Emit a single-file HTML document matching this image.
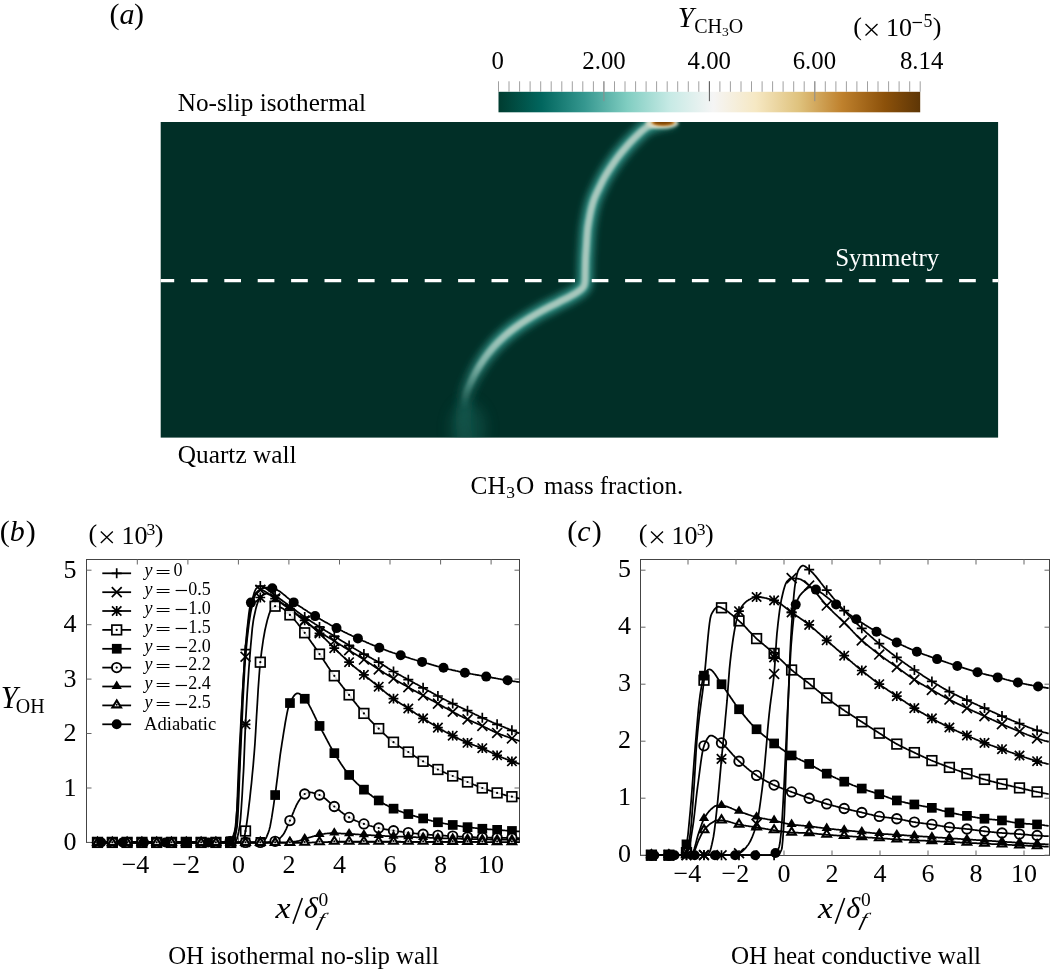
<!DOCTYPE html>
<html><head><meta charset="utf-8"><title>figure</title>
<style>
html,body{margin:0;padding:0;background:#fff}
svg{display:block;will-change:transform}
text{font-family:"Liberation Serif",serif;fill:#000}
.it{font-style:italic}
.t25{font-size:24.8px}
.tk{font-size:26px}
.lg{font-size:18px}
.ch .ln{fill:none;stroke:#000;stroke-width:1.75;stroke-linejoin:round}
.mk *{fill:none;stroke:#000}
.mk{stroke-width:1.7}
.mk .f{fill:#000;stroke:none}
.mk .d{fill:#000;stroke:none}
.mk .w{fill:#fff;fill-opacity:0.85}
.lgm .w{fill-opacity:1}
.ax rect{fill:none;stroke:#444;stroke-width:1}
.ax path{fill:none;stroke:#666;stroke-width:1}
</style></head><body>
<svg width="1050" height="970" viewBox="0 0 1050 970">
<defs>
<linearGradient id="cb" x1="0" x2="1.0175" y1="0" y2="0">
<stop offset="0" stop-color="#003c30"/><stop offset="0.1" stop-color="#01665e"/><stop offset="0.2" stop-color="#35978f"/><stop offset="0.3" stop-color="#80cdc1"/><stop offset="0.4" stop-color="#c7eae5"/><stop offset="0.5" stop-color="#f5f5f5"/><stop offset="0.6" stop-color="#f6e8c3"/><stop offset="0.7" stop-color="#dfc27d"/><stop offset="0.8" stop-color="#bf812d"/><stop offset="0.9" stop-color="#8c510a"/><stop offset="1" stop-color="#543005"/>
</linearGradient>
<linearGradient id="fadeG" gradientUnits="userSpaceOnUse" x1="0" y1="122" x2="0" y2="438">
<stop offset="0" stop-color="#2f8f84" stop-opacity="1"/><stop offset="0.68" stop-color="#2f8f84" stop-opacity="1"/><stop offset="0.78" stop-color="#2a8378" stop-opacity="0.75"/><stop offset="0.88" stop-color="#1f6f64" stop-opacity="0.4"/><stop offset="1" stop-color="#1a655a" stop-opacity="0.22"/>
</linearGradient>
<linearGradient id="fadeC" gradientUnits="userSpaceOnUse" x1="0" y1="122" x2="0" y2="438">
<stop offset="0" stop-color="#a9c9be" stop-opacity="1"/><stop offset="0.66" stop-color="#a6c7bc" stop-opacity="1"/><stop offset="0.77" stop-color="#a5cbc0" stop-opacity="0.7"/><stop offset="0.85" stop-color="#84bdb0" stop-opacity="0.3"/><stop offset="0.91" stop-color="#6ab0a4" stop-opacity="0"/><stop offset="1" stop-color="#6ab0a4" stop-opacity="0"/>
</linearGradient>
<filter id="b1" x="-20%" y="-20%" width="140%" height="140%"><feGaussianBlur stdDeviation="1.7"/></filter>
<filter id="b05" x="-20%" y="-50%" width="140%" height="200%"><feGaussianBlur stdDeviation="0.9"/></filter>
<filter id="b3" x="-20%" y="-20%" width="140%" height="140%"><feGaussianBlur stdDeviation="3.6"/></filter>
<filter id="b8" x="-50%" y="-50%" width="200%" height="200%"><feGaussianBlur stdDeviation="7"/></filter>
<clipPath id="hm"><rect x="160.7" y="122" width="837.4" height="315.6"/></clipPath>
</defs>
<rect x="0" y="0" width="1050" height="970" fill="#fff"/>

<rect x="160.7" y="122" width="837.4" height="315.6" fill="#012f27"/>
<g clip-path="url(#hm)">
<ellipse cx="468" cy="428" rx="18" ry="26" fill="#1a6a5f" opacity="0.42" filter="url(#b8)"/>
<path d="M674 119C672 119.5 665.4 121.1 662 122C658.6 122.9 656.2 123.4 653.5 124.3C650.8 125.2 648.5 125.9 646 127.6C643.5 129.3 640.8 131.9 638.3 134.3C635.8 136.7 633.2 139.2 630.7 141.9C628.2 144.6 625.5 147.7 623.1 150.5C620.7 153.3 618.6 156 616.4 159C614.2 162 611.9 165.4 609.8 168.6C607.7 171.8 605.8 174.9 604 178.1C602.2 181.3 600.9 184.3 599.3 187.6C597.7 190.9 595.9 194.5 594.5 198.1C593.1 201.7 592.1 205.3 591.2 209C590.3 212.7 589.6 216.5 589 220C588.4 223.5 587.9 225.9 587.5 230C587.1 234.1 586.8 239.5 586.5 244.3C586.2 249.1 585.8 253.8 585.6 258.6C585.4 263.4 585.3 269.2 585.2 272.9C585.1 276.5 585.2 278.3 585 280.5C584.8 282.7 584.8 284.4 583.8 286.2C582.8 287.9 581.4 289.2 579 291C576.6 292.8 572.9 294.8 569.5 296.7C566.1 298.6 562.9 300.1 558.5 302.4C554.1 304.7 547.8 307.6 542.9 310.3C538 313 533.7 315.5 529.1 318.3C524.5 321.1 519.6 324.3 515.4 327.4C511.2 330.4 507.6 333.4 504 336.6C500.4 339.9 496.9 343.3 493.7 346.9C490.5 350.5 487.5 354.3 484.6 358.3C481.8 362.3 478.9 366.9 476.6 370.9C474.3 374.9 472.6 378.5 470.9 382.3C469.2 386.1 467.4 389.6 466.3 393.7C465.2 397.8 464.7 402 464.2 406.7C463.7 411.4 463.4 416.4 463.5 422C463.6 427.6 464.8 437 465 440" fill="none" stroke="url(#fadeG)" stroke-width="15" stroke-linejoin="round" filter="url(#b3)"/>
<path d="M674 119C672 119.5 665.4 121.1 662 122C658.6 122.9 656.2 123.4 653.5 124.3C650.8 125.2 648.5 125.9 646 127.6C643.5 129.3 640.8 131.9 638.3 134.3C635.8 136.7 633.2 139.2 630.7 141.9C628.2 144.6 625.5 147.7 623.1 150.5C620.7 153.3 618.6 156 616.4 159C614.2 162 611.9 165.4 609.8 168.6C607.7 171.8 605.8 174.9 604 178.1C602.2 181.3 600.9 184.3 599.3 187.6C597.7 190.9 595.9 194.5 594.5 198.1C593.1 201.7 592.1 205.3 591.2 209C590.3 212.7 589.6 216.5 589 220C588.4 223.5 587.9 225.9 587.5 230C587.1 234.1 586.8 239.5 586.5 244.3C586.2 249.1 585.8 253.8 585.6 258.6C585.4 263.4 585.3 269.2 585.2 272.9C585.1 276.5 585.2 278.3 585 280.5C584.8 282.7 584.8 284.4 583.8 286.2C582.8 287.9 581.4 289.2 579 291C576.6 292.8 572.9 294.8 569.5 296.7C566.1 298.6 562.9 300.1 558.5 302.4C554.1 304.7 547.8 307.6 542.9 310.3C538 313 533.7 315.5 529.1 318.3C524.5 321.1 519.6 324.3 515.4 327.4C511.2 330.4 507.6 333.4 504 336.6C500.4 339.9 496.9 343.3 493.7 346.9C490.5 350.5 487.5 354.3 484.6 358.3C481.8 362.3 478.9 366.9 476.6 370.9C474.3 374.9 472.6 378.5 470.9 382.3C469.2 386.1 467.4 389.6 466.3 393.7C465.2 397.8 464.7 402 464.2 406.7C463.7 411.4 463.4 416.4 463.5 422C463.6 427.6 464.8 437 465 440" fill="none" stroke="url(#fadeC)" stroke-width="7" stroke-linejoin="round" filter="url(#b1)"/>
<ellipse cx="662" cy="123.2" rx="16.5" ry="5.6" fill="#e4dfc8" opacity="0.85" filter="url(#b1)"/>
<ellipse cx="663.1" cy="122.3" rx="12" ry="3.7" fill="#c98a36" filter="url(#b05)"/>
<ellipse cx="663.1" cy="122.3" rx="9.6" ry="2.5" fill="#7d4206" filter="url(#b05)"/>
<path d="M157.5 280.6H998" stroke="#fff" stroke-width="3.3" stroke-dasharray="16.7 16.7" fill="none"/>
</g>
<text font-size="25" x="835.2" y="266.2" style="fill:#fff">Symmetry</text>
<text font-size="25.2" x="177.8" y="111">No-slip isothermal</text>
<text font-size="25.3" x="177.8" y="462.8">Quartz wall</text>
<text font-size="25.3" x="470.6" y="494.3">CH<tspan font-size="17.5" dy="3.2" dx="0.6">3</tspan><tspan dy="-3.2" dx="0.8">O</tspan></text>
<text class="t25" x="544" y="494.3">mass fraction.</text>
<text class="it" font-size="30" x="109.4" y="24"><tspan style="font-style:normal">(</tspan>a<tspan style="font-style:normal" dx="-0.5">)</tspan></text>
<rect x="498.5" y="91.8" width="421.7" height="20.5" fill="url(#cb)"/>
<path d="M498.5 81.3V91.8M509 81.3V91.8M519.6 81.3V91.8M530.1 81.3V91.8M540.7 81.3V91.8M551.2 81.3V91.8M561.8 81.3V91.8M572.3 81.3V91.8M582.8 81.3V91.8M593.4 81.3V91.8M603.9 81.3V91.8M614.5 81.3V91.8M625 81.3V91.8M635.6 81.3V91.8M646.1 81.3V91.8M656.6 81.3V91.8M667.2 81.3V91.8M677.7 81.3V91.8M688.3 81.3V91.8M698.8 81.3V91.8M709.4 81.3V91.8M719.9 81.3V91.8M730.4 81.3V91.8M741 81.3V91.8M751.5 81.3V91.8M762.1 81.3V91.8M772.6 81.3V91.8M783.1 81.3V91.8M793.7 81.3V91.8M804.2 81.3V91.8M814.8 81.3V91.8M825.3 81.3V91.8M835.9 81.3V91.8M846.4 81.3V91.8M856.9 81.3V91.8M867.5 81.3V91.8M878 81.3V91.8M888.6 81.3V91.8M899.1 81.3V91.8M909.7 81.3V91.8M920.2 81.3V91.8" stroke="#a0a0a0" stroke-width="1" fill="none"/>
<path d="M603.9 81.3V101.2" stroke="#8c8c8c" stroke-width="1" fill="none"/>
<path d="M709.4 81.3V101.2" stroke="#5a5a5a" stroke-width="1" fill="none"/>
<path d="M814.8 81.3V101.2" stroke="#8c8c8c" stroke-width="1" fill="none"/>
<text class="t25" x="497.8" y="68.6" text-anchor="middle">0</text>
<text class="t25" x="604" y="68.6" text-anchor="middle">2.00</text>
<text class="t25" x="709.3" y="68.6" text-anchor="middle">4.00</text>
<text class="t25" x="814.4" y="68.6" text-anchor="middle">6.00</text>
<text class="t25" x="921.6" y="68.6" text-anchor="middle">8.14</text>
<text class="it" font-size="29" x="677.8" y="27.4">Y</text>
<text font-size="20" x="694.2" y="33">CH<tspan font-size="13.5" dy="2.5">3</tspan><tspan dy="-2.5">O</tspan></text>
<text class="tk" x="853.3" y="34.8">(</text>
<path d="M865.5 24l12 11.4M865.5 35.4l12 -11.4" stroke="#000" stroke-width="1.35" fill="none"/>
<text class="tk" x="886.1" y="36">10</text>
<path d="M912.5 22.5h9.5" stroke="#000" stroke-width="1.2" fill="none"/>
<text font-size="17.8" x="923.6" y="27">5</text>
<text class="tk" x="932.7" y="34.8">)</text>
<g class="ax">
<rect x="86.5" y="559.5" width="433" height="283"/>
<path d="M137.3 842.5v-5M137.3 559.5v5M187.9 842.5v-5M187.9 559.5v5M238.4 842.5v-5M238.4 559.5v5M288.9 842.5v-5M288.9 559.5v5M339.5 842.5v-5M339.5 559.5v5M390 842.5v-5M390 559.5v5M440.6 842.5v-5M440.6 559.5v5M491.1 842.5v-5M491.1 559.5v5M86.5 842.4h5M519.5 842.4h-5M86.5 788h5M519.5 788h-5M86.5 733.5h5M519.5 733.5h-5M86.5 679.1h5M519.5 679.1h-5M86.5 624.7h5M519.5 624.7h-5M86.5 570.2h5M519.5 570.2h-5"/>
</g>
<g class="ch">
<path class="ln" d="M97.5 842.4 98.3 842.4 99.2 842.4 100 842.4 100.9 842.4 101.7 842.4 102.6 842.4 103.4 842.4 104.3 842.4 105.1 842.4 106 842.4 106.8 842.4 107.6 842.4 108.5 842.4 109.3 842.4 110.2 842.4 111 842.4 111.9 842.4 112.7 842.4 113.6 842.4 114.4 842.4 115.3 842.4 116.1 842.4 117 842.4 117.8 842.4 118.6 842.4 119.5 842.4 120.3 842.4 121.2 842.4 122 842.4 122.9 842.4 123.7 842.4 124.6 842.4 125.4 842.4 126.3 842.4 127.1 842.4 128 842.4 128.8 842.4 129.6 842.4 130.5 842.4 131.3 842.4 132.2 842.4 133 842.4 133.9 842.4 134.7 842.4 135.6 842.4 136.4 842.4 137.3 842.4 138.1 842.4 138.9 842.4 139.8 842.4 140.6 842.4 141.5 842.4 142.3 842.4 143.2 842.4 144 842.4 144.9 842.4 145.7 842.4 146.6 842.4 147.4 842.4 148.3 842.4 149.1 842.4 149.9 842.4 150.8 842.4 151.6 842.4 152.5 842.4 153.3 842.4 154.2 842.4 155 842.4 155.9 842.4 156.7 842.4 157.6 842.4 158.4 842.4 159.3 842.4 160.1 842.4 160.9 842.4 161.8 842.4 162.6 842.4 163.5 842.4 164.3 842.4 165.2 842.4 166 842.4 166.9 842.4 167.7 842.4 168.6 842.4 169.4 842.4 170.3 842.4 171.1 842.4 171.9 842.4 172.8 842.4 173.6 842.4 174.5 842.4 175.3 842.4 176.2 842.4 177 842.4 177.9 842.4 178.7 842.4 179.6 842.4 180.4 842.4 181.2 842.4 182.1 842.4 182.9 842.4 183.8 842.4 184.6 842.4 185.5 842.4 186.3 842.4 187.2 842.4 188 842.4 188.9 842.4 189.7 842.4 190.6 842.4 191.4 842.4 192.2 842.4 193.1 842.4 193.9 842.4 194.8 842.4 195.6 842.4 196.5 842.4 197.3 842.4 198.2 842.4 199 842.4 199.9 842.4 200.7 842.4 201.6 842.4 202.4 842.4 203.2 842.4 204.1 842.4 204.9 842.4 205.8 842.4 206.6 842.4 207.5 842.4 208.3 842.4 209.2 842.4 210 842.4 210.9 842.4 211.7 842.4 212.6 842.4 213.4 842.4 214.2 842.4 215.1 842.4 215.9 842.4 216.8 842.4 217.6 842.4 218.5 842.4 219.3 842.4 220.2 842.4 221 842.4 221.9 842.4 222.7 842.4 223.6 842.4 224.4 842.4 225.2 842.4 225.8 842.4 226.1 842.4 226.9 842.3 227.8 842.2 228.6 842.1 229.5 841.8 230.3 841.6 231.2 841.2 232 840.8 232.1 840.8 232.9 839.8 233.7 837.4 234.5 833.8 235.4 829.1 235.9 826.1 236.2 822.4 237.1 806.4 237.9 784.8 238.8 763.3 239.2 755.3 239.6 746.4 240.5 730.2 241.3 714.2 242.2 698.8 243 684.3 243.9 671 244.7 659.2 245.5 649.7 245.5 649.2 246.4 640.5 247.2 632.4 248.1 625 248.9 618.4 249.8 612.6 250.6 607.7 251 605.6 251.5 603.6 252.3 599.9 253.2 596.4 254 593.4 254.9 591 255.7 589.3 256.1 588.8 256.5 588.3 257.4 587.5 258.2 586.8 259.1 586.3 259.9 586.1 260.3 586 260.8 586.1 261.6 586.2 262.5 586.5 263.3 586.9 264.2 587.3 265 587.9 265.9 588.4 266.7 589 267.5 589.6 268.4 590.2 268.7 590.4 269.2 590.7 270.1 591.3 270.9 592 271.8 592.6 272.6 593.3 273.5 594 274.3 594.7 275.1 595.3 275.2 595.3 276 596 276.8 596.6 277.7 597.2 278.5 597.9 279.4 598.5 280.2 599.1 281.1 599.7 281.9 600.3 282.8 601 283.6 601.6 284.5 602.2 285.3 602.8 286.2 603.4 287 604 287.8 604.7 288.7 605.3 289.5 605.9 289.9 606.2 290.4 606.5 291.2 607.2 292.1 607.8 292.9 608.4 293.8 609 294.6 609.7 295.5 610.3 296.3 610.9 297.2 611.6 298 612.2 298.8 612.8 299.7 613.5 300.5 614.1 301.4 614.7 302.2 615.3 303.1 615.9 303.9 616.5 304.7 617.1 304.8 617.1 305.6 617.7 306.5 618.3 307.3 618.9 308.2 619.4 309 620 309.8 620.6 310.7 621.1 311.5 621.7 312.4 622.2 313.2 622.8 314.1 623.3 314.9 623.9 315.8 624.4 316.6 625 317.5 625.5 318.3 626.1 319.1 626.6 319.5 626.9 320 627.2 320.8 627.7 321.7 628.3 322.5 628.8 323.4 629.3 324.2 629.8 325.1 630.4 325.9 630.9 326.8 631.4 327.6 632 328.5 632.5 329.3 633 330.1 633.5 331 634.1 331.8 634.6 332.7 635.1 333.5 635.6 334.3 636.1 334.4 636.2 335.2 636.7 336.1 637.2 336.9 637.8 337.8 638.3 338.6 638.8 339.5 639.4 340.3 639.9 341.1 640.4 342 641 342.8 641.5 343.7 642 344.5 642.5 345.4 643.1 346.2 643.6 347.1 644.1 347.9 644.6 348.8 645.2 349.1 645.4 349.6 645.7 350.5 646.2 351.3 646.7 352.1 647.2 353 647.7 353.8 648.2 354.7 648.7 355.5 649.2 356.4 649.7 357.2 650.2 358.1 650.7 358.9 651.2 359.8 651.7 360.6 652.2 361.5 652.7 362.3 653.2 363.1 653.6 363.9 654.1 364 654.1 364.8 654.6 365.7 655.1 366.5 655.5 367.4 656 368.2 656.5 369.1 656.9 369.9 657.4 370.8 657.8 371.6 658.3 372.4 658.7 373.3 659.2 374.1 659.7 375 660.1 375.8 660.6 376.7 661.1 377.5 661.6 378.4 662 378.7 662.2 379.2 662.5 380.1 663 380.9 663.6 381.8 664.1 382.6 664.6 383.4 665.2 384.3 665.7 385.1 666.2 386 666.8 386.8 667.3 387.7 667.9 388.5 668.4 389.4 669 390.2 669.5 391.1 670 391.9 670.5 392.8 671 393.5 671.5 393.6 671.5 394.4 672 395.3 672.5 396.1 673 397 673.5 397.8 673.9 398.7 674.4 399.5 674.9 400.4 675.3 401.2 675.8 402.1 676.3 402.9 676.7 403.8 677.2 404.6 677.6 405.4 678.1 406.3 678.5 407.1 679 408 679.5 408.3 679.7 408.8 679.9 409.7 680.4 410.5 680.9 411.4 681.3 412.2 681.8 413.1 682.3 413.9 682.7 414.7 683.2 415.6 683.7 416.4 684.1 417.3 684.6 418.1 685.1 419 685.5 419.8 686 420.7 686.5 421.5 686.9 422.4 687.4 423.1 687.8 423.2 687.9 424.1 688.3 424.9 688.8 425.7 689.3 426.6 689.8 427.4 690.2 428.3 690.7 429.1 691.2 430 691.6 430.8 692.1 431.7 692.6 432.5 693 433.4 693.5 434.2 694 435.1 694.4 435.9 694.9 436.7 695.4 437.6 695.8 437.9 696 438.4 696.3 439.3 696.7 440.1 697.2 441 697.6 441.8 698 442.7 698.5 443.5 698.9 444.4 699.4 445.2 699.8 446.1 700.2 446.9 700.7 447.7 701.1 448.6 701.5 449.4 702 450.3 702.4 451.1 702.8 452 703.2 452.7 703.6 452.8 703.7 453.7 704.1 454.5 704.5 455.4 704.9 456.2 705.3 457.1 705.7 457.9 706.1 458.7 706.5 459.6 706.9 460.4 707.3 461.3 707.7 462.1 708.1 463 708.5 463.8 708.9 464.7 709.3 465.5 709.7 466.4 710.1 467.2 710.5 467.5 710.7 468 710.9 468.9 711.3 469.7 711.8 470.6 712.2 471.4 712.6 472.3 713 473.1 713.4 474 713.8 474.8 714.2 475.7 714.6 476.5 715 477.4 715.4 478.2 715.8 479 716.2 479.9 716.6 480.7 717 481.6 717.4 482.3 717.8 482.4 717.8 483.3 718.2 484.1 718.6 485 719 485.8 719.3 486.7 719.7 487.5 720.1 488.4 720.5 489.2 720.9 490 721.2 490.9 721.6 491.7 722 492.6 722.3 493.4 722.7 494.3 723.1 495.1 723.4 496 723.8 496.8 724.2 497.1 724.3 497.7 724.5 498.5 724.9 499.4 725.2 500.2 725.6 501 725.9 501.9 726.3 502.7 726.6 503.6 726.9 504.4 727.3 505.3 727.6 506.1 728 507 728.3 507.8 728.6 508.7 729 509.5 729.3 510.3 729.6 511.2 730 511.9 730.3 512 730.3 512.9 730.7 513.7 731 514.6 731.3 515.4 731.7 516.3 732 517.1 732.4 518 732.7 518.8 733 519.7 733.4"/>
<path class="ln" d="M97.5 842.4 98.3 842.4 99.2 842.4 100 842.4 100.9 842.4 101.7 842.4 102.6 842.4 103.4 842.4 104.3 842.4 105.1 842.4 106 842.4 106.8 842.4 107.6 842.4 108.5 842.4 109.3 842.4 110.2 842.4 111 842.4 111.9 842.4 112.7 842.4 113.6 842.4 114.4 842.4 115.3 842.4 116.1 842.4 117 842.4 117.8 842.4 118.6 842.4 119.5 842.4 120.3 842.4 121.2 842.4 122 842.4 122.9 842.4 123.7 842.4 124.6 842.4 125.4 842.4 126.3 842.4 127.1 842.4 128 842.4 128.8 842.4 129.6 842.4 130.5 842.4 131.3 842.4 132.2 842.4 133 842.4 133.9 842.4 134.7 842.4 135.6 842.4 136.4 842.4 137.3 842.4 138.1 842.4 138.9 842.4 139.8 842.4 140.6 842.4 141.5 842.4 142.3 842.4 143.2 842.4 144 842.4 144.9 842.4 145.7 842.4 146.6 842.4 147.4 842.4 148.3 842.4 149.1 842.4 149.9 842.4 150.8 842.4 151.6 842.4 152.5 842.4 153.3 842.4 154.2 842.4 155 842.4 155.9 842.4 156.7 842.4 157.6 842.4 158.4 842.4 159.3 842.4 160.1 842.4 160.9 842.4 161.8 842.4 162.6 842.4 163.5 842.4 164.3 842.4 165.2 842.4 166 842.4 166.9 842.4 167.7 842.4 168.6 842.4 169.4 842.4 170.3 842.4 171.1 842.4 171.9 842.4 172.8 842.4 173.6 842.4 174.5 842.4 175.3 842.4 176.2 842.4 177 842.4 177.9 842.4 178.7 842.4 179.6 842.4 180.4 842.4 181.2 842.4 182.1 842.4 182.9 842.4 183.8 842.4 184.6 842.4 185.5 842.4 186.3 842.4 187.2 842.4 188 842.4 188.9 842.4 189.7 842.4 190.6 842.4 191.4 842.4 192.2 842.4 193.1 842.4 193.9 842.4 194.8 842.4 195.6 842.4 196.5 842.4 197.3 842.4 198.2 842.4 199 842.4 199.9 842.4 200.7 842.4 201.6 842.4 202.4 842.4 203.2 842.4 204.1 842.4 204.9 842.4 205.8 842.4 206.6 842.4 207.5 842.4 208.3 842.4 209.2 842.4 210 842.4 210.9 842.4 211.7 842.4 212.6 842.4 213.4 842.4 214.2 842.4 215.1 842.4 215.9 842.4 216.8 842.4 217.6 842.4 218.5 842.4 219.3 842.4 220.2 842.4 221 842.4 221.9 842.4 222.7 842.4 223.6 842.4 224.4 842.4 225.2 842.4 226.1 842.4 226.9 842.4 227 842.4 227.8 842.4 228.6 842.3 229.5 842.2 230.3 842 231.2 841.7 232 841.4 232.9 841 233.3 840.8 233.7 840.5 234.5 838.7 235.4 835.7 236.2 831.6 237.1 826.4 237.1 826.1 237.9 815.6 238.8 796.4 239.6 774.2 240.4 755.3 240.5 754.3 241.3 736.3 242.2 717.7 243 699.4 243.9 682.5 244.7 667.8 245.5 656.8 245.5 656.3 246.4 646.9 247.2 638.4 248.1 630.8 248.9 624.1 249.8 618.2 250.6 613.2 251 611.1 251.5 608.9 252.3 605 253.2 601.3 254 598.2 254.9 595.6 255.7 593.7 256.1 593.1 256.5 592.6 257.4 591.6 258.2 590.8 259.1 590.2 259.9 589.9 260.3 589.8 260.8 589.9 261.6 590 262.5 590.2 263.3 590.6 264.2 591 265 591.4 265.9 591.9 266.7 592.4 267.5 592.9 268.4 593.5 268.7 593.7 269.2 594 270.1 594.5 270.9 595.2 271.8 595.8 272.6 596.5 273.5 597.2 274.3 597.9 275.1 598.6 275.2 598.6 276 599.2 276.8 599.9 277.7 600.5 278.5 601.1 279.4 601.7 280.2 602.3 281.1 603 281.9 603.6 282.8 604.2 283.6 604.8 284.5 605.4 285.3 606 286.2 606.7 287 607.3 287.8 607.9 288.7 608.5 289.5 609.2 289.9 609.4 290.4 609.8 291.2 610.4 292.1 611.1 292.9 611.7 293.8 612.4 294.6 613.1 295.5 613.7 296.3 614.4 297.2 615 298 615.7 298.8 616.4 299.7 617 300.5 617.7 301.4 618.3 302.2 619 303.1 619.6 303.9 620.3 304.7 620.9 304.8 620.9 305.6 621.6 306.5 622.2 307.3 622.8 308.2 623.5 309 624.1 309.8 624.8 310.7 625.4 311.5 626 312.4 626.7 313.2 627.3 314.1 627.9 314.9 628.5 315.8 629.1 316.6 629.7 317.5 630.3 318.3 630.9 319.1 631.5 319.5 631.8 320 632.1 320.8 632.6 321.7 633.2 322.5 633.7 323.4 634.3 324.2 634.8 325.1 635.3 325.9 635.9 326.8 636.4 327.6 636.9 328.5 637.4 329.3 637.9 330.1 638.5 331 639 331.8 639.5 332.7 640 333.5 640.5 334.3 641 334.4 641.1 335.2 641.6 336.1 642.1 336.9 642.6 337.8 643.2 338.6 643.7 339.5 644.2 340.3 644.8 341.1 645.3 342 645.8 342.8 646.3 343.7 646.9 344.5 647.4 345.4 647.9 346.2 648.5 347.1 649 347.9 649.5 348.8 650 349.1 650.3 349.6 650.6 350.5 651.1 351.3 651.6 352.1 652.2 353 652.7 353.8 653.2 354.7 653.7 355.5 654.2 356.4 654.8 357.2 655.3 358.1 655.8 358.9 656.4 359.8 656.9 360.6 657.4 361.5 657.9 362.3 658.5 363.1 659 363.9 659.5 364 659.6 364.8 660.1 365.7 660.7 366.5 661.2 367.4 661.8 368.2 662.3 369.1 662.9 369.9 663.5 370.8 664 371.6 664.6 372.4 665.2 373.3 665.7 374.1 666.3 375 666.9 375.8 667.4 376.7 668 377.5 668.5 378.4 669.1 378.7 669.3 379.2 669.6 380.1 670.2 380.9 670.7 381.8 671.3 382.6 671.8 383.4 672.3 384.3 672.9 385.1 673.4 386 673.9 386.8 674.5 387.7 675 388.5 675.5 389.4 676 390.2 676.6 391.1 677.1 391.9 677.6 392.8 678.1 393.5 678.6 393.6 678.6 394.4 679.1 395.3 679.6 396.1 680.2 397 680.7 397.8 681.2 398.7 681.7 399.5 682.2 400.4 682.7 401.2 683.2 402.1 683.7 402.9 684.2 403.8 684.7 404.6 685.1 405.4 685.6 406.3 686.1 407.1 686.6 408 687.1 408.3 687.3 408.8 687.6 409.7 688 410.5 688.5 411.4 689 412.2 689.5 413.1 689.9 413.9 690.4 414.7 690.9 415.6 691.3 416.4 691.8 417.3 692.3 418.1 692.7 419 693.2 419.8 693.6 420.7 694.1 421.5 694.6 422.4 695 423.1 695.4 423.2 695.5 424.1 696 424.9 696.4 425.7 696.9 426.6 697.4 427.4 697.8 428.3 698.3 429.1 698.8 430 699.2 430.8 699.7 431.7 700.2 432.5 700.6 433.4 701.1 434.2 701.6 435.1 702 435.9 702.5 436.7 703 437.6 703.4 437.9 703.6 438.4 703.9 439.3 704.4 440.1 704.8 441 705.3 441.8 705.8 442.7 706.2 443.5 706.7 444.4 707.2 445.2 707.7 446.1 708.1 446.9 708.6 447.7 709.1 448.6 709.5 449.4 710 450.3 710.5 451.1 710.9 452 711.4 452.7 711.8 452.8 711.8 453.7 712.3 454.5 712.7 455.4 713.2 456.2 713.6 457.1 714.1 457.9 714.5 458.7 715 459.6 715.4 460.4 715.9 461.3 716.3 462.1 716.7 463 717.2 463.8 717.6 464.7 718 465.5 718.4 466.4 718.8 467.2 719.2 467.5 719.4 468 719.6 468.9 720 469.7 720.4 470.6 720.8 471.4 721.2 472.3 721.5 473.1 721.9 474 722.3 474.8 722.6 475.7 723 476.5 723.4 477.4 723.7 478.2 724.1 479 724.5 479.9 724.8 480.7 725.2 481.6 725.6 482.3 725.9 482.4 726 483.3 726.4 484.1 726.8 485 727.2 485.8 727.6 486.7 728 487.5 728.4 488.4 728.9 489.2 729.3 490 729.7 490.9 730.1 491.7 730.5 492.6 730.9 493.4 731.4 494.3 731.7 495.1 732.1 496 732.5 496.8 732.9 497.1 733 497.7 733.2 498.5 733.6 499.4 733.9 500.2 734.2 501 734.6 501.9 734.9 502.7 735.2 503.6 735.5 504.4 735.8 505.3 736.1 506.1 736.4 507 736.7 507.8 737 508.7 737.3 509.5 737.6 510.3 737.9 511.2 738.2 511.9 738.4 512 738.5 512.9 738.8 513.7 739.1 514.6 739.4 515.4 739.7 516.3 740 517.1 740.2 518 740.5 518.8 740.8 519.7 741.1"/>
<path class="ln" d="M97.5 842.4 98.3 842.4 99.2 842.4 100 842.4 100.9 842.4 101.7 842.4 102.6 842.4 103.4 842.4 104.3 842.4 105.1 842.4 106 842.4 106.8 842.4 107.6 842.4 108.5 842.4 109.3 842.4 110.2 842.4 111 842.4 111.9 842.4 112.7 842.4 113.6 842.4 114.4 842.4 115.3 842.4 116.1 842.4 117 842.4 117.8 842.4 118.6 842.4 119.5 842.4 120.3 842.4 121.2 842.4 122 842.4 122.9 842.4 123.7 842.4 124.6 842.4 125.4 842.4 126.3 842.4 127.1 842.4 128 842.4 128.8 842.4 129.6 842.4 130.5 842.4 131.3 842.4 132.2 842.4 133 842.4 133.9 842.4 134.7 842.4 135.6 842.4 136.4 842.4 137.3 842.4 138.1 842.4 138.9 842.4 139.8 842.4 140.6 842.4 141.5 842.4 142.3 842.4 143.2 842.4 144 842.4 144.9 842.4 145.7 842.4 146.6 842.4 147.4 842.4 148.3 842.4 149.1 842.4 149.9 842.4 150.8 842.4 151.6 842.4 152.5 842.4 153.3 842.4 154.2 842.4 155 842.4 155.9 842.4 156.7 842.4 157.6 842.4 158.4 842.4 159.3 842.4 160.1 842.4 160.9 842.4 161.8 842.4 162.6 842.4 163.5 842.4 164.3 842.4 165.2 842.4 166 842.4 166.9 842.4 167.7 842.4 168.6 842.4 169.4 842.4 170.3 842.4 171.1 842.4 171.9 842.4 172.8 842.4 173.6 842.4 174.5 842.4 175.3 842.4 176.2 842.4 177 842.4 177.9 842.4 178.7 842.4 179.6 842.4 180.4 842.4 181.2 842.4 182.1 842.4 182.9 842.4 183.8 842.4 184.6 842.4 185.5 842.4 186.3 842.4 187.2 842.4 188 842.4 188.9 842.4 189.7 842.4 190.6 842.4 191.4 842.4 192.2 842.4 193.1 842.4 193.9 842.4 194.8 842.4 195.6 842.4 196.5 842.4 197.3 842.4 198.2 842.4 199 842.4 199.9 842.4 200.7 842.4 201.6 842.4 202.4 842.4 203.2 842.4 204.1 842.4 204.9 842.4 205.8 842.4 206.6 842.4 207.5 842.4 208.3 842.4 209.2 842.4 210 842.4 210.9 842.4 211.7 842.4 212.6 842.4 213.4 842.4 214.2 842.4 215.1 842.4 215.9 842.4 216.8 842.4 217.6 842.4 218.5 842.4 219.3 842.4 220.2 842.4 221 842.4 221.9 842.4 222.7 842.4 223.6 842.4 224.4 842.4 225.2 842.4 226.1 842.4 226.9 842.4 227.8 842.4 228.6 842.4 229.5 842.4 230.3 842.4 230.8 842.4 231.2 842.4 232 842.3 232.9 842.1 233.7 841.9 234.5 841.5 235.4 841.1 235.9 840.8 236.2 840.4 237.1 838.5 237.9 835.3 238.8 831.2 239.6 826.3 239.7 826.1 240.5 819.1 241.3 808.2 242.2 794.7 243 779.7 243.5 771.6 243.9 763.4 244.7 742.6 245.5 724.3 245.5 723.4 246.4 707.9 247.2 693.5 248.1 680.2 248.9 668.2 249.8 657.3 249.8 657.3 250.6 647 251.5 637.1 252.3 628.4 253.2 621.6 253.6 619.2 254 617 254.9 613 255.7 609.4 256.5 606.2 257.4 603.5 258.2 601.1 259.1 599.3 259.9 597.9 260.3 597.5 260.8 597 261.6 596.1 262.5 595.4 263.3 594.7 264.2 594.2 265 593.9 265.9 593.7 266.2 593.7 266.7 593.7 267.5 593.9 268.4 594.2 269.2 594.6 270.1 595.1 270.9 595.6 271.8 596.2 272.6 596.8 273.5 597.5 274.3 598 275.1 598.6 275.2 598.6 276 599.1 276.8 599.6 277.7 600.2 278.5 600.8 279.4 601.3 280.2 601.9 281.1 602.5 281.9 603.1 282.8 603.7 283.6 604.3 284.5 604.9 285.3 605.5 286.2 606.1 287 606.8 287.8 607.4 288.7 608 289.5 608.6 289.9 608.9 290.4 609.2 291.2 609.9 292.1 610.5 292.9 611.1 293.8 611.8 294.6 612.4 295.5 613 296.3 613.7 297.2 614.3 298 615 298.8 615.6 299.7 616.3 300.5 617 301.4 617.6 302.2 618.3 303.1 619 303.9 619.7 304.7 620.3 304.8 620.4 305.6 621.1 306.5 621.8 307.3 622.5 308.2 623.2 309 623.9 309.8 624.7 310.7 625.4 311.5 626.2 312.4 626.9 313.2 627.7 314.1 628.4 314.9 629.2 315.8 629.9 316.6 630.7 317.5 631.5 318.3 632.3 319.1 633.1 319.5 633.4 320 633.9 320.8 634.7 321.7 635.5 322.5 636.3 323.4 637.1 324.2 638 325.1 638.8 325.9 639.7 326.8 640.5 327.6 641.4 328.5 642.2 329.3 643.1 330.1 643.9 331 644.8 331.8 645.6 332.7 646.5 333.5 647.3 334.3 648.1 334.4 648.2 335.2 649 336.1 649.8 336.9 650.6 337.8 651.5 338.6 652.3 339.5 653.1 340.3 653.9 341.1 654.8 342 655.6 342.8 656.4 343.7 657.2 344.5 658 345.4 658.8 346.2 659.6 347.1 660.4 347.9 661.2 348.8 661.9 349.1 662.2 349.6 662.7 350.5 663.4 351.3 664.2 352.1 664.9 353 665.6 353.8 666.4 354.7 667.1 355.5 667.8 356.4 668.5 357.2 669.2 358.1 669.9 358.9 670.6 359.8 671.3 360.6 672 361.5 672.7 362.3 673.4 363.1 674.1 363.9 674.8 364 674.8 364.8 675.5 365.7 676.2 366.5 676.9 367.4 677.6 368.2 678.3 369.1 679 369.9 679.7 370.8 680.3 371.6 681 372.4 681.7 373.3 682.4 374.1 683.1 375 683.7 375.8 684.4 376.7 685.1 377.5 685.8 378.4 686.5 378.7 686.7 379.2 687.1 380.1 687.8 380.9 688.5 381.8 689.2 382.6 689.9 383.4 690.6 384.3 691.4 385.1 692.1 386 692.8 386.8 693.5 387.7 694.2 388.5 694.8 389.4 695.5 390.2 696.2 391.1 696.9 391.9 697.5 392.8 698.1 393.5 698.7 393.6 698.8 394.4 699.4 395.3 700 396.1 700.6 397 701.1 397.8 701.7 398.7 702.3 399.5 702.8 400.4 703.4 401.2 703.9 402.1 704.5 402.9 705 403.8 705.6 404.6 706.1 405.4 706.6 406.3 707.2 407.1 707.7 408 708.3 408.3 708.5 408.8 708.8 409.7 709.4 410.5 710 411.4 710.5 412.2 711.1 413.1 711.7 413.9 712.2 414.7 712.8 415.6 713.4 416.4 713.9 417.3 714.5 418.1 715 419 715.6 419.8 716.2 420.7 716.7 421.5 717.3 422.4 717.8 423.1 718.3 423.2 718.4 424.1 718.9 424.9 719.5 425.7 720 426.6 720.5 427.4 721.1 428.3 721.6 429.1 722.2 430 722.7 430.8 723.2 431.7 723.8 432.5 724.3 433.4 724.8 434.2 725.3 435.1 725.8 435.9 726.4 436.7 726.9 437.6 727.4 437.9 727.6 438.4 727.9 439.3 728.4 440.1 728.8 441 729.3 441.8 729.8 442.7 730.3 443.5 730.8 444.4 731.2 445.2 731.7 446.1 732.2 446.9 732.6 447.7 733.1 448.6 733.6 449.4 734 450.3 734.5 451.1 734.9 452 735.3 452.7 735.7 452.8 735.8 453.7 736.2 454.5 736.6 455.4 737.1 456.2 737.5 457.1 737.9 457.9 738.3 458.7 738.8 459.6 739.2 460.4 739.6 461.3 740 462.1 740.4 463 740.8 463.8 741.2 464.7 741.6 465.5 741.9 466.4 742.3 467.2 742.7 467.5 742.8 468 743 468.9 743.4 469.7 743.7 470.6 744 471.4 744.3 472.3 744.6 473.1 744.9 474 745.2 474.8 745.5 475.7 745.8 476.5 746.1 477.4 746.4 478.2 746.7 479 747 479.9 747.3 480.7 747.6 481.6 747.9 482.3 748.2 482.4 748.3 483.3 748.6 484.1 749 485 749.4 485.8 749.8 486.7 750.2 487.5 750.6 488.4 751.1 489.2 751.5 490 751.9 490.9 752.3 491.7 752.8 492.6 753.2 493.4 753.6 494.3 754 495.1 754.4 496 754.8 496.8 755.2 497.1 755.3 497.7 755.6 498.5 755.9 499.4 756.3 500.2 756.6 501 757 501.9 757.4 502.7 757.7 503.6 758.1 504.4 758.4 505.3 758.7 506.1 759.1 507 759.4 507.8 759.7 508.7 760.1 509.5 760.4 510.3 760.7 511.2 761 511.9 761.3 512 761.3 512.9 761.7 513.7 762 514.6 762.3 515.4 762.6 516.3 762.9 517.1 763.1 518 763.4 518.8 763.7 519.7 764"/>
<path class="ln" d="M97.5 842.4 98.3 842.4 99.2 842.4 100 842.4 100.9 842.4 101.7 842.4 102.6 842.4 103.4 842.4 104.3 842.4 105.1 842.4 106 842.4 106.8 842.4 107.6 842.4 108.5 842.4 109.3 842.4 110.2 842.4 111 842.4 111.9 842.4 112.7 842.4 113.6 842.4 114.4 842.4 115.3 842.4 116.1 842.4 117 842.4 117.8 842.4 118.6 842.4 119.5 842.4 120.3 842.4 121.2 842.4 122 842.4 122.9 842.4 123.7 842.4 124.6 842.4 125.4 842.4 126.3 842.4 127.1 842.4 128 842.4 128.8 842.4 129.6 842.4 130.5 842.4 131.3 842.4 132.2 842.4 133 842.4 133.9 842.4 134.7 842.4 135.6 842.4 136.4 842.4 137.3 842.4 138.1 842.4 138.9 842.4 139.8 842.4 140.6 842.4 141.5 842.4 142.3 842.4 143.2 842.4 144 842.4 144.9 842.4 145.7 842.4 146.6 842.4 147.4 842.4 148.3 842.4 149.1 842.4 149.9 842.4 150.8 842.4 151.6 842.4 152.5 842.4 153.3 842.4 154.2 842.4 155 842.4 155.9 842.4 156.7 842.4 157.6 842.4 158.4 842.4 159.3 842.4 160.1 842.4 160.9 842.4 161.8 842.4 162.6 842.4 163.5 842.4 164.3 842.4 165.2 842.4 166 842.4 166.9 842.4 167.7 842.4 168.6 842.4 169.4 842.4 170.3 842.4 171.1 842.4 171.9 842.4 172.8 842.4 173.6 842.4 174.5 842.4 175.3 842.4 176.2 842.4 177 842.4 177.9 842.4 178.7 842.4 179.6 842.4 180.4 842.4 181.2 842.4 182.1 842.4 182.9 842.4 183.8 842.4 184.6 842.4 185.5 842.4 186.3 842.4 187.2 842.4 188 842.4 188.9 842.4 189.7 842.4 190.6 842.4 191.4 842.4 192.2 842.4 193.1 842.4 193.9 842.4 194.8 842.4 195.6 842.4 196.5 842.4 197.3 842.4 198.2 842.4 199 842.4 199.9 842.4 200.7 842.4 201.6 842.4 202.4 842.4 203.2 842.4 204.1 842.4 204.9 842.4 205.8 842.4 206.6 842.4 207.5 842.4 208.3 842.4 209.2 842.4 210 842.4 210.9 842.4 211.7 842.4 212.6 842.4 213.4 842.4 214.2 842.4 215.1 842.4 215.9 842.4 216.8 842.4 217.6 842.4 218.5 842.4 219.3 842.4 220.2 842.4 221 842.4 221.9 842.4 222.7 842.4 223.6 842.4 224.4 842.4 225.2 842.4 226.1 842.4 226.9 842.4 227.8 842.4 228.6 842.4 229.5 842.4 230.3 842.4 231.2 842.4 232 842.4 232.9 842.4 233.7 842.4 234.5 842.4 235.4 842.4 236.2 842.4 237.1 842.4 237.9 842.4 238.4 842.4 238.8 842.4 239.6 842.2 240.5 841.9 241.3 841.5 242.2 840.9 243 840.1 243.5 839.7 243.9 838.9 244.7 835.3 245.5 831 245.5 830.7 246.4 825.7 247.2 819.8 248.1 813.2 248.9 806.1 249.8 798.9 249.8 798.8 250.6 791.2 251.5 783.1 252.3 774.5 253.2 765.3 254 755.5 254.1 754.8 254.9 744.3 255.7 731.2 256.5 717 257.4 702.6 258.2 688.7 259.1 676.2 259.9 665.9 260.3 662.2 260.8 658.1 261.6 651.3 262.5 645.1 263.3 639.5 264.2 634.5 265 630 265.9 626.1 266.2 624.7 266.7 622.7 267.5 619.4 268.4 616.4 269.2 613.8 270.1 611.6 270.9 609.9 271.3 609.4 271.8 608.8 272.6 607.8 273.5 606.9 274.3 606.4 275.1 606.2 275.2 606.2 276 606.2 276.8 606.3 277.7 606.5 278.5 606.8 279.4 607.1 280.2 607.4 281.1 607.7 281.4 607.8 281.9 608.1 282.8 608.5 283.6 609.1 284.5 609.7 285.3 610.4 286.2 611.2 287 612 287.8 612.8 288.7 613.7 289.5 614.5 289.9 614.9 290.4 615.4 291.2 616.2 292.1 617.1 292.9 618 293.8 619 294.6 620 295.5 621 296.3 622 297.2 623 298 624.1 298.8 625.2 299.7 626.3 300.5 627.4 301.4 628.5 302.2 629.6 303.1 630.7 303.9 631.8 304.7 632.8 304.8 632.9 305.6 634.1 306.5 635.2 307.3 636.4 308.2 637.5 309 638.7 309.8 639.9 310.7 641.2 311.5 642.4 312.4 643.6 313.2 644.8 314.1 646.1 314.9 647.3 315.8 648.6 316.6 649.8 317.5 651.1 318.3 652.3 319.1 653.6 319.5 654.1 320 654.8 320.8 656 321.7 657.3 322.5 658.5 323.4 659.8 324.2 661.1 325.1 662.4 325.9 663.6 326.8 664.9 327.6 666.2 328.5 667.4 329.3 668.7 330.1 669.9 331 671.2 331.8 672.4 332.7 673.6 333.5 674.8 334.3 675.8 334.4 675.9 335.2 677.1 336.1 678.2 336.9 679.4 337.8 680.5 338.6 681.6 339.5 682.7 340.3 683.8 341.1 684.9 342 685.9 342.8 687 343.7 688.1 344.5 689.1 345.4 690.2 346.2 691.3 347.1 692.3 347.9 693.4 348.8 694.5 349.1 694.9 349.6 695.5 350.5 696.6 351.3 697.7 352.1 698.8 353 699.9 353.8 701 354.7 702.1 355.5 703.2 356.4 704.2 357.2 705.3 358.1 706.4 358.9 707.4 359.8 708.5 360.6 709.5 361.5 710.5 362.3 711.5 363.1 712.5 363.9 713.4 364 713.5 364.8 714.4 365.7 715.4 366.5 716.3 367.4 717.2 368.2 718.1 369.1 719 369.9 719.9 370.8 720.8 371.6 721.6 372.4 722.5 373.3 723.3 374.1 724.2 375 725 375.8 725.8 376.7 726.7 377.5 727.5 378.4 728.3 378.7 728.6 379.2 729.1 380.1 730 380.9 730.8 381.8 731.6 382.6 732.4 383.4 733.3 384.3 734.1 385.1 734.9 386 735.7 386.8 736.5 387.7 737.3 388.5 738.1 389.4 738.8 390.2 739.5 391.1 740.3 391.9 741 392.8 741.7 393.5 742.2 393.6 742.3 394.4 743 395.3 743.6 396.1 744.2 397 744.8 397.8 745.4 398.7 745.9 399.5 746.5 400.4 747 401.2 747.6 402.1 748.1 402.9 748.6 403.8 749.2 404.6 749.7 405.4 750.2 406.3 750.8 407.1 751.3 408 751.8 408.3 752 408.8 752.4 409.7 752.9 410.5 753.5 411.4 754 412.2 754.6 413.1 755.1 413.9 755.6 414.7 756.2 415.6 756.7 416.4 757.2 417.3 757.8 418.1 758.3 419 758.8 419.8 759.3 420.7 759.8 421.5 760.4 422.4 760.9 423.1 761.3 423.2 761.4 424.1 761.9 424.9 762.3 425.7 762.8 426.6 763.3 427.4 763.8 428.3 764.3 429.1 764.8 430 765.3 430.8 765.7 431.7 766.2 432.5 766.7 433.4 767.1 434.2 767.6 435.1 768 435.9 768.5 436.7 768.9 437.6 769.3 437.9 769.5 438.4 769.7 439.3 770.1 440.1 770.5 441 770.9 441.8 771.3 442.7 771.7 443.5 772.1 444.4 772.4 445.2 772.8 446.1 773.2 446.9 773.5 447.7 773.9 448.6 774.3 449.4 774.6 450.3 775 451.1 775.3 452 775.7 452.7 776 452.8 776 453.7 776.4 454.5 776.7 455.4 777.1 456.2 777.4 457.1 777.8 457.9 778.1 458.7 778.5 459.6 778.8 460.4 779.2 461.3 779.5 462.1 779.8 463 780.2 463.8 780.5 464.7 780.8 465.5 781.2 466.4 781.5 467.2 781.9 467.5 782 468 782.2 468.9 782.5 469.7 782.9 470.6 783.2 471.4 783.6 472.3 784 473.1 784.3 474 784.7 474.8 785 475.7 785.4 476.5 785.7 477.4 786.1 478.2 786.4 479 786.7 479.9 787.1 480.7 787.4 481.6 787.7 482.3 788 482.4 788 483.3 788.3 484.1 788.6 485 788.9 485.8 789.2 486.7 789.5 487.5 789.8 488.4 790.1 489.2 790.4 490 790.7 490.9 790.9 491.7 791.2 492.6 791.5 493.4 791.8 494.3 792 495.1 792.3 496 792.5 496.8 792.8 497.1 792.9 497.7 793 498.5 793.3 499.4 793.5 500.2 793.7 501 794 501.9 794.2 502.7 794.4 503.6 794.6 504.4 794.8 505.3 795.1 506.1 795.3 507 795.5 507.8 795.7 508.7 795.9 509.5 796.1 510.3 796.3 511.2 796.5 511.9 796.7 512 796.7 512.9 796.9 513.7 797.1 514.6 797.3 515.4 797.5 516.3 797.7 517.1 797.9 518 798.1 518.8 798.3 519.7 798.5"/>
<path class="ln" d="M97.5 842.4 98.3 842.4 99.2 842.4 100 842.4 100.9 842.4 101.7 842.4 102.6 842.4 103.4 842.4 104.3 842.4 105.1 842.4 106 842.4 106.8 842.4 107.6 842.4 108.5 842.4 109.3 842.4 110.2 842.4 111 842.4 111.9 842.4 112.7 842.4 113.6 842.4 114.4 842.4 115.3 842.4 116.1 842.4 117 842.4 117.8 842.4 118.6 842.4 119.5 842.4 120.3 842.4 121.2 842.4 122 842.4 122.9 842.4 123.7 842.4 124.6 842.4 125.4 842.4 126.3 842.4 127.1 842.4 128 842.4 128.8 842.4 129.6 842.4 130.5 842.4 131.3 842.4 132.2 842.4 133 842.4 133.9 842.4 134.7 842.4 135.6 842.4 136.4 842.4 137.3 842.4 138.1 842.4 138.9 842.4 139.8 842.4 140.6 842.4 141.5 842.4 142.3 842.4 143.2 842.4 144 842.4 144.9 842.4 145.7 842.4 146.6 842.4 147.4 842.4 148.3 842.4 149.1 842.4 149.9 842.4 150.8 842.4 151.6 842.4 152.5 842.4 153.3 842.4 154.2 842.4 155 842.4 155.9 842.4 156.7 842.4 157.6 842.4 158.4 842.4 159.3 842.4 160.1 842.4 160.9 842.4 161.8 842.4 162.6 842.4 163.5 842.4 164.3 842.4 165.2 842.4 166 842.4 166.9 842.4 167.7 842.4 168.6 842.4 169.4 842.4 170.3 842.4 171.1 842.4 171.9 842.4 172.8 842.4 173.6 842.4 174.5 842.4 175.3 842.4 176.2 842.4 177 842.4 177.9 842.4 178.7 842.4 179.6 842.4 180.4 842.4 181.2 842.4 182.1 842.4 182.9 842.4 183.8 842.4 184.6 842.4 185.5 842.4 186.3 842.4 187.2 842.4 188 842.4 188.9 842.4 189.7 842.4 190.6 842.4 191.4 842.4 192.2 842.4 193.1 842.4 193.9 842.4 194.8 842.4 195.6 842.4 196.5 842.4 197.3 842.4 198.2 842.4 199 842.4 199.9 842.4 200.7 842.4 201.6 842.4 202.4 842.4 203.2 842.4 204.1 842.4 204.9 842.4 205.8 842.4 206.6 842.4 207.5 842.4 208.3 842.4 209.2 842.4 210 842.4 210.9 842.4 211.7 842.4 212.6 842.4 213.4 842.4 214.2 842.4 215.1 842.4 215.9 842.4 216.8 842.4 217.6 842.4 218.5 842.4 219.3 842.4 220.2 842.4 221 842.4 221.9 842.4 222.7 842.4 223.6 842.4 224.4 842.4 225.2 842.4 226.1 842.4 226.9 842.4 227.8 842.4 228.6 842.4 229.5 842.4 230.3 842.4 231.2 842.4 232 842.4 232.9 842.4 233.7 842.4 234.5 842.4 235.4 842.4 236.2 842.4 237.1 842.4 237.9 842.4 238.8 842.4 239.6 842.4 240.5 842.4 241.3 842.4 242.2 842.4 243 842.4 243.9 842.4 244.7 842.4 245.5 842.4 246.4 842.4 247.2 842.4 248.1 842.4 248.9 842.4 249.8 842.4 250.6 842.4 251.5 842.4 252.3 842.4 253.2 842.4 254 842.4 254.9 842.4 255.7 842.4 256.1 842.4 256.5 842.4 257.4 842.3 258.2 842.3 259.1 842.1 259.9 842 260.8 841.7 261.6 841.5 262.5 841.2 263.3 840.9 263.7 840.8 264.2 840.5 265 839.6 265.9 838.3 266.7 836.6 267.5 834.6 268.4 832.4 268.7 831.5 269.2 829.9 270.1 826.5 270.9 822.2 271.8 817.2 272.6 811.8 273.5 806.1 274.3 800.3 275.1 795 275.2 794.7 276 788.7 276.8 782.2 277.7 775.3 278.5 768.3 279.4 761.4 280.2 754.9 281.1 748.9 281.4 747.1 281.9 743.6 282.8 738.2 283.6 732.8 284.5 727.5 285.3 722.5 286.2 717.7 287 713.4 287.8 709.6 288.7 706.4 289.5 703.9 289.9 703.1 290.4 702.1 291.2 700.4 292.1 698.9 292.9 697.4 293.8 696.1 294.6 695.1 295.5 694.2 296.3 693.6 297.2 693.3 297.5 693.3 298 693.3 298.8 693.5 299.7 694 300.5 694.6 301.4 695.3 302.2 696.1 303.1 697 303.9 697.9 304.7 698.7 304.8 698.8 305.6 699.7 306.5 700.8 307.3 702.1 308.2 703.4 309 704.8 309.8 706.4 310.7 708 311.5 709.7 312.4 711.4 313.2 713.1 314.1 714.9 314.9 716.7 315.8 718.5 316.6 720.2 317.5 722 318.3 723.6 319.1 725.3 319.5 725.9 320 726.8 320.8 728.4 321.7 730 322.5 731.6 323.4 733.2 324.2 734.8 325.1 736.4 325.9 738 326.8 739.6 327.6 741.2 328.5 742.8 329.3 744.4 330.1 745.9 331 747.5 331.8 749 332.7 750.4 333.5 751.9 334.3 753.1 334.4 753.3 335.2 754.6 336.1 756 336.9 757.4 337.8 758.7 338.6 760.1 339.5 761.4 340.3 762.7 341.1 764 342 765.3 342.8 766.5 343.7 767.8 344.5 769 345.4 770.1 346.2 771.3 347.1 772.4 347.9 773.5 348.8 774.5 349.1 774.9 349.6 775.5 350.5 776.5 351.3 777.4 352.1 778.4 353 779.3 353.8 780.2 354.7 781.1 355.5 781.9 356.4 782.8 357.2 783.6 358.1 784.4 358.9 785.2 359.8 786 360.6 786.7 361.5 787.5 362.3 788.2 363.1 789 363.9 789.6 364 789.7 364.8 790.4 365.7 791.1 366.5 791.8 367.4 792.4 368.2 793.1 369.1 793.8 369.9 794.4 370.8 795 371.6 795.7 372.4 796.3 373.3 796.9 374.1 797.5 375 798 375.8 798.6 376.7 799.2 377.5 799.7 378.4 800.3 378.7 800.5 379.2 800.8 380.1 801.3 380.9 801.9 381.8 802.4 382.6 802.9 383.4 803.4 384.3 803.9 385.1 804.4 386 804.9 386.8 805.3 387.7 805.8 388.5 806.2 389.4 806.7 390.2 807.1 391.1 807.5 391.9 807.9 392.8 808.3 393.5 808.7 393.6 808.7 394.4 809.1 395.3 809.4 396.1 809.8 397 810.1 397.8 810.4 398.7 810.8 399.5 811.1 400.4 811.4 401.2 811.7 402.1 812 402.9 812.3 403.8 812.6 404.6 812.9 405.4 813.2 406.3 813.4 407.1 813.7 408 814 408.3 814.1 408.8 814.3 409.7 814.5 410.5 814.8 411.4 815.1 412.2 815.3 413.1 815.6 413.9 815.8 414.7 816.1 415.6 816.3 416.4 816.6 417.3 816.8 418.1 817.1 419 817.3 419.8 817.5 420.7 817.8 421.5 818 422.4 818.2 423.1 818.5 423.2 818.5 424.1 818.7 424.9 818.9 425.7 819.2 426.6 819.4 427.4 819.6 428.3 819.9 429.1 820.1 430 820.3 430.8 820.5 431.7 820.8 432.5 821 433.4 821.2 434.2 821.4 435.1 821.6 435.9 821.8 436.7 822 437.6 822.2 437.9 822.3 438.4 822.4 439.3 822.6 440.1 822.7 441 822.9 441.8 823.1 442.7 823.2 443.5 823.4 444.4 823.5 445.2 823.7 446.1 823.8 446.9 824 447.7 824.1 448.6 824.3 449.4 824.4 450.3 824.6 451.1 824.7 452 824.9 452.7 825 452.8 825 453.7 825.1 454.5 825.3 455.4 825.4 456.2 825.5 457.1 825.7 457.9 825.8 458.7 825.9 459.6 826.1 460.4 826.2 461.3 826.3 462.1 826.4 463 826.6 463.8 826.7 464.7 826.8 465.5 826.9 466.4 827 467.2 827.1 467.5 827.2 468 827.2 468.9 827.3 469.7 827.4 470.6 827.5 471.4 827.6 472.3 827.7 473.1 827.8 474 827.9 474.8 828 475.7 828.1 476.5 828.2 477.4 828.3 478.2 828.4 479 828.5 479.9 828.6 480.7 828.6 481.6 828.7 482.3 828.8 482.4 828.8 483.3 828.9 484.1 828.9 485 829 485.8 829.1 486.7 829.1 487.5 829.2 488.4 829.3 489.2 829.3 490 829.4 490.9 829.4 491.7 829.5 492.6 829.6 493.4 829.6 494.3 829.7 495.1 829.7 496 829.8 496.8 829.9 497.1 829.9 497.7 829.9 498.5 830 499.4 830 500.2 830.1 501 830.2 501.9 830.2 502.7 830.3 503.6 830.4 504.4 830.4 505.3 830.5 506.1 830.6 507 830.6 507.8 830.7 508.7 830.7 509.5 830.8 510.3 830.9 511.2 830.9 511.9 831 512 831 512.9 831 513.7 831.1 514.6 831.1 515.4 831.2 516.3 831.2 517.1 831.3 518 831.3 518.8 831.4 519.7 831.4"/>
<path class="ln" d="M97.5 842.4 98.3 842.4 99.2 842.4 100 842.4 100.9 842.4 101.7 842.4 102.6 842.4 103.4 842.4 104.3 842.4 105.1 842.4 106 842.4 106.8 842.4 107.6 842.4 108.5 842.4 109.3 842.4 110.2 842.4 111 842.4 111.9 842.4 112.7 842.4 113.6 842.4 114.4 842.4 115.3 842.4 116.1 842.4 117 842.4 117.8 842.4 118.6 842.4 119.5 842.4 120.3 842.4 121.2 842.4 122 842.4 122.9 842.4 123.7 842.4 124.6 842.4 125.4 842.4 126.3 842.4 127.1 842.4 128 842.4 128.8 842.4 129.6 842.4 130.5 842.4 131.3 842.4 132.2 842.4 133 842.4 133.9 842.4 134.7 842.4 135.6 842.4 136.4 842.4 137.3 842.4 138.1 842.4 138.9 842.4 139.8 842.4 140.6 842.4 141.5 842.4 142.3 842.4 143.2 842.4 144 842.4 144.9 842.4 145.7 842.4 146.6 842.4 147.4 842.4 148.3 842.4 149.1 842.4 149.9 842.4 150.8 842.4 151.6 842.4 152.5 842.4 153.3 842.4 154.2 842.4 155 842.4 155.9 842.4 156.7 842.4 157.6 842.4 158.4 842.4 159.3 842.4 160.1 842.4 160.9 842.4 161.8 842.4 162.6 842.4 163.5 842.4 164.3 842.4 165.2 842.4 166 842.4 166.9 842.4 167.7 842.4 168.6 842.4 169.4 842.4 170.3 842.4 171.1 842.4 171.9 842.4 172.8 842.4 173.6 842.4 174.5 842.4 175.3 842.4 176.2 842.4 177 842.4 177.9 842.4 178.7 842.4 179.6 842.4 180.4 842.4 181.2 842.4 182.1 842.4 182.9 842.4 183.8 842.4 184.6 842.4 185.5 842.4 186.3 842.4 187.2 842.4 188 842.4 188.9 842.4 189.7 842.4 190.6 842.4 191.4 842.4 192.2 842.4 193.1 842.4 193.9 842.4 194.8 842.4 195.6 842.4 196.5 842.4 197.3 842.4 198.2 842.4 199 842.4 199.9 842.4 200.7 842.4 201.6 842.4 202.4 842.4 203.2 842.4 204.1 842.4 204.9 842.4 205.8 842.4 206.6 842.4 207.5 842.4 208.3 842.4 209.2 842.4 210 842.4 210.9 842.4 211.7 842.4 212.6 842.4 213.4 842.4 214.2 842.4 215.1 842.4 215.9 842.4 216.8 842.4 217.6 842.4 218.5 842.4 219.3 842.4 220.2 842.4 221 842.4 221.9 842.4 222.7 842.4 223.6 842.4 224.4 842.4 225.2 842.4 226.1 842.4 226.9 842.4 227.8 842.4 228.6 842.4 229.5 842.4 230.3 842.4 231.2 842.4 232 842.4 232.9 842.4 233.7 842.4 234.5 842.4 235.4 842.4 236.2 842.4 237.1 842.4 237.9 842.4 238.8 842.4 239.6 842.4 240.5 842.4 241.3 842.4 242.2 842.4 243 842.4 243.9 842.4 244.7 842.4 245.5 842.4 246.4 842.4 247.2 842.4 248.1 842.4 248.9 842.4 249.8 842.4 250.6 842.4 251.5 842.4 252.3 842.4 253.2 842.4 254 842.4 254.9 842.4 255.7 842.4 256.5 842.4 257.4 842.4 258.2 842.4 259.1 842.4 259.9 842.4 260.8 842.4 261.6 842.4 262.5 842.4 263.3 842.4 263.7 842.4 264.2 842.4 265 842.4 265.9 842.4 266.7 842.3 267.5 842.3 268.4 842.2 269.2 842.1 270.1 842 270.9 841.9 271.8 841.8 272.6 841.7 273.5 841.6 274.3 841.4 275.1 841.3 275.2 841.3 276 841.1 276.8 840.7 277.7 840.1 278.5 839.5 279.4 838.8 280.2 837.9 281.1 837 281.9 836.1 282.6 835.3 282.8 835.1 283.6 834 284.5 832.5 285.3 830.9 286.2 829.1 287 827.2 287.8 825.3 288.7 823.3 289.5 821.4 289.9 820.6 290.4 819.6 291.2 817.6 292.1 815.5 292.9 813.4 293.8 811.3 294.6 809.2 295.5 807.3 296.3 805.4 297.2 803.8 297.8 802.7 298 802.3 298.8 801 299.7 799.6 300.5 798.4 301.4 797.2 302.2 796.1 303.1 795.2 303.9 794.5 304.7 794 304.8 793.9 305.6 793.5 306.5 793 307.3 792.7 308.2 792.4 309 792.3 309.2 792.3 309.8 792.3 310.7 792.4 311.5 792.5 312.4 792.7 313.2 792.9 314.1 793.1 314.9 793.4 315.8 793.7 316.6 794 317.5 794.3 318.3 794.6 319.1 794.9 319.5 795 320 795.2 320.8 795.6 321.7 796.1 322.5 796.6 323.4 797.2 324.2 797.9 325.1 798.5 325.9 799.2 326.8 800 327.6 800.7 328.5 801.5 329.3 802.2 330.1 803 331 803.7 331.8 804.5 332.7 805.2 333.5 805.9 334.3 806.5 334.4 806.5 335.2 807.2 336.1 807.8 336.9 808.5 337.8 809.2 338.6 809.8 339.5 810.5 340.3 811.2 341.1 811.9 342 812.5 342.8 813.2 343.7 813.8 344.5 814.4 345.4 815 346.2 815.6 347.1 816.1 347.9 816.7 348.8 817.2 349.1 817.4 349.6 817.6 350.5 818.1 351.3 818.5 352.1 819 353 819.4 353.8 819.8 354.7 820.2 355.5 820.6 356.4 821 357.2 821.3 358.1 821.7 358.9 822 359.8 822.4 360.6 822.7 361.5 823 362.3 823.3 363.1 823.6 363.9 823.9 364 823.9 364.8 824.2 365.7 824.5 366.5 824.8 367.4 825 368.2 825.3 369.1 825.5 369.9 825.8 370.8 826 371.6 826.2 372.4 826.5 373.3 826.7 374.1 826.9 375 827.1 375.8 827.3 376.7 827.5 377.5 827.7 378.4 827.9 378.7 828 379.2 828.1 380.1 828.3 380.9 828.4 381.8 828.6 382.6 828.8 383.4 829 384.3 829.1 385.1 829.3 386 829.4 386.8 829.6 387.7 829.7 388.5 829.9 389.4 830 390.2 830.2 391.1 830.3 391.9 830.5 392.8 830.6 393.5 830.7 393.6 830.7 394.4 830.8 395.3 831 396.1 831.1 397 831.2 397.8 831.3 398.7 831.4 399.5 831.5 400.4 831.6 401.2 831.7 402.1 831.9 402.9 832 403.8 832.1 404.6 832.2 405.4 832.3 406.3 832.4 407.1 832.5 408 832.6 408.3 832.6 408.8 832.7 409.7 832.8 410.5 832.9 411.4 833 412.2 833.1 413.1 833.2 413.9 833.3 414.7 833.4 415.6 833.5 416.4 833.6 417.3 833.7 418.1 833.7 419 833.8 419.8 833.9 420.7 834 421.5 834.1 422.4 834.2 423.1 834.2 423.2 834.2 424.1 834.3 424.9 834.4 425.7 834.5 426.6 834.5 427.4 834.6 428.3 834.7 429.1 834.7 430 834.8 430.8 834.8 431.7 834.9 432.5 835 433.4 835 434.2 835.1 435.1 835.1 435.9 835.2 436.7 835.3 437.6 835.3 437.9 835.3 438.4 835.4 439.3 835.4 440.1 835.5 441 835.5 441.8 835.6 442.7 835.6 443.5 835.7 444.4 835.7 445.2 835.7 446.1 835.8 446.9 835.8 447.7 835.9 448.6 835.9 449.4 836 450.3 836 451.1 836.1 452 836.1 452.7 836.1 452.8 836.1 453.7 836.2 454.5 836.2 455.4 836.3 456.2 836.3 457.1 836.4 457.9 836.4 458.7 836.5 459.6 836.5 460.4 836.6 461.3 836.6 462.1 836.7 463 836.7 463.8 836.8 464.7 836.8 465.5 836.9 466.4 836.9 467.2 836.9 467.5 837 468 837 468.9 837 469.7 837.1 470.6 837.1 471.4 837.1 472.3 837.2 473.1 837.2 474 837.2 474.8 837.3 475.7 837.3 476.5 837.3 477.4 837.4 478.2 837.4 479 837.4 479.9 837.4 480.7 837.5 481.6 837.5 482.3 837.5 482.4 837.5 483.3 837.5 484.1 837.5 485 837.6 485.8 837.6 486.7 837.6 487.5 837.6 488.4 837.6 489.2 837.6 490 837.7 490.9 837.7 491.7 837.7 492.6 837.7 493.4 837.7 494.3 837.7 495.1 837.7 496 837.8 496.8 837.8 497.1 837.8 497.7 837.8 498.5 837.8 499.4 837.8 500.2 837.8 501 837.8 501.9 837.9 502.7 837.9 503.6 837.9 504.4 837.9 505.3 837.9 506.1 837.9 507 837.9 507.8 838 508.7 838 509.5 838 510.3 838 511.2 838 511.9 838 512 838 512.9 838.1 513.7 838.1 514.6 838.1 515.4 838.1 516.3 838.2 517.1 838.2 518 838.2 518.8 838.2 519.7 838.3"/>
<path class="ln" d="M97.5 842.4 98.3 842.4 99.2 842.4 100 842.4 100.9 842.4 101.7 842.4 102.6 842.4 103.4 842.4 104.3 842.4 105.1 842.4 106 842.4 106.8 842.4 107.6 842.4 108.5 842.4 109.3 842.4 110.2 842.4 111 842.4 111.9 842.4 112.7 842.4 113.6 842.4 114.4 842.4 115.3 842.4 116.1 842.4 117 842.4 117.8 842.4 118.6 842.4 119.5 842.4 120.3 842.4 121.2 842.4 122 842.4 122.9 842.4 123.7 842.4 124.6 842.4 125.4 842.4 126.3 842.4 127.1 842.4 128 842.4 128.8 842.4 129.6 842.4 130.5 842.4 131.3 842.4 132.2 842.4 133 842.4 133.9 842.4 134.7 842.4 135.6 842.4 136.4 842.4 137.3 842.4 138.1 842.4 138.9 842.4 139.8 842.4 140.6 842.4 141.5 842.4 142.3 842.4 143.2 842.4 144 842.4 144.9 842.4 145.7 842.4 146.6 842.4 147.4 842.4 148.3 842.4 149.1 842.4 149.9 842.4 150.8 842.4 151.6 842.4 152.5 842.4 153.3 842.4 154.2 842.4 155 842.4 155.9 842.4 156.7 842.4 157.6 842.4 158.4 842.4 159.3 842.4 160.1 842.4 160.9 842.4 161.8 842.4 162.6 842.4 163.5 842.4 164.3 842.4 165.2 842.4 166 842.4 166.9 842.4 167.7 842.4 168.6 842.4 169.4 842.4 170.3 842.4 171.1 842.4 171.9 842.4 172.8 842.4 173.6 842.4 174.5 842.4 175.3 842.4 176.2 842.4 177 842.4 177.9 842.4 178.7 842.4 179.6 842.4 180.4 842.4 181.2 842.4 182.1 842.4 182.9 842.4 183.8 842.4 184.6 842.4 185.5 842.4 186.3 842.4 187.2 842.4 188 842.4 188.9 842.4 189.7 842.4 190.6 842.4 191.4 842.4 192.2 842.4 193.1 842.4 193.9 842.4 194.8 842.4 195.6 842.4 196.5 842.4 197.3 842.4 198.2 842.4 199 842.4 199.9 842.4 200.7 842.4 201.6 842.4 202.4 842.4 203.2 842.4 204.1 842.4 204.9 842.4 205.8 842.4 206.6 842.4 207.5 842.4 208.3 842.4 209.2 842.4 210 842.4 210.9 842.4 211.7 842.4 212.6 842.4 213.4 842.4 214.2 842.4 215.1 842.4 215.9 842.4 216.8 842.4 217.6 842.4 218.5 842.4 219.3 842.4 220.2 842.4 221 842.4 221.9 842.4 222.7 842.4 223.6 842.4 224.4 842.4 225.2 842.4 226.1 842.4 226.9 842.4 227.8 842.4 228.6 842.4 229.5 842.4 230.3 842.4 231.2 842.4 232 842.4 232.9 842.4 233.7 842.4 234.5 842.4 235.4 842.4 236.2 842.4 237.1 842.4 237.9 842.4 238.8 842.4 239.6 842.4 240.5 842.4 241.3 842.4 242.2 842.4 243 842.4 243.9 842.4 244.7 842.4 245.5 842.4 246.4 842.4 247.2 842.4 248.1 842.4 248.9 842.4 249.8 842.4 250.6 842.4 251.5 842.4 252.3 842.4 253.2 842.4 254 842.4 254.9 842.4 255.7 842.4 256.5 842.4 257.4 842.4 258.2 842.4 259.1 842.4 259.9 842.4 260.8 842.4 261.6 842.4 262.5 842.4 263.3 842.4 264.2 842.4 265 842.4 265.9 842.4 266.7 842.4 267.5 842.4 268.4 842.4 269.2 842.4 270.1 842.4 270.9 842.4 271.8 842.4 272.6 842.4 273.5 842.4 274.3 842.4 275.2 842.4 276 842.4 276.8 842.4 277.7 842.4 278.5 842.4 279.4 842.4 280.2 842.4 281.1 842.4 281.9 842.4 282.8 842.4 283.6 842.4 283.9 842.4 284.5 842.4 285.3 842.4 286.2 842.4 287 842.3 287.8 842.3 288.7 842.2 289.5 842.1 290.4 842 291.2 842 292.1 841.9 292.9 841.8 293.8 841.7 294.6 841.6 295.5 841.5 296.3 841.3 296.5 841.3 297.2 841.2 298 841.1 298.8 840.9 299.7 840.6 300.5 840.4 301.4 840.1 302.2 839.8 303.1 839.6 303.9 839.3 304.8 838.9 305.6 838.6 306.5 838.4 307.3 838.1 308.2 837.8 309 837.5 309.2 837.5 309.8 837.3 310.7 837.1 311.5 836.8 312.4 836.6 313.2 836.3 314.1 836.1 314.9 835.8 315.8 835.6 316.6 835.4 317.5 835.1 318.3 834.9 319.1 834.7 320 834.6 320.8 834.4 321.7 834.3 321.8 834.2 322.5 834.1 323.4 834 324.2 833.9 325.1 833.7 325.9 833.6 326.8 833.5 327.6 833.4 328.5 833.3 329.3 833.3 330.1 833.2 331 833.2 331.8 833.1 331.9 833.1 332.7 833.1 333.5 833.2 334.4 833.2 335.2 833.2 336.1 833.2 336.9 833.3 337.8 833.3 338.6 833.3 339.5 833.4 340.3 833.4 341.1 833.5 342 833.5 342.8 833.6 343.7 833.6 344.5 833.7 345.4 833.7 346.2 833.8 347.1 833.8 347.9 833.9 348.8 833.9 349.6 834 349.6 834 350.5 834 351.3 834.1 352.1 834.1 353 834.1 353.8 834.2 354.7 834.2 355.5 834.3 356.4 834.3 357.2 834.4 358.1 834.4 358.9 834.5 359.8 834.6 360.6 834.6 361.5 834.7 362.3 834.7 363.1 834.8 364 834.8 364.8 834.9 365.7 834.9 366.5 835 367.4 835 368.2 835.1 369.1 835.1 369.9 835.2 370.8 835.2 371.6 835.3 372.4 835.3 373.3 835.4 374.1 835.4 375 835.5 375.8 835.5 376.7 835.6 377.4 835.6 377.5 835.6 378.4 835.6 379.2 835.7 380.1 835.7 380.9 835.8 381.8 835.8 382.6 835.9 383.4 835.9 384.3 835.9 385.1 836 386 836 386.8 836.1 387.7 836.1 388.5 836.1 389.4 836.2 390.2 836.2 391.1 836.2 391.9 836.3 392.8 836.3 393.6 836.4 394.4 836.4 395.3 836.4 396.1 836.5 397 836.5 397.8 836.5 398.7 836.6 399.5 836.6 400.4 836.6 401.2 836.7 402.1 836.7 402.9 836.7 403.8 836.8 404.6 836.8 405.4 836.9 406.3 836.9 407.1 836.9 408 837 408.8 837 409.7 837 410.5 837 411.4 837.1 412.2 837.1 413.1 837.1 413.9 837.2 414.7 837.2 415.3 837.2 415.6 837.2 416.4 837.3 417.3 837.3 418.1 837.3 419 837.4 419.8 837.4 420.7 837.4 421.5 837.5 422.4 837.5 423.2 837.5 424.1 837.6 424.9 837.6 425.7 837.6 426.6 837.7 427.4 837.7 428.3 837.7 429.1 837.7 430 837.8 430.8 837.8 431.7 837.8 432.5 837.9 433.4 837.9 434.2 837.9 435.1 838 435.9 838 436.7 838 437.6 838 438.4 838.1 439.3 838.1 440.1 838.1 441 838.2 441.8 838.2 442.7 838.2 443.5 838.3 444.4 838.3 445.2 838.3 446.1 838.3 446.9 838.4 447.7 838.4 448.6 838.4 449.4 838.4 450.3 838.5 451.1 838.5 452 838.5 452.8 838.5 453.7 838.6 454.5 838.6 455.4 838.6 456.2 838.6 457.1 838.7 457.9 838.7 458.7 838.7 459.6 838.7 460.4 838.7 461.3 838.8 462.1 838.8 463 838.8 463.8 838.8 464.7 838.8 465.5 838.9 465.8 838.9 466.4 838.9 467.2 838.9 468 838.9 468.9 838.9 469.7 838.9 470.6 839 471.4 839 472.3 839 473.1 839 474 839 474.8 839 475.7 839.1 476.5 839.1 477.4 839.1 478.2 839.1 479 839.1 479.9 839.1 480.7 839.2 481.6 839.2 482.4 839.2 483.3 839.2 484.1 839.2 485 839.2 485.8 839.2 486.7 839.3 487.5 839.3 488.4 839.3 489.2 839.3 490 839.3 490.9 839.3 491.7 839.3 492.6 839.4 493.4 839.4 494.3 839.4 495.1 839.4 496 839.4 496.8 839.4 497.7 839.4 498.5 839.4 499.4 839.5 500.2 839.5 501 839.5 501.9 839.5 502.7 839.5 503.6 839.5 504.4 839.5 505.3 839.5 506.1 839.5 507 839.6 507.8 839.6 508.7 839.6 509.5 839.6 510.3 839.6 511.2 839.6 512 839.6 512.9 839.6 513.7 839.6 514.6 839.6 515.4 839.6 516.3 839.6 517.1 839.7 518 839.7 518.8 839.7 519.7 839.7"/>
<path class="ln" d="M97.5 842.9 98.3 842.9 99.2 842.9 100 842.9 100.9 842.9 101.7 842.9 102.6 842.9 103.4 842.9 104.3 842.9 105.1 842.9 106 842.9 106.8 842.9 107.6 842.9 108.5 842.9 109.3 842.9 110.2 842.9 111 842.9 111.9 842.9 112.7 842.9 113.6 842.9 114.4 842.9 115.3 842.9 116.1 842.9 117 842.9 117.8 842.9 118.6 842.9 119.5 842.9 120.3 842.9 121.2 842.9 122 842.9 122.9 842.9 123.7 842.9 124.6 842.9 125.4 842.9 126.3 842.9 127.1 842.9 128 842.9 128.8 842.9 129.6 842.9 130.5 842.9 131.3 842.9 132.2 842.9 133 842.9 133.9 842.9 134.7 842.9 135.6 842.9 136.4 842.9 137.3 842.9 138.1 842.9 138.9 842.9 139.8 842.9 140.6 842.9 141.5 842.9 142.3 842.9 143.2 842.9 144 842.9 144.9 842.9 145.7 842.9 146.6 842.9 147.4 842.9 148.3 842.9 149.1 842.9 149.9 842.9 150.8 842.9 151.6 842.9 152.5 842.9 153.3 842.9 154.2 842.9 155 842.9 155.9 842.9 156.7 842.9 157.6 842.9 158.4 842.9 159.3 842.9 160.1 842.9 160.9 842.9 161.8 842.9 162.6 842.9 163.5 842.9 164.3 842.9 165.2 842.9 166 842.9 166.9 842.9 167.7 842.9 168.6 842.9 169.4 842.9 170.3 842.9 171.1 842.9 171.9 842.9 172.8 842.9 173.6 842.9 174.5 842.9 175.3 842.9 176.2 842.9 177 842.9 177.9 842.9 178.7 842.9 179.6 842.9 180.4 842.9 181.2 842.9 182.1 842.9 182.9 842.9 183.8 842.9 184.6 842.9 185.5 842.9 186.3 842.9 187.2 842.9 188 842.9 188.9 842.9 189.7 842.9 190.6 842.9 191.4 842.9 192.2 842.9 193.1 842.9 193.9 842.9 194.8 842.9 195.6 842.9 196.5 842.9 197.3 842.9 198.2 842.9 199 842.9 199.9 842.9 200.7 842.9 201.6 842.9 202.4 842.9 203.2 842.9 204.1 842.9 204.9 842.9 205.8 842.9 206.6 842.9 207.5 842.9 208.3 842.9 209.2 842.9 210 842.9 210.9 842.9 211.7 842.9 212.6 842.9 213.4 842.9 214.2 842.9 215.1 842.9 215.9 842.9 216.8 842.9 217.6 842.9 218.5 842.9 219.3 842.9 220.2 842.9 221 842.9 221.9 842.9 222.7 842.9 223.6 842.9 224.4 842.9 225.2 842.9 226.1 842.9 226.9 842.9 227.8 842.9 228.6 842.9 229.5 842.9 230.3 842.9 231.2 842.9 232 842.9 232.9 842.9 233.7 842.9 234.5 842.9 235.4 842.9 236.2 842.9 237.1 842.9 237.9 842.9 238.8 842.9 239.6 842.9 240.5 842.9 241.3 842.9 242.2 842.9 243 842.9 243.9 842.9 244.7 842.9 245.5 842.9 246.4 842.9 247.2 842.9 248.1 842.9 248.9 842.9 249.8 842.9 250.6 842.9 251.5 842.9 252.3 842.9 253.2 842.9 254 842.9 254.9 842.9 255.7 842.9 256.5 842.9 257.4 842.9 258.2 842.9 259.1 842.9 259.9 842.9 260.8 842.9 261.6 842.9 262.5 842.9 263.3 842.9 264.2 842.9 265 842.9 265.9 842.9 266.7 842.9 267.5 842.9 268.4 842.9 269.2 842.9 270.1 842.9 270.9 842.9 271.8 842.9 272.6 842.9 273.5 842.9 274.3 842.9 275.2 842.9 276 842.9 276.8 842.9 277.7 842.9 278.5 842.9 279.4 842.9 280.2 842.9 281.1 842.9 281.9 842.9 282.8 842.9 283.6 842.9 284.5 842.9 285.3 842.9 286.2 842.9 287 842.9 287.8 842.9 288.7 842.9 288.9 842.9 289.5 842.9 290.4 842.9 291.2 842.9 292.1 842.9 292.9 842.9 293.8 842.9 294.6 842.9 295.5 842.9 296.3 842.9 297.2 842.9 298 842.8 298.8 842.8 299.7 842.8 300.5 842.8 301.4 842.8 302.2 842.7 303.1 842.7 303.9 842.7 304.8 842.7 305.6 842.6 306.5 842.6 307.3 842.6 308.2 842.6 309 842.5 309.8 842.5 310.7 842.5 311.5 842.5 312.4 842.4 313.2 842.4 314.1 842.4 314.2 842.4 314.9 842.4 315.8 842.4 316.6 842.3 317.5 842.3 318.3 842.3 319.1 842.3 320 842.2 320.8 842.2 321.7 842.2 322.5 842.1 323.4 842.1 324.2 842.1 325.1 842.1 325.9 842 326.8 842 327.6 842 328.5 841.9 329.3 841.9 330.1 841.9 331 841.9 331.8 841.9 332.7 841.8 333.5 841.8 334.4 841.8 335.2 841.8 336.1 841.8 336.9 841.8 337.8 841.8 338.6 841.7 339.5 841.7 339.5 841.7 340.3 841.7 341.1 841.7 342 841.7 342.8 841.7 343.7 841.7 344.5 841.7 345.4 841.7 346.2 841.7 347.1 841.7 347.9 841.7 348.8 841.7 349.6 841.7 350.5 841.7 351.3 841.7 352.1 841.7 353 841.7 353.8 841.7 354.7 841.7 355.5 841.7 356.4 841.7 357.2 841.7 358.1 841.7 358.9 841.7 359.8 841.7 360.6 841.7 361.5 841.7 362.3 841.7 363.1 841.7 364 841.7 364.8 841.7 365.7 841.7 366.5 841.7 367.4 841.7 368.2 841.7 369.1 841.7 369.9 841.7 370.8 841.7 371.6 841.7 372.4 841.7 373.3 841.7 374.1 841.7 375 841.7 375.8 841.7 376.7 841.7 377.5 841.7 378.4 841.7 379.2 841.7 380.1 841.7 380.9 841.7 381.8 841.7 382.6 841.7 383.4 841.7 384.3 841.7 385.1 841.7 386 841.7 386.8 841.7 387.7 841.7 388.5 841.7 389.4 841.7 390 841.7 390.2 841.7 391.1 841.7 391.9 841.7 392.8 841.7 393.6 841.7 394.4 841.7 395.3 841.7 396.1 841.7 397 841.7 397.8 841.7 398.7 841.7 399.5 841.7 400.4 841.7 401.2 841.8 402.1 841.8 402.9 841.8 403.8 841.8 404.6 841.8 405.4 841.8 406.3 841.8 407.1 841.8 408 841.8 408.8 841.8 409.7 841.8 410.5 841.8 411.4 841.8 412.2 841.8 413.1 841.8 413.9 841.8 414.7 841.8 415.6 841.8 416.4 841.8 417.3 841.8 418.1 841.8 419 841.8 419.8 841.8 420.7 841.8 421.5 841.8 422.4 841.8 423.2 841.8 424.1 841.8 424.9 841.8 425.7 841.8 426.6 841.8 427.4 841.8 428.3 841.8 429.1 841.8 430 841.8 430.8 841.8 431.7 841.8 432.5 841.8 433.4 841.8 434.2 841.8 435.1 841.8 435.9 841.8 436.7 841.8 437.6 841.8 438.4 841.8 439.3 841.8 440.1 841.8 441 841.8 441.8 841.8 442.7 841.8 443.5 841.8 444.4 841.8 445.2 841.8 446.1 841.8 446.9 841.8 447.7 841.8 448.6 841.8 449.4 841.8 450.3 841.8 451.1 841.8 452 841.8 452.8 841.8 453.7 841.8 454.5 841.9 455.4 841.9 456.2 841.9 457.1 841.9 457.9 841.9 458.7 841.9 459.6 841.9 460.4 841.9 461.3 841.9 462.1 841.9 463 841.9 463.8 841.9 464.7 841.9 465.5 841.9 466.4 841.9 467.2 841.9 468 841.9 468.9 841.9 469.7 841.9 470.6 841.9 471.4 841.9 472.3 841.9 473.1 841.9 474 841.9 474.8 841.9 475.7 841.9 476.5 841.9 477.4 841.9 478.2 841.9 479 841.9 479.9 841.9 480.7 841.9 481.6 841.9 482.4 842 483.3 842 484.1 842 485 842 485.8 842 486.7 842 487.5 842 488.4 842 489.2 842 490 842 490.9 842 491.7 842 492.6 842 493.4 842 494.3 842 495.1 842 496 842 496.8 842 497.7 842 498.5 842 499.4 842 500.2 842 501 842 501.9 842 502.7 842 503.6 842 504.4 842 505.3 842 506.1 842.1 507 842.1 507.8 842.1 508.7 842.1 509.5 842.1 510.3 842.1 511.2 842.1 512 842.1 512.9 842.1 513.7 842.1 514.6 842.1 515.4 842.1 516.3 842.1 517.1 842.1 518 842.1 518.8 842.1 519.7 842.1"/>
<path class="ln" d="M101.2 842.4 102 842.4 102.9 842.4 103.7 842.4 104.6 842.4 105.4 842.4 106.2 842.4 107.1 842.4 107.9 842.4 108.8 842.4 109.6 842.4 110.4 842.4 111.3 842.4 112.1 842.4 112.9 842.4 113.8 842.4 114.6 842.4 115.5 842.4 116.3 842.4 117.1 842.4 118 842.4 118.8 842.4 119.7 842.4 120.5 842.4 121.3 842.4 122.2 842.4 123 842.4 123.9 842.4 124.7 842.4 125.5 842.4 126.4 842.4 127.2 842.4 128 842.4 128.9 842.4 129.7 842.4 130.6 842.4 131.4 842.4 132.2 842.4 133.1 842.4 133.9 842.4 134.8 842.4 135.6 842.4 136.4 842.4 137.3 842.4 138.1 842.4 138.9 842.4 139.8 842.4 140.6 842.4 141.5 842.4 142.3 842.4 143.1 842.4 144 842.4 144.8 842.4 145.7 842.4 146.5 842.4 147.3 842.4 148.2 842.4 149 842.4 149.8 842.4 150.7 842.4 151.5 842.4 152.4 842.4 153.2 842.4 154 842.4 154.9 842.4 155.7 842.4 156.6 842.4 157.4 842.4 158.2 842.4 159.1 842.4 159.9 842.4 160.7 842.4 161.6 842.4 162.4 842.4 163.3 842.4 164.1 842.4 164.9 842.4 165.8 842.4 166.6 842.4 167.5 842.4 168.3 842.4 169.1 842.4 170 842.4 170.8 842.4 171.6 842.4 172.5 842.4 173.3 842.4 174.2 842.4 175 842.4 175.8 842.4 176.7 842.4 177.5 842.4 178.4 842.4 179.2 842.4 180 842.4 180.9 842.4 181.7 842.4 182.6 842.4 183.4 842.4 184.2 842.4 185.1 842.4 185.9 842.4 186.7 842.4 187.6 842.4 188.4 842.4 189.3 842.4 190.1 842.4 190.9 842.4 191.8 842.4 192.6 842.4 193.5 842.4 194.3 842.4 195.1 842.4 196 842.4 196.8 842.4 197.6 842.4 198.5 842.4 199.3 842.4 200.2 842.4 201 842.4 201.8 842.4 202.7 842.4 203.5 842.4 204.4 842.4 205.2 842.4 206 842.4 206.9 842.4 207.7 842.4 208.5 842.4 209.4 842.4 210.2 842.4 211.1 842.4 211.9 842.4 212.7 842.4 213.6 842.4 214.4 842.4 215.3 842.4 216.1 842.4 216.9 842.4 217.8 842.4 218.6 842.4 219.4 842.4 220.3 842.4 221.1 842.4 222 842.4 222.8 842.4 223.2 842.4 223.6 842.4 224.5 842.3 225.3 842.2 226.2 842.1 227 841.8 227.8 841.6 228.7 841.3 229.5 840.9 229.8 840.8 230.3 840.4 231.2 839.6 232 838.2 232.9 836.5 233.7 834.3 234.5 831.7 234.6 831.5 235.4 827.1 236.2 818.8 237.1 808 237.9 795.7 238.4 788 238.7 782.3 239.6 764.2 240.4 743 241.3 721.6 242.1 702.8 242.2 700.9 242.9 687.2 243.8 672.4 244.6 658.9 245.4 647.2 246 641 246.3 637.9 247.1 629.4 248 621.5 248.8 614.4 249.6 608.6 250.5 604.3 251 602.4 251.3 601.6 252.2 599.6 253 597.9 253.8 596.3 254.7 595 255.5 593.9 256.3 592.9 257.2 592.1 258 591.4 258.6 590.9 258.9 590.8 259.7 590.2 260.5 589.7 261.4 589.2 262.2 588.8 263.1 588.4 263.9 588.1 264.7 587.8 265.6 587.7 266.2 587.7 266.4 587.7 267.2 587.7 268.1 587.7 268.9 587.8 269.8 587.9 270.6 588 271.4 588.1 272.3 588.2 272.3 588.2 273.1 588.3 274 588.6 274.8 588.8 275.6 589.2 276.5 589.6 277.3 590 278.1 590.5 279 591 279.8 591.5 280.7 592.1 281.5 592.8 282.3 593.4 283.2 594.1 284 594.8 284.9 595.4 285.7 596.1 286.5 596.9 287.4 597.6 288.2 598.3 289 598.9 289.9 599.6 290.7 600.3 291.6 600.9 292.4 601.5 293.2 602.1 293.6 602.4 294.1 602.7 294.9 603.2 295.8 603.7 296.6 604.3 297.4 604.8 298.3 605.4 299.1 605.9 300 606.5 300.8 607 301.6 607.6 302.5 608.1 303.3 608.7 304.1 609.2 305 609.7 305.8 610.3 306.7 610.8 307.5 611.4 308.3 611.9 309.2 612.4 310 612.9 310.9 613.5 311.7 614 312.5 614.5 313.4 615 314.2 615.5 315 616 315 616 315.9 616.5 316.7 617 317.6 617.5 318.4 618 319.2 618.5 320.1 619 320.9 619.5 321.8 620 322.6 620.5 323.4 620.9 324.3 621.4 325.1 621.9 325.9 622.4 326.8 622.8 327.6 623.3 328.5 623.8 329.3 624.2 330.1 624.7 331 625.2 331.8 625.6 332.7 626.1 333.5 626.5 334.3 627 335.2 627.4 336 627.8 336.2 627.9 336.8 628.3 337.7 628.7 338.5 629.1 339.4 629.6 340.2 630 341 630.4 341.9 630.8 342.7 631.3 343.6 631.7 344.4 632.1 345.2 632.5 346.1 632.9 346.9 633.3 347.7 633.7 348.6 634.1 349.4 634.5 350.3 634.9 351.1 635.3 351.9 635.7 352.8 636.1 353.6 636.5 354.5 636.9 355.3 637.3 356.1 637.6 357 638 357.5 638.3 357.8 638.4 358.6 638.8 359.5 639.2 360.3 639.6 361.2 639.9 362 640.3 362.8 640.7 363.7 641.1 364.5 641.4 365.4 641.8 366.2 642.2 367 642.6 367.9 642.9 368.7 643.3 369.6 643.7 370.4 644 371.2 644.4 372.1 644.7 372.9 645.1 373.7 645.4 374.6 645.8 375.4 646.1 376.3 646.5 377.1 646.8 377.9 647.2 378.8 647.5 378.9 647.5 379.6 647.8 380.5 648.1 381.3 648.5 382.1 648.8 383 649.1 383.8 649.4 384.6 649.7 385.5 650 386.3 650.4 387.2 650.7 388 651 388.8 651.3 389.7 651.6 390.5 651.9 391.4 652.2 392.2 652.5 393 652.8 393.9 653 394.7 653.3 395.5 653.6 396.4 653.9 397.2 654.2 398.1 654.5 398.9 654.8 399.7 655 400.1 655.2 400.6 655.3 401.4 655.6 402.3 655.9 403.1 656.1 403.9 656.4 404.8 656.7 405.6 656.9 406.4 657.2 407.3 657.5 408.1 657.7 409 658 409.8 658.2 410.6 658.5 411.5 658.8 412.3 659 413.2 659.3 414 659.5 414.8 659.8 415.7 660 416.5 660.3 417.3 660.5 418.2 660.8 419 661 419.9 661.3 420.7 661.5 421.4 661.7 421.5 661.7 422.4 662 423.2 662.2 424.1 662.5 424.9 662.7 425.7 663 426.6 663.2 427.4 663.5 428.3 663.7 429.1 663.9 429.9 664.2 430.8 664.4 431.6 664.7 432.4 664.9 433.3 665.1 434.1 665.4 435 665.6 435.8 665.8 436.6 666.1 437.5 666.3 438.3 666.5 439.2 666.7 440 666.9 440.8 667.2 441.7 667.4 442.5 667.6 442.8 667.7 443.3 667.8 444.2 668 445 668.2 445.9 668.4 446.7 668.6 447.5 668.9 448.4 669.1 449.2 669.3 450.1 669.5 450.9 669.7 451.7 669.9 452.6 670.1 453.4 670.3 454.2 670.4 455.1 670.6 455.9 670.8 456.8 671 457.6 671.2 458.4 671.4 459.3 671.6 460.1 671.8 461 671.9 461.8 672.1 462.6 672.3 463.5 672.5 464.1 672.6 464.3 672.6 465.1 672.8 466 673 466.8 673.1 467.7 673.3 468.5 673.4 469.3 673.6 470.2 673.7 471 673.9 471.9 674 472.7 674.2 473.5 674.3 474.4 674.5 475.2 674.6 476 674.8 476.9 674.9 477.7 675.1 478.6 675.2 479.4 675.4 480.2 675.5 481.1 675.7 481.9 675.8 482.8 675.9 483.6 676.1 484.4 676.2 485.3 676.4 485.3 676.4 486.1 676.5 487 676.7 487.8 676.8 488.6 677 489.5 677.1 490.3 677.3 491.1 677.4 492 677.6 492.8 677.8 493.7 677.9 494.5 678.1 495.3 678.2 496.2 678.4 497 678.5 497.9 678.7 498.7 678.8 499.5 679 500.4 679.1 501.2 679.3 502 679.4 502.9 679.6 503.7 679.7 504.6 679.8 505.4 680 506.2 680.1 506.8 680.2 507.1 680.2 507.9 680.4 508.8 680.5 509.6 680.6 510.4 680.8 511.3 680.9 512.1 681 512.9 681.2 513.8 681.3 514.6 681.4 515.5 681.5 516.3 681.7 517.1 681.8 518 681.9 518.8 682 519.7 682.1"/>
<g class="mk"><path d="M92.5 842.4h10M97.5 837.4v10"/><path d="M107.3 842.4h10M112.3 837.4v10"/><path d="M122.1 842.4h10M127.1 837.4v10"/><path d="M136.9 842.4h10M141.9 837.4v10"/><path d="M151.7 842.4h10M156.7 837.4v10"/><path d="M166.5 842.4h10M171.5 837.4v10"/><path d="M181.3 842.4h10M186.3 837.4v10"/><path d="M196.1 842.4h10M201.1 837.4v10"/><path d="M210.9 842.4h10M215.9 837.4v10"/><path d="M225.7 841.4h10M230.7 836.4v10"/><path d="M240.5 649.7h10M245.5 644.7v10"/><path d="M255.3 586h10M260.3 581v10"/><path d="M270.1 595.3h10M275.1 590.3v10"/><path d="M284.9 606.2h10M289.9 601.2v10"/><path d="M299.7 617.1h10M304.7 612.1v10"/><path d="M314.5 626.9h10M319.5 621.9v10"/><path d="M329.3 636.1h10M334.3 631.1v10"/><path d="M344.1 645.4h10M349.1 640.4v10"/><path d="M358.9 654.1h10M363.9 649.1v10"/><path d="M373.7 662.2h10M378.7 657.2v10"/><path d="M388.5 671.5h10M393.5 666.5v10"/><path d="M403.3 679.7h10M408.3 674.7v10"/><path d="M418.1 687.8h10M423.1 682.8v10"/><path d="M432.9 696h10M437.9 691v10"/><path d="M447.7 703.6h10M452.7 698.6v10"/><path d="M462.5 710.7h10M467.5 705.7v10"/><path d="M477.3 717.8h10M482.3 712.8v10"/><path d="M492.1 724.3h10M497.1 719.3v10"/><path d="M506.9 730.3h10M511.9 725.3v10"/></g>
<g class="mk"><path d="M92.5 837.4l9.9 9.9M92.5 847.4l9.9 -9.9"/><path d="M107.3 837.4l9.9 9.9M107.3 847.4l9.9 -9.9"/><path d="M122.1 837.4l9.9 9.9M122.1 847.4l9.9 -9.9"/><path d="M136.9 837.4l9.9 9.9M136.9 847.4l9.9 -9.9"/><path d="M151.7 837.4l9.9 9.9M151.7 847.4l9.9 -9.9"/><path d="M166.5 837.4l9.9 9.9M166.5 847.4l9.9 -9.9"/><path d="M181.3 837.4l9.9 9.9M181.3 847.4l9.9 -9.9"/><path d="M196.1 837.4l9.9 9.9M196.1 847.4l9.9 -9.9"/><path d="M210.9 837.4l9.9 9.9M210.9 847.4l9.9 -9.9"/><path d="M225.8 836.9l9.9 9.9M225.8 846.8l9.9 -9.9"/><path d="M240.6 651.8l9.9 9.9M240.6 661.7l9.9 -9.9"/><path d="M255.4 584.9l9.9 9.9M255.4 594.8l9.9 -9.9"/><path d="M270.2 593.6l9.9 9.9M270.2 603.5l9.9 -9.9"/><path d="M285 604.5l9.9 9.9M285 614.4l9.9 -9.9"/><path d="M299.8 615.9l9.9 9.9M299.8 625.8l9.9 -9.9"/><path d="M314.6 626.8l9.9 9.9M314.6 636.7l9.9 -9.9"/><path d="M329.4 636.1l9.9 9.9M329.4 646l9.9 -9.9"/><path d="M344.2 645.3l9.9 9.9M344.2 655.2l9.9 -9.9"/><path d="M359 654.6l9.9 9.9M359 664.5l9.9 -9.9"/><path d="M373.8 664.4l9.9 9.9M373.8 674.3l9.9 -9.9"/><path d="M388.6 673.6l9.9 9.9M388.6 683.5l9.9 -9.9"/><path d="M403.4 682.3l9.9 9.9M403.4 692.2l9.9 -9.9"/><path d="M418.2 690.5l9.9 9.9M418.2 700.4l9.9 -9.9"/><path d="M433 698.7l9.9 9.9M433 708.6l9.9 -9.9"/><path d="M447.8 706.8l9.9 9.9M447.8 716.7l9.9 -9.9"/><path d="M462.6 714.4l9.9 9.9M462.6 724.3l9.9 -9.9"/><path d="M477.4 721l9.9 9.9M477.4 730.9l9.9 -9.9"/><path d="M492.2 728l9.9 9.9M492.2 737.9l9.9 -9.9"/><path d="M507 733.5l9.9 9.9M507 743.4l9.9 -9.9"/></g>
<g class="mk"><path d="M92.6 842.4h9.8M97.5 837.5v9.8M92.8 837.7l9.4 9.4M92.8 847.1l9.4 -9.4"/><path d="M107.4 842.4h9.8M112.3 837.5v9.8M107.6 837.7l9.4 9.4M107.6 847.1l9.4 -9.4"/><path d="M122.2 842.4h9.8M127.1 837.5v9.8M122.4 837.7l9.4 9.4M122.4 847.1l9.4 -9.4"/><path d="M137 842.4h9.8M141.9 837.5v9.8M137.2 837.7l9.4 9.4M137.2 847.1l9.4 -9.4"/><path d="M151.8 842.4h9.8M156.7 837.5v9.8M152 837.7l9.4 9.4M152 847.1l9.4 -9.4"/><path d="M166.6 842.4h9.8M171.5 837.5v9.8M166.8 837.7l9.4 9.4M166.8 847.1l9.4 -9.4"/><path d="M181.4 842.4h9.8M186.3 837.5v9.8M181.6 837.7l9.4 9.4M181.6 847.1l9.4 -9.4"/><path d="M196.2 842.4h9.8M201.1 837.5v9.8M196.4 837.7l9.4 9.4M196.4 847.1l9.4 -9.4"/><path d="M211 842.4h9.8M215.9 837.5v9.8M211.2 837.7l9.4 9.4M211.2 847.1l9.4 -9.4"/><path d="M225.8 842.4h9.8M230.7 837.5v9.8M226 837.7l9.4 9.4M226 847.1l9.4 -9.4"/><path d="M240.6 724.3h9.8M245.5 719.4v9.8M240.8 719.6l9.4 9.4M240.8 729l9.4 -9.4"/><path d="M255.4 597.5h9.8M260.3 592.6v9.8M255.6 592.8l9.4 9.4M255.6 602.2l9.4 -9.4"/><path d="M270.2 598.6h9.8M275.1 593.7v9.8M270.4 593.9l9.4 9.4M270.4 603.3l9.4 -9.4"/><path d="M285 608.9h9.8M289.9 604v9.8M285.2 604.2l9.4 9.4M285.2 613.6l9.4 -9.4"/><path d="M299.8 620.3h9.8M304.7 615.4v9.8M300 615.6l9.4 9.4M300 625l9.4 -9.4"/><path d="M314.6 633.4h9.8M319.5 628.5v9.8M314.8 628.7l9.4 9.4M314.8 638.1l9.4 -9.4"/><path d="M329.4 648.1h9.8M334.3 643.2v9.8M329.6 643.4l9.4 9.4M329.6 652.8l9.4 -9.4"/><path d="M344.2 662.2h9.8M349.1 657.3v9.8M344.4 657.5l9.4 9.4M344.4 666.9l9.4 -9.4"/><path d="M359 674.8h9.8M363.9 669.9v9.8M359.2 670.1l9.4 9.4M359.2 679.5l9.4 -9.4"/><path d="M373.8 686.7h9.8M378.7 681.8v9.8M374 682l9.4 9.4M374 691.4l9.4 -9.4"/><path d="M388.6 698.7h9.8M393.5 693.8v9.8M388.8 694l9.4 9.4M388.8 703.4l9.4 -9.4"/><path d="M403.4 708.5h9.8M408.3 703.6v9.8M403.6 703.8l9.4 9.4M403.6 713.2l9.4 -9.4"/><path d="M418.2 718.3h9.8M423.1 713.4v9.8M418.4 713.6l9.4 9.4M418.4 723l9.4 -9.4"/><path d="M433 727.6h9.8M437.9 722.7v9.8M433.2 722.9l9.4 9.4M433.2 732.3l9.4 -9.4"/><path d="M447.8 735.7h9.8M452.7 730.8v9.8M448 731l9.4 9.4M448 740.4l9.4 -9.4"/><path d="M462.6 742.8h9.8M467.5 737.9v9.8M462.8 738.1l9.4 9.4M462.8 747.5l9.4 -9.4"/><path d="M477.4 748.2h9.8M482.3 743.3v9.8M477.6 743.5l9.4 9.4M477.6 752.9l9.4 -9.4"/><path d="M492.2 755.3h9.8M497.1 750.4v9.8M492.4 750.6l9.4 9.4M492.4 760l9.4 -9.4"/><path d="M507 761.3h9.8M511.9 756.4v9.8M507.2 756.6l9.4 9.4M507.2 766l9.4 -9.4"/></g>
<g class="mk"><rect x="92.7" y="837.6" width="9.6" height="9.6"/><circle class="d" cx="97.5" cy="842.4" r="1.1"/><rect x="107.5" y="837.6" width="9.6" height="9.6"/><circle class="d" cx="112.3" cy="842.4" r="1.1"/><rect x="122.3" y="837.6" width="9.6" height="9.6"/><circle class="d" cx="127.1" cy="842.4" r="1.1"/><rect x="137.1" y="837.6" width="9.6" height="9.6"/><circle class="d" cx="141.9" cy="842.4" r="1.1"/><rect x="151.9" y="837.6" width="9.6" height="9.6"/><circle class="d" cx="156.7" cy="842.4" r="1.1"/><rect x="166.7" y="837.6" width="9.6" height="9.6"/><circle class="d" cx="171.5" cy="842.4" r="1.1"/><rect x="181.5" y="837.6" width="9.6" height="9.6"/><circle class="d" cx="186.3" cy="842.4" r="1.1"/><rect x="196.3" y="837.6" width="9.6" height="9.6"/><circle class="d" cx="201.1" cy="842.4" r="1.1"/><rect x="211.1" y="837.6" width="9.6" height="9.6"/><circle class="d" cx="215.9" cy="842.4" r="1.1"/><rect x="225.9" y="837.6" width="9.6" height="9.6"/><circle class="d" cx="230.7" cy="842.4" r="1.1"/><rect x="240.7" y="826.2" width="9.6" height="9.6"/><circle class="d" cx="245.5" cy="831" r="1.1"/><rect class="w" x="255.5" y="657.4" width="9.6" height="9.6"/><circle class="d" cx="260.3" cy="662.2" r="1.1"/><rect class="w" x="270.3" y="601.4" width="9.6" height="9.6"/><circle class="d" cx="275.1" cy="606.2" r="1.1"/><rect class="w" x="285.1" y="610.1" width="9.6" height="9.6"/><circle class="d" cx="289.9" cy="614.9" r="1.1"/><rect class="w" x="299.9" y="628" width="9.6" height="9.6"/><circle class="d" cx="304.7" cy="632.8" r="1.1"/><rect class="w" x="314.7" y="649.3" width="9.6" height="9.6"/><circle class="d" cx="319.5" cy="654.1" r="1.1"/><rect class="w" x="329.5" y="671" width="9.6" height="9.6"/><circle class="d" cx="334.3" cy="675.8" r="1.1"/><rect class="w" x="344.3" y="690.1" width="9.6" height="9.6"/><circle class="d" cx="349.1" cy="694.9" r="1.1"/><rect class="w" x="359.1" y="708.6" width="9.6" height="9.6"/><circle class="d" cx="363.9" cy="713.4" r="1.1"/><rect class="w" x="373.9" y="723.8" width="9.6" height="9.6"/><circle class="d" cx="378.7" cy="728.6" r="1.1"/><rect class="w" x="388.7" y="737.4" width="9.6" height="9.6"/><circle class="d" cx="393.5" cy="742.2" r="1.1"/><rect class="w" x="403.5" y="747.2" width="9.6" height="9.6"/><circle class="d" cx="408.3" cy="752" r="1.1"/><rect class="w" x="418.3" y="756.5" width="9.6" height="9.6"/><circle class="d" cx="423.1" cy="761.3" r="1.1"/><rect class="w" x="433.1" y="764.7" width="9.6" height="9.6"/><circle class="d" cx="437.9" cy="769.5" r="1.1"/><rect class="w" x="447.9" y="771.2" width="9.6" height="9.6"/><circle class="d" cx="452.7" cy="776" r="1.1"/><rect class="w" x="462.7" y="777.2" width="9.6" height="9.6"/><circle class="d" cx="467.5" cy="782" r="1.1"/><rect class="w" x="477.5" y="783.2" width="9.6" height="9.6"/><circle class="d" cx="482.3" cy="788" r="1.1"/><rect class="w" x="492.3" y="788.1" width="9.6" height="9.6"/><circle class="d" cx="497.1" cy="792.9" r="1.1"/><rect class="w" x="507.1" y="791.9" width="9.6" height="9.6"/><circle class="d" cx="511.9" cy="796.7" r="1.1"/></g>
<g class="mk"><rect class="f" x="92.6" y="837.5" width="9.7" height="9.7"/><rect class="f" x="107.4" y="837.5" width="9.7" height="9.7"/><rect class="f" x="122.2" y="837.5" width="9.7" height="9.7"/><rect class="f" x="137" y="837.5" width="9.7" height="9.7"/><rect class="f" x="151.8" y="837.5" width="9.7" height="9.7"/><rect class="f" x="166.6" y="837.5" width="9.7" height="9.7"/><rect class="f" x="181.4" y="837.5" width="9.7" height="9.7"/><rect class="f" x="196.2" y="837.5" width="9.7" height="9.7"/><rect class="f" x="211" y="837.5" width="9.7" height="9.7"/><rect class="f" x="225.9" y="837.5" width="9.7" height="9.7"/><rect class="f" x="240.7" y="837.5" width="9.7" height="9.7"/><rect class="f" x="255.5" y="837" width="9.7" height="9.7"/><rect class="f" x="270.3" y="790.2" width="9.7" height="9.7"/><rect class="f" x="285.1" y="698.2" width="9.7" height="9.7"/><rect class="f" x="299.9" y="693.9" width="9.7" height="9.7"/><rect class="f" x="314.7" y="721.1" width="9.7" height="9.7"/><rect class="f" x="329.5" y="748.3" width="9.7" height="9.7"/><rect class="f" x="344.3" y="770.1" width="9.7" height="9.7"/><rect class="f" x="359.1" y="784.8" width="9.7" height="9.7"/><rect class="f" x="373.9" y="795.6" width="9.7" height="9.7"/><rect class="f" x="388.7" y="803.8" width="9.7" height="9.7"/><rect class="f" x="403.5" y="809.2" width="9.7" height="9.7"/><rect class="f" x="418.3" y="813.6" width="9.7" height="9.7"/><rect class="f" x="433.1" y="817.4" width="9.7" height="9.7"/><rect class="f" x="447.9" y="820.1" width="9.7" height="9.7"/><rect class="f" x="462.7" y="822.3" width="9.7" height="9.7"/><rect class="f" x="477.5" y="823.9" width="9.7" height="9.7"/><rect class="f" x="492.3" y="825" width="9.7" height="9.7"/><rect class="f" x="507.1" y="826.1" width="9.7" height="9.7"/></g>
<g class="mk"><circle class="w" stroke-width="1.85" cx="97.5" cy="842.4" r="4.75"/><circle class="d" cx="97.5" cy="842.4" r="1.1"/><circle class="w" stroke-width="1.85" cx="112.3" cy="842.4" r="4.75"/><circle class="d" cx="112.3" cy="842.4" r="1.1"/><circle class="w" stroke-width="1.85" cx="127.1" cy="842.4" r="4.75"/><circle class="d" cx="127.1" cy="842.4" r="1.1"/><circle class="w" stroke-width="1.85" cx="141.9" cy="842.4" r="4.75"/><circle class="d" cx="141.9" cy="842.4" r="1.1"/><circle class="w" stroke-width="1.85" cx="156.7" cy="842.4" r="4.75"/><circle class="d" cx="156.7" cy="842.4" r="1.1"/><circle class="w" stroke-width="1.85" cx="171.5" cy="842.4" r="4.75"/><circle class="d" cx="171.5" cy="842.4" r="1.1"/><circle class="w" stroke-width="1.85" cx="186.3" cy="842.4" r="4.75"/><circle class="d" cx="186.3" cy="842.4" r="1.1"/><circle class="w" stroke-width="1.85" cx="201.1" cy="842.4" r="4.75"/><circle class="d" cx="201.1" cy="842.4" r="1.1"/><circle class="w" stroke-width="1.85" cx="215.9" cy="842.4" r="4.75"/><circle class="d" cx="215.9" cy="842.4" r="1.1"/><circle class="w" stroke-width="1.85" cx="230.7" cy="842.4" r="4.75"/><circle class="d" cx="230.7" cy="842.4" r="1.1"/><circle class="w" stroke-width="1.85" cx="245.5" cy="842.4" r="4.75"/><circle class="d" cx="245.5" cy="842.4" r="1.1"/><circle class="w" stroke-width="1.85" cx="260.3" cy="842.4" r="4.75"/><circle class="d" cx="260.3" cy="842.4" r="1.1"/><circle class="w" stroke-width="1.85" cx="275.1" cy="841.3" r="4.75"/><circle class="d" cx="275.1" cy="841.3" r="1.1"/><circle class="w" stroke-width="1.85" cx="289.9" cy="820.6" r="4.75"/><circle class="d" cx="289.9" cy="820.6" r="1.1"/><circle class="w" stroke-width="1.85" cx="304.7" cy="794" r="4.75"/><circle class="d" cx="304.7" cy="794" r="1.1"/><circle class="w" stroke-width="1.85" cx="319.5" cy="795" r="4.75"/><circle class="d" cx="319.5" cy="795" r="1.1"/><circle class="w" stroke-width="1.85" cx="334.3" cy="806.5" r="4.75"/><circle class="d" cx="334.3" cy="806.5" r="1.1"/><circle class="w" stroke-width="1.85" cx="349.1" cy="817.4" r="4.75"/><circle class="d" cx="349.1" cy="817.4" r="1.1"/><circle class="w" stroke-width="1.85" cx="363.9" cy="823.9" r="4.75"/><circle class="d" cx="363.9" cy="823.9" r="1.1"/><circle class="w" stroke-width="1.85" cx="378.7" cy="828" r="4.75"/><circle class="d" cx="378.7" cy="828" r="1.1"/><circle class="w" stroke-width="1.85" cx="393.5" cy="830.7" r="4.75"/><circle class="d" cx="393.5" cy="830.7" r="1.1"/><circle class="w" stroke-width="1.85" cx="408.3" cy="832.6" r="4.75"/><circle class="d" cx="408.3" cy="832.6" r="1.1"/><circle class="w" stroke-width="1.85" cx="423.1" cy="834.2" r="4.75"/><circle class="d" cx="423.1" cy="834.2" r="1.1"/><circle class="w" stroke-width="1.85" cx="437.9" cy="835.3" r="4.75"/><circle class="d" cx="437.9" cy="835.3" r="1.1"/><circle class="w" stroke-width="1.85" cx="452.7" cy="836.1" r="4.75"/><circle class="d" cx="452.7" cy="836.1" r="1.1"/><circle class="w" stroke-width="1.85" cx="467.5" cy="837" r="4.75"/><circle class="d" cx="467.5" cy="837" r="1.1"/><circle class="w" stroke-width="1.85" cx="482.3" cy="837.5" r="4.75"/><circle class="d" cx="482.3" cy="837.5" r="1.1"/><circle class="w" stroke-width="1.85" cx="497.1" cy="837.8" r="4.75"/><circle class="d" cx="497.1" cy="837.8" r="1.1"/><circle class="w" stroke-width="1.85" cx="511.9" cy="838" r="4.75"/><circle class="d" cx="511.9" cy="838" r="1.1"/></g>
<g class="mk"><path class="f" d="M97.5 836.5L102.6 844.8L92.4 844.8Z"/><path class="f" d="M112.3 836.5L117.4 844.8L107.2 844.8Z"/><path class="f" d="M127.1 836.5L132.2 844.8L122 844.8Z"/><path class="f" d="M141.9 836.5L147 844.8L136.8 844.8Z"/><path class="f" d="M156.7 836.5L161.8 844.8L151.6 844.8Z"/><path class="f" d="M171.5 836.5L176.6 844.8L166.4 844.8Z"/><path class="f" d="M186.3 836.5L191.4 844.8L181.2 844.8Z"/><path class="f" d="M201.1 836.5L206.2 844.8L196 844.8Z"/><path class="f" d="M215.9 836.5L221 844.8L210.8 844.8Z"/><path class="f" d="M230.7 836.5L235.8 844.8L225.6 844.8Z"/><path class="f" d="M245.5 836.5L250.6 844.8L240.4 844.8Z"/><path class="f" d="M260.3 836.5L265.4 844.8L255.2 844.8Z"/><path class="f" d="M275.1 836.5L280.2 844.8L270 844.8Z"/><path class="f" d="M289.9 836.2L295 844.4L284.8 844.4Z"/><path class="f" d="M304.7 833.1L309.8 841.3L299.6 841.3Z"/><path class="f" d="M319.5 828.8L324.6 837L314.4 837Z"/><path class="f" d="M334.3 827.3L339.4 835.5L329.2 835.5Z"/><path class="f" d="M349.1 828L354.2 836.3L344 836.3Z"/><path class="f" d="M363.9 828.9L369 837.2L358.8 837.2Z"/><path class="f" d="M378.7 829.8L383.8 838L373.6 838Z"/><path class="f" d="M393.5 830.5L398.6 838.7L388.4 838.7Z"/><path class="f" d="M408.3 831.1L413.4 839.3L403.2 839.3Z"/><path class="f" d="M423.1 831.6L428.2 839.9L418 839.9Z"/><path class="f" d="M437.9 832.2L443 840.4L432.8 840.4Z"/><path class="f" d="M452.7 832.6L457.8 840.9L447.6 840.9Z"/><path class="f" d="M467.5 833L472.6 841.2L462.4 841.2Z"/><path class="f" d="M482.3 833.3L487.4 841.5L477.2 841.5Z"/><path class="f" d="M497.1 833.5L502.2 841.8L492 841.8Z"/><path class="f" d="M511.9 833.7L517 842L506.8 842Z"/></g>
<g class="mk"><path class="w" stroke-width="2.1" d="M97.5 837.9L101.8 845L93.2 845Z"/><circle class="d" cx="97.5" cy="842.3" r="1.0"/><path class="w" stroke-width="2.1" d="M112.3 837.9L116.6 845L108 845Z"/><circle class="d" cx="112.3" cy="842.3" r="1.0"/><path class="w" stroke-width="2.1" d="M127.1 837.9L131.4 845L122.8 845Z"/><circle class="d" cx="127.1" cy="842.3" r="1.0"/><path class="w" stroke-width="2.1" d="M141.9 837.9L146.2 845L137.6 845Z"/><circle class="d" cx="141.9" cy="842.3" r="1.0"/><path class="w" stroke-width="2.1" d="M156.7 837.9L161 845L152.4 845Z"/><circle class="d" cx="156.7" cy="842.3" r="1.0"/><path class="w" stroke-width="2.1" d="M171.5 837.9L175.8 845L167.2 845Z"/><circle class="d" cx="171.5" cy="842.3" r="1.0"/><path class="w" stroke-width="2.1" d="M186.3 837.9L190.6 845L182 845Z"/><circle class="d" cx="186.3" cy="842.3" r="1.0"/><path class="w" stroke-width="2.1" d="M201.1 837.9L205.4 845L196.8 845Z"/><circle class="d" cx="201.1" cy="842.3" r="1.0"/><path class="w" stroke-width="2.1" d="M215.9 837.9L220.2 845L211.6 845Z"/><circle class="d" cx="215.9" cy="842.3" r="1.0"/><path class="w" stroke-width="2.1" d="M230.7 837.9L235 845L226.4 845Z"/><circle class="d" cx="230.7" cy="842.3" r="1.0"/><path class="w" stroke-width="2.1" d="M245.5 837.9L249.8 845L241.2 845Z"/><circle class="d" cx="245.5" cy="842.3" r="1.0"/><path class="w" stroke-width="2.1" d="M260.3 837.9L264.6 845L256 845Z"/><circle class="d" cx="260.3" cy="842.3" r="1.0"/><path class="w" stroke-width="2.1" d="M275.1 837.9L279.4 845L270.8 845Z"/><circle class="d" cx="275.1" cy="842.3" r="1.0"/><path class="w" stroke-width="2.1" d="M289.9 837.9L294.2 845L285.6 845Z"/><circle class="d" cx="289.9" cy="842.3" r="1.0"/><path class="w" stroke-width="2.1" d="M304.7 837.7L309 844.7L300.4 844.7Z"/><circle class="d" cx="304.7" cy="842.1" r="1.0"/><path class="w" stroke-width="2.1" d="M319.5 837.2L323.8 844.3L315.2 844.3Z"/><circle class="d" cx="319.5" cy="841.6" r="1.0"/><path class="w" stroke-width="2.1" d="M334.3 836.8L338.6 843.8L330 843.8Z"/><circle class="d" cx="334.3" cy="841.2" r="1.0"/><path class="w" stroke-width="2.1" d="M349.1 836.7L353.4 843.8L344.8 843.8Z"/><circle class="d" cx="349.1" cy="841.1" r="1.0"/><path class="w" stroke-width="2.1" d="M363.9 836.7L368.2 843.8L359.6 843.8Z"/><circle class="d" cx="363.9" cy="841.1" r="1.0"/><path class="w" stroke-width="2.1" d="M378.7 836.7L383 843.8L374.4 843.8Z"/><circle class="d" cx="378.7" cy="841.1" r="1.0"/><path class="w" stroke-width="2.1" d="M393.5 836.7L397.8 843.8L389.2 843.8Z"/><circle class="d" cx="393.5" cy="841.1" r="1.0"/><path class="w" stroke-width="2.1" d="M408.3 836.8L412.6 843.8L404 843.8Z"/><circle class="d" cx="408.3" cy="841.2" r="1.0"/><path class="w" stroke-width="2.1" d="M423.1 836.8L427.4 843.8L418.8 843.8Z"/><circle class="d" cx="423.1" cy="841.2" r="1.0"/><path class="w" stroke-width="2.1" d="M437.9 836.8L442.2 843.9L433.6 843.9Z"/><circle class="d" cx="437.9" cy="841.2" r="1.0"/><path class="w" stroke-width="2.1" d="M452.7 836.8L457 843.9L448.4 843.9Z"/><circle class="d" cx="452.7" cy="841.2" r="1.0"/><path class="w" stroke-width="2.1" d="M467.5 836.9L471.8 843.9L463.2 843.9Z"/><circle class="d" cx="467.5" cy="841.3" r="1.0"/><path class="w" stroke-width="2.1" d="M482.3 837L486.6 844L478 844Z"/><circle class="d" cx="482.3" cy="841.4" r="1.0"/><path class="w" stroke-width="2.1" d="M497.1 837L501.4 844.1L492.8 844.1Z"/><circle class="d" cx="497.1" cy="841.4" r="1.0"/><path class="w" stroke-width="2.1" d="M511.9 837.1L516.2 844.1L507.6 844.1Z"/><circle class="d" cx="511.9" cy="841.5" r="1.0"/></g>
<g class="mk"><circle class="f" cx="101.2" cy="842.4" r="5"/><circle class="f" cx="122.6" cy="842.4" r="5"/><circle class="f" cx="144" cy="842.4" r="5"/><circle class="f" cx="165.4" cy="842.4" r="5"/><circle class="f" cx="186.8" cy="842.4" r="5"/><circle class="f" cx="208.2" cy="842.4" r="5"/><circle class="f" cx="229.6" cy="840.9" r="5"/><circle class="f" cx="250.9" cy="602.6" r="5"/><circle class="f" cx="272.3" cy="588.2" r="5"/><circle class="f" cx="293.7" cy="602.4" r="5"/><circle class="f" cx="315.1" cy="616.1" r="5"/><circle class="f" cx="336.5" cy="628.1" r="5"/><circle class="f" cx="357.9" cy="638.4" r="5"/><circle class="f" cx="379.3" cy="647.7" r="5"/><circle class="f" cx="400.7" cy="655.3" r="5"/><circle class="f" cx="422.1" cy="661.9" r="5"/><circle class="f" cx="443.5" cy="667.8" r="5"/><circle class="f" cx="464.9" cy="672.7" r="5"/><circle class="f" cx="486.2" cy="676.6" r="5"/><circle class="f" cx="507.6" cy="680.3" r="5"/></g>
</g>
<text class="tk" x="135.5" y="873.2" text-anchor="middle">−4</text>
<text class="tk" x="186.1" y="873.2" text-anchor="middle">−2</text>
<text class="tk" x="238.4" y="873.2" text-anchor="middle">0</text>
<text class="tk" x="288.9" y="873.2" text-anchor="middle">2</text>
<text class="tk" x="339.5" y="873.2" text-anchor="middle">4</text>
<text class="tk" x="390" y="873.2" text-anchor="middle">6</text>
<text class="tk" x="440.6" y="873.2" text-anchor="middle">8</text>
<text class="tk" x="491.1" y="873.2" text-anchor="middle">10</text>
<text class="tk" x="76.5" y="850" text-anchor="end">0</text>
<text class="tk" x="76.5" y="795.6" text-anchor="end">1</text>
<text class="tk" x="76.5" y="741.1" text-anchor="end">2</text>
<text class="tk" x="76.5" y="686.7" text-anchor="end">3</text>
<text class="tk" x="76.5" y="632.3" text-anchor="end">4</text>
<text class="tk" x="76.5" y="577.9" text-anchor="end">5</text>
<g class="ax">
<rect x="640.5" y="559.5" width="409" height="296"/>
<path d="M688 855.5v-5M688 559.5v5M736 855.5v-5M736 559.5v5M784 855.5v-5M784 559.5v5M832 855.5v-5M832 559.5v5M880 855.5v-5M880 559.5v5M928 855.5v-5M928 559.5v5M976 855.5v-5M976 559.5v5M1024 855.5v-5M1024 559.5v5M640.5 855.2h5M1049.5 855.2h-5M640.5 798.2h5M1049.5 798.2h-5M640.5 741.2h5M1049.5 741.2h-5M640.5 684.2h5M1049.5 684.2h-5M640.5 627.2h5M1049.5 627.2h-5M640.5 570.2h5M1049.5 570.2h-5"/>
</g>
<g class="ch">
<path class="ln" d="M651.4 855.2 652.2 855.2 653 855.2 653.8 855.2 654.6 855.2 655.4 855.2 656.2 855.2 657 855.2 657.8 855.2 658.6 855.2 659.4 855.2 660.2 855.2 661 855.2 661.8 855.2 662.5 855.2 663.3 855.2 664.1 855.2 664.9 855.2 665.7 855.2 666.5 855.2 667.3 855.2 668.1 855.2 668.9 855.2 669.7 855.2 670.5 855.2 671.3 855.2 672.1 855.2 672.9 855.2 673.7 855.2 674.5 855.2 675.3 855.2 676.1 855.2 676.9 855.2 677.7 855.2 678.5 855.2 679.3 855.2 680.1 855.2 680.9 855.2 681.7 855.2 682.5 855.2 683.2 855.2 684 855.2 684.8 855.2 685.6 855.2 686.4 855.2 687.2 855.2 688 855.2 688.8 855.2 689.6 855.2 690.4 855.2 691.2 855.2 692 855.2 692.8 855.2 693.6 855.2 694.4 855.2 695.2 855.2 696 855.2 696.8 855.2 697.6 855.2 698.4 855.2 699.2 855.2 700 855.2 700.8 855.2 701.6 855.2 702.4 855.2 703.2 855.2 704 855.2 704.7 855.2 705.5 855.2 706.3 855.2 707.1 855.2 707.9 855.2 708.7 855.2 709.5 855.2 710.3 855.2 711.1 855.2 711.9 855.2 712.7 855.2 713.5 855.2 714.3 855.2 715.1 855.2 715.9 855.2 716.7 855.2 717.5 855.2 718.3 855.2 719.1 855.2 719.9 855.2 720.7 855.2 721.5 855.2 722.3 855.2 723.1 855.2 723.9 855.2 724.7 855.2 725.4 855.2 726.2 855.2 727 855.2 727.8 855.2 728.6 855.2 729.4 855.2 730.2 855.2 731 855.2 731.8 855.2 732.6 855.2 733.4 855.2 734.2 855.2 735 855.2 735.8 855.2 736.6 855.2 737.4 855.2 738.2 855.2 739 855.2 739.8 855.2 740.6 855.2 741.4 855.2 742.2 855.2 743 855.2 743.8 855.2 744.6 855.2 745.4 855.2 746.2 855.2 746.9 855.2 747.7 855.2 748.5 855.2 749.3 855.2 750.1 855.2 750.9 855.2 751.7 855.2 752.5 855.2 753.3 855.2 754.1 855.2 754.9 855.2 755.7 855.2 756.5 855.2 757.3 855.2 758.1 855.2 758.9 855.2 759.7 855.2 760.5 855.2 761.3 855.2 762.1 855.2 762.9 855.2 763.7 855.2 764.5 855.2 765.3 855.2 766.1 855.2 766.9 855.2 767.6 855.2 768.4 855.2 769.2 855.2 770 855.2 770.8 855.2 771.6 855.2 772.4 855.2 773.2 855.2 774 855.2 774.8 855.2 775.6 855.2 776.4 855.2 776.8 855.2 777.2 855.2 778 854.8 778.8 854.2 779.6 853.3 780.4 852 781.2 850.4 781.6 849.5 782 847.8 782.8 839.7 783.6 827.9 784 821 784.4 814 785.2 793.7 786 768.7 786.8 742.5 787.6 718.1 787.8 710.4 788.4 697.2 789.1 676.9 789.9 657.7 790.7 641 791.2 632.9 791.5 627.5 792.3 615.4 793.1 604.4 793.9 594.9 794.7 587.3 795.3 583.3 795.5 581.9 796.3 577.5 797.1 573.9 797.9 571.3 798.4 570.2 798.7 569.7 799.5 568.4 800.3 567.3 801.1 566.4 801.9 565.9 802.7 565.6 802.7 565.6 803.5 565.7 804.3 566 805.1 566.4 805.9 567 806.7 567.6 807.5 568.2 808.3 568.9 809.1 569.5 809.2 569.6 809.9 570.2 810.6 570.9 811.4 571.6 812.2 572.4 813 573.2 813.8 574.1 814.6 575 815.4 575.9 816.2 576.9 817 577.9 817.8 578.9 818.6 579.9 819.4 580.9 820.2 581.9 821 583 821.8 584 822.6 585 823.4 586.1 824.2 587.1 825 588.1 825.8 589 826.6 590 826.7 590.2 827.4 590.9 828.2 591.9 829 592.8 829.8 593.8 830.6 594.7 831.3 595.7 832.1 596.6 832.9 597.6 833.7 598.5 834.5 599.5 835.3 600.4 836.1 601.4 836.9 602.3 837.7 603.3 838.5 604.2 839.3 605.1 840.1 606.1 840.9 607 841.7 607.9 842.5 608.8 843.3 609.6 844.1 610.5 844.2 610.7 844.9 611.4 845.7 612.2 846.5 613.1 847.3 613.9 848.1 614.8 848.9 615.6 849.7 616.4 850.5 617.2 851.3 618.1 852.1 618.9 852.8 619.7 853.6 620.5 854.4 621.3 855.2 622.1 856 622.8 856.8 623.6 857.6 624.4 858.4 625.2 859.2 625.9 860 626.7 860.8 627.4 861.6 628.2 861.8 628.3 862.4 628.9 863.2 629.7 864 630.4 864.8 631.1 865.6 631.9 866.4 632.6 867.2 633.3 868 634 868.8 634.7 869.6 635.4 870.4 636.1 871.2 636.8 872 637.5 872.8 638.2 873.5 638.9 874.3 639.6 875.1 640.3 875.9 640.9 876.7 641.6 877.5 642.3 878.3 642.9 879.1 643.6 879.3 643.7 879.9 644.2 880.7 644.9 881.5 645.5 882.3 646.2 883.1 646.8 883.9 647.5 884.7 648.1 885.5 648.7 886.3 649.4 887.1 650 887.9 650.6 888.7 651.2 889.5 651.8 890.3 652.5 891.1 653.1 891.9 653.7 892.7 654.3 893.5 654.9 894.3 655.5 895 656.1 895.8 656.7 896.6 657.3 896.8 657.4 897.4 657.9 898.2 658.5 899 659.1 899.8 659.6 900.6 660.2 901.4 660.8 902.2 661.4 903 662 903.8 662.5 904.6 663.1 905.4 663.7 906.2 664.3 907 664.8 907.8 665.4 908.6 666 909.4 666.5 910.2 667.1 911 667.6 911.8 668.2 912.6 668.7 913.4 669.3 914.2 669.8 914.4 670 915 670.4 915.7 670.9 916.5 671.4 917.3 672 918.1 672.5 918.9 673 919.7 673.6 920.5 674.1 921.3 674.6 922.1 675.1 922.9 675.7 923.7 676.2 924.5 676.7 925.3 677.2 926.1 677.7 926.9 678.2 927.7 678.7 928.5 679.2 929.3 679.7 930.1 680.2 930.9 680.7 931.7 681.2 931.9 681.4 932.5 681.7 933.3 682.2 934.1 682.7 934.9 683.2 935.7 683.7 936.5 684.1 937.2 684.6 938 685.1 938.8 685.6 939.6 686.1 940.4 686.5 941.2 687 942 687.5 942.8 687.9 943.6 688.4 944.4 688.9 945.2 689.3 946 689.8 946.8 690.2 947.6 690.6 948.4 691.1 949.2 691.5 949.4 691.6 950 691.9 950.8 692.3 951.6 692.7 952.4 693.2 953.2 693.6 954 694 954.8 694.4 955.6 694.7 956.4 695.1 957.2 695.5 957.9 695.9 958.7 696.3 959.5 696.7 960.3 697.1 961.1 697.4 961.9 697.8 962.7 698.2 963.5 698.6 964.3 698.9 965.1 699.3 965.9 699.7 966.7 700.1 966.9 700.2 967.5 700.4 968.3 700.8 969.1 701.2 969.9 701.5 970.7 701.9 971.5 702.3 972.3 702.6 973.1 703 973.9 703.4 974.7 703.7 975.5 704.1 976.3 704.4 977.1 704.8 977.9 705.2 978.7 705.5 979.4 705.9 980.2 706.2 981 706.6 981.8 706.9 982.6 707.3 983.4 707.7 984.2 708 984.5 708.1 985 708.4 985.8 708.8 986.6 709.1 987.4 709.5 988.2 709.9 989 710.2 989.8 710.6 990.6 711 991.4 711.3 992.2 711.7 993 712.1 993.8 712.4 994.6 712.8 995.4 713.1 996.2 713.5 997 713.9 997.8 714.2 998.6 714.6 999.4 714.9 1000.1 715.3 1000.9 715.7 1001.7 716 1002 716.1 1002.5 716.4 1003.3 716.7 1004.1 717.1 1004.9 717.4 1005.7 717.7 1006.5 718.1 1007.3 718.4 1008.1 718.8 1008.9 719.1 1009.7 719.4 1010.5 719.8 1011.3 720.1 1012.1 720.5 1012.9 720.8 1013.7 721.1 1014.5 721.5 1015.3 721.8 1016.1 722.1 1016.9 722.4 1017.7 722.8 1018.5 723.1 1019.3 723.4 1019.5 723.5 1020.1 723.7 1020.9 724.1 1021.6 724.4 1022.4 724.7 1023.2 725.1 1024 725.4 1024.8 725.7 1025.6 726.1 1026.4 726.4 1027.2 726.7 1028 727.1 1028.8 727.4 1029.6 727.7 1030.4 728 1031.2 728.3 1032 728.6 1032.8 728.9 1033.6 729.2 1034.4 729.5 1035.2 729.8 1036 730 1036.8 730.3 1037.1 730.4 1037.6 730.5 1038.4 730.8 1039.2 731 1040 731.2 1040.8 731.5 1041.6 731.7 1042.4 731.9 1043.1 732.1 1043.9 732.3 1044.7 732.5 1045.5 732.7 1046.3 732.9 1047.1 733.1 1047.9 733.3 1048.7 733.5"/>
<path class="ln" d="M651.4 855.2 652.2 855.2 653 855.2 653.8 855.2 654.6 855.2 655.4 855.2 656.2 855.2 657 855.2 657.8 855.2 658.6 855.2 659.4 855.2 660.2 855.2 661 855.2 661.8 855.2 662.5 855.2 663.3 855.2 664.1 855.2 664.9 855.2 665.7 855.2 666.5 855.2 667.3 855.2 668.1 855.2 668.9 855.2 669.7 855.2 670.5 855.2 671.3 855.2 672.1 855.2 672.9 855.2 673.7 855.2 674.5 855.2 675.3 855.2 676.1 855.2 676.9 855.2 677.7 855.2 678.5 855.2 679.3 855.2 680.1 855.2 680.9 855.2 681.7 855.2 682.5 855.2 683.2 855.2 684 855.2 684.8 855.2 685.6 855.2 686.4 855.2 687.2 855.2 688 855.2 688.8 855.2 689.6 855.2 690.4 855.2 691.2 855.2 692 855.2 692.8 855.2 693.6 855.2 694.4 855.2 695.2 855.2 696 855.2 696.8 855.2 697.6 855.2 698.4 855.2 699.2 855.2 700 855.2 700.8 855.2 701.6 855.2 702.4 855.2 703.2 855.2 704 855.2 704.7 855.2 705.5 855.2 706.3 855.2 707.1 855.2 707.9 855.2 708.7 855.2 709.5 855.2 710.3 855.2 711.1 855.2 711.9 855.2 712.7 855.2 713.5 855.2 714.3 855.2 715.1 855.2 715.9 855.2 716.7 855.2 717.5 855.2 718.3 855.2 719.1 855.2 719.9 855.2 720.7 855.2 721.5 855.2 722.3 855.2 723.1 855.2 723.9 855.2 724.7 855.2 725.4 855.2 726.2 855.2 727 855.2 727.8 855.2 728.6 855.2 728.8 855.2 729.4 855.2 730.2 855.2 731 855.1 731.8 855 732.6 854.9 733.4 854.7 734.2 854.6 735 854.4 735.8 854.2 736.6 854 737.4 853.8 738.2 853.6 738.4 853.5 739 853.3 739.8 852.9 740.6 852.5 741.4 852 742.2 851.3 743 850.7 743.8 849.9 744.6 849.1 745.4 848.2 746.2 847.3 746.9 846.3 747.7 845.3 748 844.9 748.5 844.2 749.3 842.9 750.1 841.5 750.9 840 751.7 838.2 752.5 836.3 753.3 834.2 754.1 832 754.9 829.5 755.7 826.9 756.5 824.1 756.6 823.9 757.3 820.9 758.1 816.9 758.9 812.3 759.7 807.1 760.5 801.5 761.3 795.5 762.1 789.3 762.4 786.8 762.9 782.9 763.7 775.4 764.5 767.1 765.3 758.2 766.1 749 766.9 739.7 767.6 730.6 768.4 721.8 769.2 713.8 769.6 710.4 770 706.6 770.8 700.4 771.6 694.6 772.4 688.7 773.2 682.3 774 674.9 774.1 673.9 774.8 665 775.6 652.7 776.4 640.6 777 632.9 777.2 631.3 778 623.7 778.8 616.8 779.6 610.7 780.4 605.3 781.2 600.7 781.6 598.7 782 597 782.8 593.5 783.6 590.3 784.4 587.5 785.2 585 786 583.1 786.8 581.7 786.9 581.6 787.6 580.8 788.4 580 789.1 579.3 789.9 578.7 790.7 578.3 791.5 578.2 791.6 578.2 792.3 578.2 793.1 578.2 793.9 578.3 794.7 578.3 795.5 578.4 796.3 578.5 797.1 578.6 797.9 578.7 798.4 578.8 798.7 578.8 799.5 579 800.3 579.3 801.1 579.6 801.9 580.1 802.7 580.5 803.5 581.1 804.3 581.6 805.1 582.3 805.9 582.9 806.7 583.5 807.5 584.2 808.3 584.9 809.1 585.5 809.2 585.6 809.9 586.2 810.6 586.9 811.4 587.6 812.2 588.4 813 589.2 813.8 590.1 814.6 591 815.4 592 816.2 592.9 817 593.9 817.8 594.9 818.6 595.9 819.4 596.9 820.2 597.9 821 598.9 821.8 599.8 822.6 600.8 823.4 601.8 824.2 602.7 825 603.7 825.8 604.5 826.6 605.4 826.7 605.5 827.4 606.2 828.2 607.1 829 607.9 829.8 608.7 830.6 609.5 831.3 610.2 832.1 611 832.9 611.8 833.7 612.6 834.5 613.3 835.3 614.1 836.1 614.8 836.9 615.6 837.7 616.4 838.5 617.1 839.3 617.9 840.1 618.6 840.9 619.4 841.7 620.2 842.5 620.9 843.3 621.7 844.1 622.5 844.2 622.6 844.9 623.3 845.7 624.1 846.5 624.9 847.3 625.7 848.1 626.5 848.9 627.4 849.7 628.2 850.5 629 851.3 629.9 852.1 630.7 852.8 631.5 853.6 632.3 854.4 633.2 855.2 634 856 634.8 856.8 635.6 857.6 636.4 858.4 637.2 859.2 637.9 860 638.7 860.8 639.4 861.6 640.2 861.8 640.3 862.4 640.9 863.2 641.6 864 642.3 864.8 643 865.6 643.7 866.4 644.3 867.2 645 868 645.7 868.8 646.3 869.6 647 870.4 647.6 871.2 648.2 872 648.9 872.8 649.5 873.5 650.1 874.3 650.8 875.1 651.4 875.9 652 876.7 652.6 877.5 653.2 878.3 653.8 879.1 654.4 879.3 654.6 879.9 655 880.7 655.6 881.5 656.2 882.3 656.8 883.1 657.4 883.9 658 884.7 658.5 885.5 659.1 886.3 659.7 887.1 660.2 887.9 660.8 888.7 661.4 889.5 661.9 890.3 662.5 891.1 663 891.9 663.6 892.7 664.2 893.5 664.7 894.3 665.3 895 665.8 895.8 666.4 896.6 667 896.8 667.1 897.4 667.5 898.2 668.1 899 668.7 899.8 669.3 900.6 669.9 901.4 670.5 902.2 671 903 671.6 903.8 672.2 904.6 672.8 905.4 673.4 906.2 674 907 674.6 907.8 675.1 908.6 675.7 909.4 676.3 910.2 676.8 911 677.4 911.8 677.9 912.6 678.5 913.4 679 914.2 679.5 914.4 679.6 915 680 915.7 680.5 916.5 681 917.3 681.5 918.1 682 918.9 682.5 919.7 683 920.5 683.4 921.3 683.9 922.1 684.4 922.9 684.8 923.7 685.3 924.5 685.7 925.3 686.2 926.1 686.6 926.9 687.1 927.7 687.5 928.5 688 929.3 688.4 930.1 688.9 930.9 689.3 931.7 689.8 931.9 689.9 932.5 690.2 933.3 690.7 934.1 691.1 934.9 691.6 935.7 692 936.5 692.5 937.2 692.9 938 693.4 938.8 693.8 939.6 694.3 940.4 694.7 941.2 695.2 942 695.6 942.8 696.1 943.6 696.5 944.4 696.9 945.2 697.4 946 697.8 946.8 698.2 947.6 698.6 948.4 699.1 949.2 699.5 949.4 699.6 950 699.9 950.8 700.3 951.6 700.7 952.4 701.1 953.2 701.5 954 701.9 954.8 702.3 955.6 702.7 956.4 703.1 957.2 703.5 957.9 703.9 958.7 704.2 959.5 704.6 960.3 705 961.1 705.4 961.9 705.8 962.7 706.1 963.5 706.5 964.3 706.9 965.1 707.3 965.9 707.7 966.7 708 966.9 708.1 967.5 708.4 968.3 708.8 969.1 709.1 969.9 709.5 970.7 709.9 971.5 710.2 972.3 710.6 973.1 711 973.9 711.3 974.7 711.7 975.5 712.1 976.3 712.4 977.1 712.8 977.9 713.1 978.7 713.5 979.4 713.8 980.2 714.2 981 714.6 981.8 714.9 982.6 715.3 983.4 715.6 984.2 716 984.5 716.1 985 716.4 985.8 716.7 986.6 717.1 987.4 717.5 988.2 717.8 989 718.2 989.8 718.6 990.6 718.9 991.4 719.3 992.2 719.7 993 720 993.8 720.4 994.6 720.8 995.4 721.1 996.2 721.5 997 721.9 997.8 722.2 998.6 722.6 999.4 722.9 1000.1 723.3 1000.9 723.6 1001.7 724 1002 724.1 1002.5 724.3 1003.3 724.7 1004.1 725 1004.9 725.4 1005.7 725.7 1006.5 726.1 1007.3 726.4 1008.1 726.7 1008.9 727.1 1009.7 727.4 1010.5 727.8 1011.3 728.1 1012.1 728.4 1012.9 728.8 1013.7 729.1 1014.5 729.4 1015.3 729.8 1016.1 730.1 1016.9 730.4 1017.7 730.8 1018.5 731.1 1019.3 731.4 1019.5 731.5 1020.1 731.7 1020.9 732 1021.6 732.4 1022.4 732.7 1023.2 733 1024 733.4 1024.8 733.7 1025.6 734 1026.4 734.3 1027.2 734.7 1028 735 1028.8 735.3 1029.6 735.6 1030.4 735.9 1031.2 736.2 1032 736.5 1032.8 736.8 1033.6 737.1 1034.4 737.4 1035.2 737.7 1036 738 1036.8 738.3 1037.1 738.4 1037.6 738.5 1038.4 738.8 1039.2 739 1040 739.3 1040.8 739.5 1041.6 739.8 1042.4 740 1043.1 740.3 1043.9 740.5 1044.7 740.8 1045.5 741 1046.3 741.2 1047.1 741.4 1047.9 741.7 1048.7 741.9"/>
<path class="ln" d="M651.4 855.2 652.2 855.2 653 855.2 653.8 855.2 654.6 855.2 655.4 855.2 656.2 855.2 657 855.2 657.8 855.2 658.6 855.2 659.4 855.2 660.2 855.2 661 855.2 661.8 855.2 662.5 855.2 663.3 855.2 664.1 855.2 664.9 855.2 665.7 855.2 666.5 855.2 667.3 855.2 668.1 855.2 668.9 855.2 669.7 855.2 670.5 855.2 671.3 855.2 672.1 855.2 672.9 855.2 673.7 855.2 674.5 855.2 675.3 855.2 676.1 855.2 676.9 855.2 677.7 855.2 678.5 855.2 679.3 855.2 680.1 855.2 680.9 855.2 681.7 855.2 682.5 855.2 683.2 855.2 684 855.2 684.8 855.2 685.6 855.2 686.4 855.2 687.2 855.2 688 855.2 688.8 855.2 689.6 855.2 690.4 855.2 691.2 855.2 692 855.2 692.8 855.2 693.6 855.2 694.4 855.2 695.2 855.2 696 855.2 696.8 855.2 697.6 855.2 698.4 855.2 699.2 855.2 700 855.2 700 855.2 700.8 855.2 701.6 855.1 702.4 855.1 703.2 855 704 854.9 704.7 854.7 705.5 854.5 706.3 854.3 707.1 854 707.9 853.8 708.6 853.5 708.7 853.4 709.5 852.4 710.3 850.4 711.1 847.5 711.9 844.2 712.7 840.5 713.2 838.1 713.5 836.5 714.3 831.3 715.1 824.9 715.9 817.9 716.7 810.6 716.8 809.6 717.5 803.1 718.3 794.8 719.1 786.1 719.9 777.1 720.7 768.1 721.5 759.4 721.5 758.9 722.3 751.1 723.1 742.9 723.9 734.9 724.7 726.8 725.4 718.5 726.2 710 727 701.1 727.1 700.2 727.8 691 728.6 680 729.4 669.7 730 663.7 730.2 661.6 731 654.7 731.8 648.3 732.6 642.4 733.4 637 734.2 632.1 735 627.6 735.8 623.6 736 622.6 736.6 619.9 737.4 616.4 738.2 613.5 739 611.4 739 611.2 739.8 609.8 740.6 608.4 741.4 607.2 742.2 606 743 604.9 743.8 604 744.6 603.1 745.4 602.4 746.2 601.7 746.9 601.1 747.7 600.6 748 600.4 748.5 600.1 749.3 599.6 750.1 599.2 750.9 598.7 751.7 598.3 752.5 598 753.3 597.6 754.1 597.4 754.9 597.2 755.7 597 756.5 597 756.6 597 757.3 597 758.1 597 758.9 597.1 759.7 597.1 760.5 597.2 761.3 597.3 762.1 597.4 762.9 597.6 763.7 597.7 764.5 597.9 765.3 598 766.1 598.2 766.9 598.4 767.6 598.6 768.4 598.8 769.2 599 770 599.2 770.8 599.4 771.6 599.7 772.4 599.9 773.2 600.1 774 600.4 774.1 600.4 774.8 600.6 775.6 601 776.4 601.3 777.2 601.7 778 602.2 778.8 602.6 779.6 603.2 780.4 603.7 781.2 604.3 782 604.8 782.8 605.5 783.6 606.1 784.4 606.7 785.2 607.3 786 608 786.8 608.6 787.6 609.3 788.4 609.9 789.1 610.5 789.9 611.1 790.7 611.7 791.5 612.3 791.6 612.4 792.3 612.9 793.1 613.4 793.9 614 794.7 614.5 795.5 615.1 796.3 615.6 797.1 616.2 797.9 616.7 798.7 617.3 799.5 617.8 800.3 618.4 801.1 618.9 801.9 619.5 802.7 620.1 803.5 620.6 804.3 621.2 805.1 621.8 805.9 622.4 806.7 623 807.5 623.6 808.3 624.2 809.1 624.8 809.2 624.9 809.9 625.5 810.6 626.1 811.4 626.8 812.2 627.4 813 628.1 813.8 628.8 814.6 629.5 815.4 630.2 816.2 630.9 817 631.6 817.8 632.3 818.6 633 819.4 633.7 820.2 634.5 821 635.2 821.8 635.9 822.6 636.6 823.4 637.4 824.2 638.1 825 638.8 825.8 639.5 826.6 640.2 826.7 640.3 827.4 640.9 828.2 641.6 829 642.3 829.8 643 830.6 643.7 831.3 644.4 832.1 645.1 832.9 645.8 833.7 646.5 834.5 647.2 835.3 647.9 836.1 648.6 836.9 649.3 837.7 650 838.5 650.7 839.3 651.4 840.1 652.1 840.9 652.8 841.7 653.5 842.5 654.2 843.3 654.9 844.1 655.6 844.2 655.7 844.9 656.3 845.7 656.9 846.5 657.6 847.3 658.3 848.1 659 848.9 659.7 849.7 660.4 850.5 661.1 851.3 661.7 852.1 662.4 852.8 663.1 853.6 663.8 854.4 664.4 855.2 665.1 856 665.8 856.8 666.5 857.6 667.1 858.4 667.8 859.2 668.4 860 669.1 860.8 669.7 861.6 670.4 861.8 670.5 862.4 671 863.2 671.7 864 672.3 864.8 673 865.6 673.6 866.4 674.3 867.2 674.9 868 675.5 868.8 676.2 869.6 676.8 870.4 677.4 871.2 678 872 678.7 872.8 679.3 873.5 679.9 874.3 680.5 875.1 681.1 875.9 681.7 876.7 682.3 877.5 682.9 878.3 683.5 879.1 684.1 879.3 684.2 879.9 684.7 880.7 685.2 881.5 685.8 882.3 686.4 883.1 686.9 883.9 687.5 884.7 688 885.5 688.6 886.3 689.1 887.1 689.6 887.9 690.2 888.7 690.7 889.5 691.2 890.3 691.8 891.1 692.3 891.9 692.8 892.7 693.4 893.5 693.9 894.3 694.4 895 695 895.8 695.5 896.6 696 896.8 696.2 897.4 696.6 898.2 697.1 899 697.7 899.8 698.2 900.6 698.8 901.4 699.4 902.2 699.9 903 700.5 903.8 701 904.6 701.6 905.4 702.1 906.2 702.7 907 703.2 907.8 703.8 908.6 704.3 909.4 704.9 910.2 705.4 911 705.9 911.8 706.5 912.6 707 913.4 707.5 914.2 708 914.4 708.1 915 708.5 915.7 709 916.5 709.5 917.3 710 918.1 710.5 918.9 711 919.7 711.4 920.5 711.9 921.3 712.4 922.1 712.9 922.9 713.3 923.7 713.8 924.5 714.3 925.3 714.7 926.1 715.2 926.9 715.6 927.7 716.1 928.5 716.5 929.3 717 930.1 717.4 930.9 717.8 931.7 718.3 931.9 718.4 932.5 718.7 933.3 719.2 934.1 719.6 934.9 720 935.7 720.5 936.5 720.9 937.2 721.3 938 721.7 938.8 722.2 939.6 722.6 940.4 723 941.2 723.4 942 723.8 942.8 724.2 943.6 724.6 944.4 725 945.2 725.4 946 725.8 946.8 726.2 947.6 726.6 948.4 727 949.2 727.4 949.4 727.5 950 727.8 950.8 728.2 951.6 728.6 952.4 728.9 953.2 729.3 954 729.7 954.8 730.1 955.6 730.4 956.4 730.8 957.2 731.2 957.9 731.5 958.7 731.9 959.5 732.2 960.3 732.6 961.1 732.9 961.9 733.3 962.7 733.6 963.5 734 964.3 734.3 965.1 734.7 965.9 735 966.7 735.4 966.9 735.5 967.5 735.7 968.3 736.1 969.1 736.4 969.9 736.8 970.7 737.1 971.5 737.5 972.3 737.8 973.1 738.2 973.9 738.5 974.7 738.9 975.5 739.2 976.3 739.6 977.1 739.9 977.9 740.2 978.7 740.6 979.4 740.9 980.2 741.2 981 741.5 981.8 741.9 982.6 742.2 983.4 742.5 984.2 742.8 984.5 742.9 985 743.1 985.8 743.4 986.6 743.7 987.4 744 988.2 744.3 989 744.6 989.8 744.9 990.6 745.2 991.4 745.5 992.2 745.7 993 746 993.8 746.3 994.6 746.6 995.4 746.9 996.2 747.1 997 747.4 997.8 747.7 998.6 748 999.4 748.2 1000.1 748.5 1000.9 748.8 1001.7 749.1 1002 749.2 1002.5 749.4 1003.3 749.7 1004.1 749.9 1004.9 750.2 1005.7 750.5 1006.5 750.8 1007.3 751.1 1008.1 751.4 1008.9 751.7 1009.7 752 1010.5 752.3 1011.3 752.5 1012.1 752.8 1012.9 753.1 1013.7 753.4 1014.5 753.7 1015.3 754 1016.1 754.3 1016.9 754.5 1017.7 754.8 1018.5 755.1 1019.3 755.4 1019.5 755.5 1020.1 755.6 1020.9 755.9 1021.6 756.2 1022.4 756.4 1023.2 756.7 1024 757 1024.8 757.3 1025.6 757.5 1026.4 757.8 1027.2 758.1 1028 758.3 1028.8 758.6 1029.6 758.9 1030.4 759.1 1031.2 759.4 1032 759.6 1032.8 759.9 1033.6 760.1 1034.4 760.4 1035.2 760.6 1036 760.8 1036.8 761.1 1037.1 761.2 1037.6 761.3 1038.4 761.5 1039.2 761.7 1040 762 1040.8 762.2 1041.6 762.4 1042.4 762.6 1043.1 762.8 1043.9 763 1044.7 763.2 1045.5 763.4 1046.3 763.6 1047.1 763.8 1047.9 764 1048.7 764.2"/>
<path class="ln" d="M651.4 855.2 652.2 855.2 653 855.2 653.8 855.2 654.6 855.2 655.4 855.2 656.2 855.2 657 855.2 657.8 855.2 658.6 855.2 659.4 855.2 660.2 855.2 661 855.2 661.8 855.2 662.5 855.2 663.3 855.2 664.1 855.2 664.9 855.2 665.7 855.2 666.5 855.2 667.3 855.2 668.1 855.2 668.9 855.2 669.7 855.2 670.5 855.2 671.3 855.2 672.1 855.2 672.9 855.2 673.7 855.2 674.5 855.2 675.3 855.2 676.1 855.2 676.9 855.2 677.7 855.2 678.5 855.2 679.3 855.2 680.1 855.2 680.8 855.2 680.9 855.2 681.7 855.1 682.5 855 683.2 854.7 684 854.4 684.8 853.9 685.6 853.3 686.4 852.7 686.8 852.4 687.2 851.6 688 848.6 688.8 844 689.6 838.4 690.4 832.4 690.4 832.3 691.2 824.8 692 815.1 692.8 804.1 693.6 792.6 694 786.8 694.4 780.7 695.2 766.9 696 752.9 696.8 741.2 696.9 740.1 697.6 732.4 698.4 724.5 699.2 717.5 700 711.1 700.8 705.1 701.6 699.2 702.4 693.3 703.2 687.1 704 680.5 704 680.2 704.7 673.1 705.5 664.7 706.3 655.8 707.1 646.8 707.9 638.1 708.7 630.2 709.5 623.4 710.3 618.2 711.1 615 711.3 614.7 711.9 613.4 712.7 612 713.5 610.8 714.3 609.6 715.1 608.6 715.9 607.9 716.7 607.3 717.5 606.9 718.3 606.7 718.5 606.7 719.1 606.8 719.9 607 720.7 607.4 721.5 607.8 721.5 607.8 722.3 608.2 723.1 608.6 723.9 609 724.7 609.5 725.4 610 726.2 610.5 727 611.1 727.8 611.6 728.6 612.2 729.4 612.8 730.2 613.5 731 614.1 731.8 614.7 732.6 615.4 733.4 616.1 734.2 616.8 735 617.4 735.8 618.1 736.6 618.8 737.4 619.5 738.2 620.2 739 620.9 739 620.9 739.8 621.6 740.6 622.3 741.4 623 742.2 623.8 743 624.6 743.8 625.4 744.6 626.2 745.4 627 746.2 627.9 746.9 628.7 747.7 629.6 748.5 630.4 749.3 631.3 750.1 632.1 750.9 632.9 751.7 633.8 752.5 634.6 753.3 635.4 754.1 636.2 754.9 637 755.7 637.8 756.5 638.5 756.6 638.6 757.3 639.3 758.1 640 758.9 640.7 759.7 641.4 760.5 642 761.3 642.7 762.1 643.4 762.9 644 763.7 644.7 764.5 645.4 765.3 646 766.1 646.7 766.9 647.3 767.6 648 768.4 648.6 769.2 649.3 770 649.9 770.8 650.6 771.6 651.3 772.4 651.9 773.2 652.6 774 653.3 774.1 653.4 774.8 654.1 775.6 654.8 776.4 655.5 777.2 656.3 778 657 778.8 657.8 779.6 658.6 780.4 659.3 781.2 660.1 782 660.9 782.8 661.7 783.6 662.5 784.4 663.2 785.2 664 786 664.8 786.8 665.5 787.6 666.3 788.4 667 789.1 667.7 789.9 668.5 790.7 669.2 791.5 669.9 791.6 670 792.3 670.5 793.1 671.2 793.9 671.9 794.7 672.5 795.5 673.1 796.3 673.8 797.1 674.4 797.9 675 798.7 675.6 799.5 676.2 800.3 676.8 801.1 677.4 801.9 678 802.7 678.6 803.5 679.2 804.3 679.8 805.1 680.4 805.9 681.1 806.7 681.7 807.5 682.3 808.3 682.9 809.1 683.5 809.2 683.6 809.9 684.2 810.6 684.8 811.4 685.5 812.2 686.1 813 686.8 813.8 687.4 814.6 688.1 815.4 688.7 816.2 689.4 817 690.1 817.8 690.7 818.6 691.4 819.4 692 820.2 692.7 821 693.4 821.8 694 822.6 694.7 823.4 695.3 824.2 695.9 825 696.6 825.8 697.2 826.6 697.8 826.7 697.9 827.4 698.4 828.2 699 829 699.6 829.8 700.2 830.6 700.8 831.3 701.4 832.1 701.9 832.9 702.5 833.7 703.1 834.5 703.7 835.3 704.2 836.1 704.8 836.9 705.4 837.7 705.9 838.5 706.5 839.3 707 840.1 707.6 840.9 708.1 841.7 708.7 842.5 709.2 843.3 709.8 844.1 710.3 844.2 710.4 844.9 710.9 845.7 711.4 846.5 711.9 847.3 712.5 848.1 713 848.9 713.5 849.7 714 850.5 714.6 851.3 715.1 852.1 715.6 852.8 716.1 853.6 716.6 854.4 717.1 855.2 717.6 856 718.1 856.8 718.6 857.6 719.2 858.4 719.7 859.2 720.2 860 720.7 860.8 721.2 861.6 721.7 861.8 721.8 862.4 722.2 863.2 722.8 864 723.3 864.8 723.8 865.6 724.3 866.4 724.8 867.2 725.4 868 725.9 868.8 726.4 869.6 726.9 870.4 727.5 871.2 728 872 728.5 872.8 729 873.5 729.5 874.3 730 875.1 730.6 875.9 731.1 876.7 731.6 877.5 732.1 878.3 732.6 879.1 733.1 879.3 733.2 879.9 733.6 880.7 734.1 881.5 734.6 882.3 735.1 883.1 735.7 883.9 736.2 884.7 736.7 885.5 737.2 886.3 737.7 887.1 738.2 887.9 738.7 888.7 739.2 889.5 739.7 890.3 740.2 891.1 740.7 891.9 741.2 892.7 741.7 893.5 742.1 894.3 742.6 895 743.1 895.8 743.5 896.6 744 896.8 744.1 897.4 744.4 898.2 744.8 899 745.2 899.8 745.6 900.6 746 901.4 746.5 902.2 746.8 903 747.2 903.8 747.6 904.6 748 905.4 748.4 906.2 748.8 907 749.2 907.8 749.5 908.6 749.9 909.4 750.3 910.2 750.6 911 751 911.8 751.4 912.6 751.8 913.4 752.1 914.2 752.5 914.4 752.6 915 752.9 915.7 753.3 916.5 753.6 917.3 754 918.1 754.4 918.9 754.8 919.7 755.1 920.5 755.5 921.3 755.9 922.1 756.2 922.9 756.6 923.7 757 924.5 757.3 925.3 757.7 926.1 758.1 926.9 758.4 927.7 758.8 928.5 759.1 929.3 759.5 930.1 759.8 930.9 760.2 931.7 760.5 931.9 760.6 932.5 760.8 933.3 761.2 934.1 761.5 934.9 761.8 935.7 762.1 936.5 762.5 937.2 762.8 938 763.1 938.8 763.4 939.6 763.7 940.4 764 941.2 764.3 942 764.6 942.8 764.9 943.6 765.2 944.4 765.5 945.2 765.8 946 766.1 946.8 766.4 947.6 766.7 948.4 767 949.2 767.3 949.4 767.4 950 767.6 950.8 767.9 951.6 768.2 952.4 768.5 953.2 768.8 954 769.1 954.8 769.4 955.6 769.7 956.4 770 957.2 770.3 957.9 770.5 958.7 770.8 959.5 771.1 960.3 771.4 961.1 771.7 961.9 772 962.7 772.2 963.5 772.5 964.3 772.8 965.1 773.1 965.9 773.3 966.7 773.6 966.9 773.7 967.5 773.9 968.3 774.2 969.1 774.4 969.9 774.7 970.7 775 971.5 775.2 972.3 775.5 973.1 775.8 973.9 776 974.7 776.3 975.5 776.6 976.3 776.8 977.1 777.1 977.9 777.4 978.7 777.6 979.4 777.9 980.2 778.1 981 778.4 981.8 778.6 982.6 778.8 983.4 779.1 984.2 779.3 984.5 779.4 985 779.5 985.8 779.8 986.6 780 987.4 780.2 988.2 780.4 989 780.7 989.8 780.9 990.6 781.1 991.4 781.3 992.2 781.5 993 781.7 993.8 781.9 994.6 782.1 995.4 782.3 996.2 782.5 997 782.7 997.8 782.9 998.6 783.1 999.4 783.3 1000.1 783.5 1000.9 783.7 1001.7 783.9 1002 784 1002.5 784.1 1003.3 784.3 1004.1 784.5 1004.9 784.6 1005.7 784.8 1006.5 785 1007.3 785.2 1008.1 785.4 1008.9 785.6 1009.7 785.7 1010.5 785.9 1011.3 786.1 1012.1 786.3 1012.9 786.5 1013.7 786.6 1014.5 786.8 1015.3 787 1016.1 787.2 1016.9 787.3 1017.7 787.5 1018.5 787.7 1019.3 787.9 1019.5 787.9 1020.1 788.1 1020.9 788.2 1021.6 788.4 1022.4 788.6 1023.2 788.8 1024 789 1024.8 789.2 1025.6 789.4 1026.4 789.6 1027.2 789.7 1028 789.9 1028.8 790.1 1029.6 790.3 1030.4 790.5 1031.2 790.7 1032 790.8 1032.8 791 1033.6 791.2 1034.4 791.4 1035.2 791.5 1036 791.7 1036.8 791.9 1037.1 791.9 1037.6 792 1038.4 792.2 1039.2 792.3 1040 792.5 1040.8 792.7 1041.6 792.8 1042.4 793 1043.1 793.1 1043.9 793.3 1044.7 793.4 1045.5 793.5 1046.3 793.7 1047.1 793.8 1047.9 794 1048.7 794.1"/>
<path class="ln" d="M651.4 855.2 652.2 855.2 653 855.2 653.8 855.2 654.6 855.2 655.4 855.2 656.2 855.2 657 855.2 657.8 855.2 658.6 855.2 659.4 855.2 660.2 855.2 661 855.2 661.8 855.2 662.5 855.2 663.3 855.2 664.1 855.2 664.9 855.2 665.7 855.2 666.5 855.2 667.3 855.2 668.1 855.2 668.9 855.2 669.7 855.2 670.5 855.2 671.3 855.2 672.1 855.2 672.9 855.2 673.7 855.2 674.5 855.2 675.3 855.2 676.1 855.2 676.9 855.2 677.7 855.2 678.5 855.2 679.3 855.2 679.6 855.2 680.1 855.1 680.9 854.8 681.7 854.1 682.5 853.1 683.2 851.9 684 850.3 684.8 848.6 685.6 846.6 686.4 844.4 686.5 844.4 687.2 840.7 688 834.6 688.8 826.7 689.6 818.1 690.4 809.6 690.4 809.4 691.2 800.3 692 790 692.8 779 693.6 767.8 694.4 757 695.2 747 695.2 746.9 696 737.5 696.8 727.8 697.6 718.5 698.4 709.7 699.2 702.1 700 695.8 700 695.6 700.8 690.5 701.6 685.6 702.4 681.4 703.2 678 704 675.7 704 675.7 704.7 674.2 705.5 672.8 706.3 671.6 707.1 670.7 707.9 669.9 708.7 669.5 709.4 669.4 709.5 669.4 710.3 669.6 711.1 669.9 711.9 670.5 712.7 671.3 713.5 672.2 714.3 673.2 715.1 674.3 715.9 675.5 716.7 676.7 717.5 678 718.3 679.3 719.1 680.6 719.9 681.8 720.7 683 721.5 684.1 721.5 684.2 722.3 685.2 723.1 686.3 723.9 687.4 724.7 688.5 725.4 689.6 726.2 690.8 727 692 727.8 693.2 728.6 694.4 729.4 695.5 730.2 696.7 731 697.9 731.8 699.1 732.6 700.3 733.4 701.5 734.2 702.6 735 703.8 735.8 704.9 736.6 706 737.4 707.1 738.2 708.2 739 709.2 739 709.3 739.8 710.2 740.6 711.2 741.4 712.2 742.2 713.2 743 714.2 743.8 715.1 744.6 716.1 745.4 717.1 746.2 718 746.9 718.9 747.7 719.9 748.5 720.8 749.3 721.7 750.1 722.6 750.9 723.5 751.7 724.3 752.5 725.2 753.3 726 754.1 726.8 754.9 727.6 755.7 728.4 756.5 729.2 756.6 729.2 757.3 729.9 758.1 730.6 758.9 731.4 759.7 732.1 760.5 732.8 761.3 733.5 762.1 734.1 762.9 734.8 763.7 735.5 764.5 736.1 765.3 736.7 766.1 737.4 766.9 738 767.6 738.6 768.4 739.2 769.2 739.8 770 740.4 770.8 741 771.6 741.6 772.4 742.2 773.2 742.8 774 743.4 774.1 743.5 774.8 744 775.6 744.6 776.4 745.2 777.2 745.8 778 746.4 778.8 746.9 779.6 747.5 780.4 748.1 781.2 748.7 782 749.2 782.8 749.8 783.6 750.3 784.4 750.9 785.2 751.4 786 751.9 786.8 752.5 787.6 753 788.4 753.5 789.1 754 789.9 754.5 790.7 754.9 791.5 755.4 791.6 755.5 792.3 755.8 793.1 756.3 793.9 756.7 794.7 757.1 795.5 757.5 796.3 757.9 797.1 758.3 797.9 758.7 798.7 759 799.5 759.4 800.3 759.8 801.1 760.2 801.9 760.5 802.7 760.9 803.5 761.2 804.3 761.6 805.1 762 805.9 762.4 806.7 762.7 807.5 763.1 808.3 763.5 809.1 763.9 809.2 764 809.9 764.4 810.6 764.8 811.4 765.2 812.2 765.6 813 766.1 813.8 766.5 814.6 767 815.4 767.4 816.2 767.9 817 768.4 817.8 768.8 818.6 769.3 819.4 769.7 820.2 770.2 821 770.6 821.8 771.1 822.6 771.5 823.4 772 824.2 772.4 825 772.8 825.8 773.2 826.6 773.6 826.7 773.7 827.4 774 828.2 774.4 829 774.8 829.8 775.2 830.6 775.6 831.3 775.9 832.1 776.3 832.9 776.7 833.7 777.1 834.5 777.4 835.3 777.8 836.1 778.2 836.9 778.5 837.7 778.9 838.5 779.2 839.3 779.6 840.1 779.9 840.9 780.3 841.7 780.6 842.5 780.9 843.3 781.3 844.1 781.6 844.2 781.7 844.9 781.9 845.7 782.3 846.5 782.6 847.3 782.9 848.1 783.3 848.9 783.6 849.7 783.9 850.5 784.2 851.3 784.5 852.1 784.9 852.8 785.2 853.6 785.5 854.4 785.8 855.2 786.1 856 786.4 856.8 786.7 857.6 787 858.4 787.3 859.2 787.6 860 787.9 860.8 788.2 861.6 788.5 861.8 788.5 862.4 788.7 863.2 789 864 789.3 864.8 789.5 865.6 789.8 866.4 790.1 867.2 790.3 868 790.6 868.8 790.8 869.6 791.1 870.4 791.3 871.2 791.6 872 791.8 872.8 792.1 873.5 792.3 874.3 792.6 875.1 792.8 875.9 793.1 876.7 793.4 877.5 793.6 878.3 793.9 879.1 794.2 879.3 794.2 879.9 794.4 880.7 794.7 881.5 795 882.3 795.3 883.1 795.6 883.9 795.9 884.7 796.2 885.5 796.5 886.3 796.8 887.1 797.1 887.9 797.4 888.7 797.7 889.5 798 890.3 798.3 891.1 798.6 891.9 798.9 892.7 799.2 893.5 799.4 894.3 799.7 895 800 895.8 800.2 896.6 800.4 896.8 800.5 897.4 800.6 898.2 800.9 899 801.1 899.8 801.3 900.6 801.5 901.4 801.7 902.2 801.9 903 802 903.8 802.2 904.6 802.4 905.4 802.6 906.2 802.8 907 802.9 907.8 803.1 908.6 803.3 909.4 803.4 910.2 803.6 911 803.8 911.8 803.9 912.6 804.1 913.4 804.3 914.2 804.4 914.4 804.5 915 804.6 915.7 804.8 916.5 804.9 917.3 805.1 918.1 805.2 918.9 805.4 919.7 805.5 920.5 805.7 921.3 805.8 922.1 806 922.9 806.1 923.7 806.3 924.5 806.4 925.3 806.6 926.1 806.7 926.9 806.9 927.7 807 928.5 807.2 929.3 807.3 930.1 807.5 930.9 807.7 931.7 807.8 931.9 807.9 932.5 808 933.3 808.2 934.1 808.4 934.9 808.6 935.7 808.8 936.5 809 937.2 809.2 938 809.4 938.8 809.7 939.6 809.9 940.4 810.1 941.2 810.3 942 810.6 942.8 810.8 943.6 811 944.4 811.2 945.2 811.4 946 811.6 946.8 811.8 947.6 812 948.4 812.2 949.2 812.4 949.4 812.5 950 812.6 950.8 812.8 951.6 812.9 952.4 813.1 953.2 813.3 954 813.4 954.8 813.6 955.6 813.7 956.4 813.9 957.2 814.1 957.9 814.2 958.7 814.4 959.5 814.5 960.3 814.7 961.1 814.8 961.9 815 962.7 815.1 963.5 815.3 964.3 815.4 965.1 815.5 965.9 815.7 966.7 815.8 966.9 815.9 967.5 816 968.3 816.1 969.1 816.3 969.9 816.4 970.7 816.5 971.5 816.7 972.3 816.8 973.1 817 973.9 817.1 974.7 817.2 975.5 817.4 976.3 817.5 977.1 817.6 977.9 817.8 978.7 817.9 979.4 818 980.2 818.1 981 818.3 981.8 818.4 982.6 818.5 983.4 818.6 984.2 818.7 984.5 818.7 985 818.8 985.8 818.9 986.6 819 987.4 819 988.2 819.1 989 819.2 989.8 819.3 990.6 819.3 991.4 819.4 992.2 819.5 993 819.6 993.8 819.6 994.6 819.7 995.4 819.8 996.2 819.8 997 819.9 997.8 820 998.6 820.1 999.4 820.1 1000.1 820.2 1000.9 820.3 1001.7 820.4 1002 820.4 1002.5 820.5 1003.3 820.6 1004.1 820.7 1004.9 820.9 1005.7 821 1006.5 821.1 1007.3 821.3 1008.1 821.4 1008.9 821.6 1009.7 821.7 1010.5 821.9 1011.3 822 1012.1 822.2 1012.9 822.3 1013.7 822.5 1014.5 822.6 1015.3 822.7 1016.1 822.9 1016.9 823 1017.7 823.1 1018.5 823.2 1019.3 823.3 1019.5 823.3 1020.1 823.3 1020.9 823.4 1021.6 823.5 1022.4 823.5 1023.2 823.6 1024 823.6 1024.8 823.7 1025.6 823.7 1026.4 823.8 1027.2 823.8 1028 823.8 1028.8 823.9 1029.6 823.9 1030.4 824 1031.2 824 1032 824.1 1032.8 824.1 1033.6 824.2 1034.4 824.2 1035.2 824.3 1036 824.3 1036.8 824.4 1037.1 824.4 1037.6 824.5 1038.4 824.5 1039.2 824.6 1040 824.7 1040.8 824.8 1041.6 824.9 1042.4 825 1043.1 825.1 1043.9 825.2 1044.7 825.4 1045.5 825.5 1046.3 825.6 1047.1 825.7 1047.9 825.8 1048.7 826"/>
<path class="ln" d="M651.4 855.2 652.2 855.2 653 855.2 653.8 855.2 654.6 855.2 655.4 855.2 656.2 855.2 657 855.2 657.8 855.2 658.6 855.2 659.4 855.2 660.2 855.2 661 855.2 661.8 855.2 662.5 855.2 663.3 855.2 664.1 855.2 664.9 855.2 665.7 855.2 666.5 855.2 667.3 855.2 668.1 855.2 668.9 855.2 669.7 855.2 670.5 855.2 671.3 855.2 672.1 855.2 672.9 855.2 673.7 855.2 674.5 855.2 675.3 855.2 676.1 855.2 676.9 855.2 677.7 855.2 678.5 855.2 679.3 855.2 680.1 855.2 680.9 855.2 681.7 855.2 682 855.2 682.5 855.2 683.2 855 684 854.6 684.8 854.1 685.6 853.4 686.4 852.6 687.2 851.6 688 850.6 688 850.6 688.8 848.7 689.6 845.6 690.4 841.5 691.2 836.8 692 831.7 692.8 826.7 692.8 826.7 693.6 821.1 694.4 814.5 695.2 807.4 696 800.2 696.8 793.2 697.6 786.9 697.6 786.8 698.4 781 699.2 774.8 700 768.6 700.8 762.6 701.6 757.2 702.4 752.4 703.2 748.5 704 745.9 704 745.8 704.7 743.9 705.5 742.1 706.3 740.5 707.1 739 707.9 737.7 708.7 736.7 709.5 736 710.3 735.6 710.8 735.5 711.1 735.5 711.9 735.6 712.7 735.9 713.5 736.3 714.3 736.7 715.1 737.3 715.9 737.9 716.7 738.6 717.5 739.3 718.3 740 719.1 740.7 719.9 741.5 720.7 742.2 721.5 742.9 721.5 742.9 722.3 743.5 723.1 744.2 723.9 745 724.7 745.8 725.4 746.6 726.2 747.4 727 748.2 727.8 749.1 728.6 750 729.4 750.9 730.2 751.8 731 752.7 731.8 753.6 732.6 754.5 733.4 755.3 734.2 756.2 735 757.1 735.8 757.9 736.6 758.8 737.4 759.6 738.2 760.3 739 761.1 739 761.2 739.8 761.8 740.6 762.5 741.4 763.3 742.2 764 743 764.7 743.8 765.4 744.6 766.1 745.4 766.8 746.2 767.4 746.9 768.1 747.7 768.8 748.5 769.4 749.3 770.1 750.1 770.7 750.9 771.3 751.7 771.9 752.5 772.5 753.3 773.1 754.1 773.7 754.9 774.3 755.7 774.8 756.5 775.3 756.6 775.4 757.3 775.9 758.1 776.4 758.9 776.9 759.7 777.4 760.5 777.9 761.3 778.4 762.1 778.8 762.9 779.3 763.7 779.7 764.5 780.2 765.3 780.6 766.1 781.1 766.9 781.5 767.6 781.9 768.4 782.3 769.2 782.7 770 783.1 770.8 783.5 771.6 783.9 772.4 784.3 773.2 784.7 774 785 774.1 785.1 774.8 785.4 775.6 785.8 776.4 786.1 777.2 786.4 778 786.8 778.8 787.1 779.6 787.4 780.4 787.7 781.2 788 782 788.4 782.8 788.7 783.6 789 784.4 789.3 785.2 789.5 786 789.8 786.8 790.1 787.6 790.4 788.4 790.7 789.1 791 789.9 791.3 790.7 791.6 791.5 791.9 791.6 791.9 792.3 792.2 793.1 792.5 793.9 792.8 794.7 793.1 795.5 793.4 796.3 793.7 797.1 793.9 797.9 794.2 798.7 794.5 799.5 794.8 800.3 795.1 801.1 795.4 801.9 795.7 802.7 795.9 803.5 796.2 804.3 796.5 805.1 796.8 805.9 797.1 806.7 797.3 807.5 797.6 808.3 797.9 809.1 798.2 809.2 798.2 809.9 798.4 810.6 798.7 811.4 799 812.2 799.2 813 799.5 813.8 799.8 814.6 800.1 815.4 800.3 816.2 800.6 817 800.9 817.8 801.1 818.6 801.4 819.4 801.6 820.2 801.9 821 802.2 821.8 802.4 822.6 802.7 823.4 802.9 824.2 803.2 825 803.4 825.8 803.6 826.6 803.9 826.7 803.9 827.4 804.1 828.2 804.3 829 804.5 829.8 804.8 830.6 805 831.3 805.2 832.1 805.4 832.9 805.6 833.7 805.8 834.5 806 835.3 806.2 836.1 806.5 836.9 806.7 837.7 806.9 838.5 807.1 839.3 807.3 840.1 807.5 840.9 807.6 841.7 807.8 842.5 808 843.3 808.2 844.1 808.4 844.2 808.5 844.9 808.6 845.7 808.8 846.5 809 847.3 809.2 848.1 809.4 848.9 809.6 849.7 809.7 850.5 809.9 851.3 810.1 852.1 810.3 852.8 810.5 853.6 810.6 854.4 810.8 855.2 811 856 811.2 856.8 811.3 857.6 811.5 858.4 811.7 859.2 811.9 860 812.1 860.8 812.2 861.6 812.4 861.8 812.5 862.4 812.6 863.2 812.8 864 813 864.8 813.2 865.6 813.4 866.4 813.6 867.2 813.8 868 814 868.8 814.2 869.6 814.3 870.4 814.5 871.2 814.7 872 814.9 872.8 815.1 873.5 815.3 874.3 815.5 875.1 815.6 875.9 815.8 876.7 816 877.5 816.1 878.3 816.3 879.1 816.4 879.3 816.4 879.9 816.5 880.7 816.7 881.5 816.8 882.3 816.9 883.1 817 883.9 817.1 884.7 817.2 885.5 817.3 886.3 817.4 887.1 817.5 887.9 817.6 888.7 817.7 889.5 817.8 890.3 817.9 891.1 817.9 891.9 818 892.7 818.1 893.5 818.2 894.3 818.3 895 818.5 895.8 818.6 896.6 818.7 896.8 818.7 897.4 818.8 898.2 819 899 819.1 899.8 819.2 900.6 819.4 901.4 819.6 902.2 819.7 903 819.9 903.8 820 904.6 820.2 905.4 820.4 906.2 820.6 907 820.7 907.8 820.9 908.6 821.1 909.4 821.2 910.2 821.4 911 821.5 911.8 821.7 912.6 821.8 913.4 822 914.2 822.1 914.4 822.1 915 822.2 915.7 822.4 916.5 822.5 917.3 822.6 918.1 822.7 918.9 822.8 919.7 822.9 920.5 823 921.3 823.1 922.1 823.2 922.9 823.3 923.7 823.4 924.5 823.5 925.3 823.6 926.1 823.7 926.9 823.8 927.7 823.9 928.5 824 929.3 824.1 930.1 824.2 930.9 824.3 931.7 824.4 931.9 824.4 932.5 824.5 933.3 824.6 934.1 824.8 934.9 824.9 935.7 825 936.5 825.2 937.2 825.3 938 825.4 938.8 825.6 939.6 825.7 940.4 825.9 941.2 826 942 826.1 942.8 826.3 943.6 826.4 944.4 826.5 945.2 826.7 946 826.8 946.8 826.9 947.6 827 948.4 827.1 949.2 827.2 949.4 827.3 950 827.3 950.8 827.4 951.6 827.5 952.4 827.6 953.2 827.7 954 827.8 954.8 827.8 955.6 827.9 956.4 828 957.2 828.1 957.9 828.1 958.7 828.2 959.5 828.3 960.3 828.3 961.1 828.4 961.9 828.5 962.7 828.6 963.5 828.6 964.3 828.7 965.1 828.8 965.9 828.9 966.7 829 966.9 829 967.5 829 968.3 829.1 969.1 829.2 969.9 829.3 970.7 829.4 971.5 829.5 972.3 829.6 973.1 829.8 973.9 829.9 974.7 830 975.5 830.1 976.3 830.2 977.1 830.3 977.9 830.4 978.7 830.5 979.4 830.6 980.2 830.7 981 830.8 981.8 830.9 982.6 831 983.4 831.1 984.2 831.2 984.5 831.3 985 831.3 985.8 831.4 986.6 831.5 987.4 831.6 988.2 831.7 989 831.8 989.8 831.8 990.6 831.9 991.4 832 992.2 832.1 993 832.2 993.8 832.2 994.6 832.3 995.4 832.4 996.2 832.5 997 832.5 997.8 832.6 998.6 832.7 999.4 832.8 1000.1 832.8 1000.9 832.9 1001.7 832.9 1002 833 1002.5 833 1003.3 833.1 1004.1 833.1 1004.9 833.2 1005.7 833.2 1006.5 833.3 1007.3 833.3 1008.1 833.4 1008.9 833.4 1009.7 833.5 1010.5 833.5 1011.3 833.6 1012.1 833.6 1012.9 833.7 1013.7 833.7 1014.5 833.8 1015.3 833.8 1016.1 833.9 1016.9 833.9 1017.7 834 1018.5 834 1019.3 834.1 1019.5 834.1 1020.1 834.1 1020.9 834.2 1021.6 834.3 1022.4 834.3 1023.2 834.4 1024 834.5 1024.8 834.5 1025.6 834.6 1026.4 834.7 1027.2 834.7 1028 834.8 1028.8 834.9 1029.6 835 1030.4 835 1031.2 835.1 1032 835.2 1032.8 835.2 1033.6 835.3 1034.4 835.3 1035.2 835.4 1036 835.5 1036.8 835.5 1037.1 835.5 1037.6 835.6 1038.4 835.6 1039.2 835.7 1040 835.7 1040.8 835.8 1041.6 835.8 1042.4 835.9 1043.1 835.9 1043.9 836 1044.7 836 1045.5 836 1046.3 836.1 1047.1 836.1 1047.9 836.2 1048.7 836.2"/>
<path class="ln" d="M651.4 855.2 652.2 855.2 653 855.2 653.8 855.2 654.6 855.2 655.4 855.2 656.2 855.2 657 855.2 657.8 855.2 658.6 855.2 659.4 855.2 660.2 855.2 661 855.2 661.8 855.2 662.5 855.2 663.3 855.2 664.1 855.2 664.9 855.2 665.7 855.2 666.5 855.2 667.3 855.2 668.1 855.2 668.9 855.2 669.7 855.2 670.5 855.2 671.3 855.2 672.1 855.2 672.9 855.2 673.7 855.2 674.5 855.2 675.3 855.2 676.1 855.2 676.9 855.2 677.7 855.2 678.5 855.2 679.3 855.2 680.1 855.2 680.9 855.2 681.7 855.2 682.5 855.2 683.2 855.2 684 855.2 684.8 855.2 685.6 855.2 685.6 855.2 686.4 855.2 687.2 855.1 688 854.9 688.8 854.7 689.6 854.5 690.4 854.2 691.2 853.9 692 853.5 692.1 853.5 692.8 852.7 693.6 851 694.4 848.6 695.2 845.7 696 842.6 696.8 839.4 697.6 836.5 698.3 834.1 698.4 833.9 699.2 831.6 700 829.2 700.8 826.8 701.6 824.5 702.4 822.3 703.2 820.4 704 818.8 704 818.7 704.7 817.4 705.5 816.1 706.3 814.9 707.1 813.7 707.9 812.7 708.7 811.7 709.5 810.8 710.3 810 711.1 809.2 711.9 808.5 712 808.5 712.7 807.9 713.5 807.2 714.3 806.6 715.1 806.1 715.9 805.8 716.7 805.6 716.8 805.6 717.5 805.6 718.3 805.6 719.1 805.6 719.9 805.6 720.7 805.6 721.5 805.6 721.5 805.6 722.3 805.6 723.1 805.7 723.9 805.8 724.7 805.9 725.4 806.1 726.2 806.3 727 806.6 727.8 806.9 728.6 807.1 729.4 807.5 730.2 807.8 731 808.1 731.8 808.5 732.6 808.8 733.4 809.2 734.2 809.5 735 809.9 735.8 810.2 736.6 810.5 737.4 810.8 738.2 811.1 739 811.4 739 811.4 739.8 811.7 740.6 811.9 741.4 812.2 742.2 812.5 743 812.8 743.8 813 744.6 813.3 745.4 813.6 746.2 813.9 746.9 814.2 747.7 814.4 748.5 814.7 749.3 815 750.1 815.2 750.9 815.5 751.7 815.8 752.5 816 753.3 816.2 754.1 816.5 754.9 816.7 755.7 816.9 756.5 817.1 756.6 817.1 757.3 817.3 758.1 817.5 758.9 817.7 759.7 817.8 760.5 818 761.3 818.1 762.1 818.3 762.9 818.5 763.7 818.6 764.5 818.7 765.3 818.9 766.1 819 766.9 819.2 767.6 819.3 768.4 819.5 769.2 819.6 770 819.7 770.8 819.9 771.6 820 772.4 820.2 773.2 820.4 774 820.5 774.1 820.5 774.8 820.7 775.6 820.9 776.4 821.1 777.2 821.3 778 821.4 778.8 821.7 779.6 821.9 780.4 822.1 781.2 822.3 782 822.5 782.8 822.7 783.6 822.9 784.4 823.1 785.2 823.3 786 823.5 786.8 823.6 787.6 823.8 788.4 824 789.1 824.1 789.9 824.3 790.7 824.4 791.5 824.5 791.6 824.5 792.3 824.6 793.1 824.7 793.9 824.8 794.7 824.9 795.5 825 796.3 825.1 797.1 825.2 797.9 825.2 798.7 825.3 799.5 825.4 800.3 825.4 801.1 825.5 801.9 825.6 802.7 825.6 803.5 825.7 804.3 825.8 805.1 825.8 805.9 825.9 806.7 826 807.5 826.1 808.3 826.1 809.1 826.2 809.2 826.2 809.9 826.3 810.6 826.4 811.4 826.5 812.2 826.6 813 826.7 813.8 826.8 814.6 826.9 815.4 827 816.2 827.1 817 827.3 817.8 827.4 818.6 827.5 819.4 827.6 820.2 827.7 821 827.8 821.8 827.9 822.6 828 823.4 828.1 824.2 828.2 825 828.3 825.8 828.4 826.6 828.5 826.7 828.5 827.4 828.6 828.2 828.7 829 828.8 829.8 828.9 830.6 828.9 831.3 829 832.1 829.1 832.9 829.2 833.7 829.2 834.5 829.3 835.3 829.4 836.1 829.5 836.9 829.5 837.7 829.6 838.5 829.7 839.3 829.8 840.1 829.8 840.9 829.9 841.7 830 842.5 830.1 843.3 830.1 844.1 830.2 844.2 830.2 844.9 830.3 845.7 830.4 846.5 830.5 847.3 830.5 848.1 830.6 848.9 830.7 849.7 830.8 850.5 830.8 851.3 830.9 852.1 831 852.8 831.1 853.6 831.2 854.4 831.2 855.2 831.3 856 831.4 856.8 831.5 857.6 831.5 858.4 831.6 859.2 831.7 860 831.8 860.8 831.9 861.6 831.9 861.8 831.9 862.4 832 863.2 832.1 864 832.2 864.8 832.2 865.6 832.3 866.4 832.4 867.2 832.5 868 832.6 868.8 832.7 869.6 832.7 870.4 832.8 871.2 832.9 872 833 872.8 833.1 873.5 833.1 874.3 833.2 875.1 833.3 875.9 833.4 876.7 833.4 877.5 833.5 878.3 833.6 879.1 833.6 879.3 833.7 879.9 833.7 880.7 833.8 881.5 833.8 882.3 833.9 883.1 833.9 883.9 834 884.7 834 885.5 834.1 886.3 834.1 887.1 834.2 887.9 834.2 888.7 834.3 889.5 834.3 890.3 834.4 891.1 834.4 891.9 834.5 892.7 834.5 893.5 834.6 894.3 834.6 895 834.7 895.8 834.7 896.6 834.8 896.8 834.8 897.4 834.8 898.2 834.9 899 834.9 899.8 835 900.6 835 901.4 835.1 902.2 835.1 903 835.2 903.8 835.2 904.6 835.3 905.4 835.4 906.2 835.4 907 835.5 907.8 835.5 908.6 835.6 909.4 835.6 910.2 835.7 911 835.7 911.8 835.8 912.6 835.8 913.4 835.9 914.2 835.9 914.4 835.9 915 836 915.7 836 916.5 836.1 917.3 836.1 918.1 836.2 918.9 836.2 919.7 836.3 920.5 836.3 921.3 836.4 922.1 836.4 922.9 836.5 923.7 836.5 924.5 836.6 925.3 836.6 926.1 836.7 926.9 836.7 927.7 836.8 928.5 836.9 929.3 836.9 930.1 837 930.9 837 931.7 837.1 931.9 837.1 932.5 837.1 933.3 837.2 934.1 837.2 934.9 837.3 935.7 837.3 936.5 837.4 937.2 837.4 938 837.5 938.8 837.5 939.6 837.6 940.4 837.6 941.2 837.7 942 837.7 942.8 837.8 943.6 837.8 944.4 837.9 945.2 837.9 946 838 946.8 838 947.6 838.1 948.4 838.1 949.2 838.2 949.4 838.2 950 838.3 950.8 838.3 951.6 838.4 952.4 838.4 953.2 838.5 954 838.5 954.8 838.6 955.6 838.6 956.4 838.7 957.2 838.7 957.9 838.8 958.7 838.8 959.5 838.9 960.3 838.9 961.1 839 961.9 839 962.7 839.1 963.5 839.1 964.3 839.2 965.1 839.2 965.9 839.3 966.7 839.3 966.9 839.4 967.5 839.4 968.3 839.4 969.1 839.5 969.9 839.5 970.7 839.6 971.5 839.6 972.3 839.7 973.1 839.8 973.9 839.8 974.7 839.9 975.5 839.9 976.3 840 977.1 840 977.9 840.1 978.7 840.1 979.4 840.2 980.2 840.2 981 840.3 981.8 840.3 982.6 840.4 983.4 840.4 984.2 840.5 984.5 840.5 985 840.5 985.8 840.6 986.6 840.6 987.4 840.7 988.2 840.7 989 840.8 989.8 840.8 990.6 840.9 991.4 840.9 992.2 841 993 841 993.8 841.1 994.6 841.2 995.4 841.2 996.2 841.3 997 841.3 997.8 841.4 998.6 841.4 999.4 841.5 1000.1 841.5 1000.9 841.6 1001.7 841.6 1002 841.6 1002.5 841.7 1003.3 841.7 1004.1 841.8 1004.9 841.8 1005.7 841.9 1006.5 841.9 1007.3 842 1008.1 842 1008.9 842.1 1009.7 842.1 1010.5 842.2 1011.3 842.2 1012.1 842.3 1012.9 842.3 1013.7 842.4 1014.5 842.4 1015.3 842.5 1016.1 842.5 1016.9 842.6 1017.7 842.7 1018.5 842.7 1019.3 842.8 1019.5 842.8 1020.1 842.8 1020.9 842.9 1021.6 842.9 1022.4 843 1023.2 843 1024 843.1 1024.8 843.1 1025.6 843.2 1026.4 843.3 1027.2 843.3 1028 843.4 1028.8 843.4 1029.6 843.5 1030.4 843.5 1031.2 843.6 1032 843.6 1032.8 843.7 1033.6 843.7 1034.4 843.8 1035.2 843.8 1036 843.9 1036.8 843.9 1037.1 843.9 1037.6 843.9 1038.4 844 1039.2 844 1040 844 1040.8 844.1 1041.6 844.1 1042.4 844.1 1043.1 844.2 1043.9 844.2 1044.7 844.2 1045.5 844.3 1046.3 844.3 1047.1 844.3 1047.9 844.3 1048.7 844.4"/>
<path class="ln" d="M651.4 855.2 652.2 855.2 653 855.2 653.8 855.2 654.6 855.2 655.4 855.2 656.2 855.2 657 855.2 657.8 855.2 658.6 855.2 659.4 855.2 660.2 855.2 661 855.2 661.8 855.2 662.5 855.2 663.3 855.2 664.1 855.2 664.9 855.2 665.7 855.2 666.5 855.2 667.3 855.2 668.1 855.2 668.9 855.2 669.7 855.2 670.5 855.2 671.3 855.2 672.1 855.2 672.9 855.2 673.7 855.2 674.5 855.2 675.3 855.2 676.1 855.2 676.9 855.2 677.7 855.2 678.5 855.2 679.3 855.2 680.1 855.2 680.9 855.2 681.7 855.2 682.5 855.2 683.2 855.2 684 855.2 684.8 855.2 685.6 855.2 685.6 855.2 686.4 855.2 687.2 855.1 688 855 688.8 854.8 689.6 854.6 690.4 854.4 691.2 854.1 692 853.8 692.8 853.5 692.8 853.5 693.6 852.7 694.4 851.4 695.2 849.5 696 847.3 696.8 845 697.6 842.8 698.4 840.7 698.8 839.8 699.2 839 700 837.4 700.8 835.7 701.6 834.1 702.4 832.6 703.2 831.3 704 830.2 704 830.1 704.7 829.2 705.5 828.3 706.3 827.4 707.1 826.6 707.9 825.8 708.7 825.1 709.5 824.4 710.3 823.8 711.1 823.3 711.9 822.8 712 822.7 712.7 822.3 713.5 821.7 714.3 821.3 715.1 820.8 715.9 820.6 716.7 820.4 716.8 820.4 717.5 820.4 718.3 820.4 719.1 820.4 719.9 820.4 720.7 820.4 721.5 820.4 721.5 820.4 722.3 820.4 723.1 820.5 723.9 820.6 724.7 820.7 725.4 820.8 726.2 821 727 821.2 727.8 821.4 728.6 821.6 729.4 821.8 730.2 822 731 822.3 731.8 822.5 732.6 822.8 733.4 823 734.2 823.3 735 823.5 735.8 823.7 736.6 824 737.4 824.2 738.2 824.4 739 824.5 739 824.5 739.8 824.7 740.6 824.8 741.4 825 742.2 825.1 743 825.2 743.8 825.4 744.6 825.5 745.4 825.6 746.2 825.8 746.9 825.9 747.7 826 748.5 826.1 749.3 826.3 750.1 826.4 750.9 826.5 751.7 826.6 752.5 826.7 753.3 826.9 754.1 827 754.9 827.1 755.7 827.2 756.5 827.4 756.6 827.4 757.3 827.5 758.1 827.6 758.9 827.8 759.7 827.9 760.5 828 761.3 828.2 762.1 828.3 762.9 828.4 763.7 828.6 764.5 828.7 765.3 828.8 766.1 829 766.9 829.1 767.6 829.2 768.4 829.4 769.2 829.5 770 829.6 770.8 829.7 771.6 829.9 772.4 830 773.2 830.1 774 830.2 774.1 830.2 774.8 830.3 775.6 830.5 776.4 830.6 777.2 830.7 778 830.8 778.8 831 779.6 831.1 780.4 831.2 781.2 831.3 782 831.4 782.8 831.6 783.6 831.7 784.4 831.8 785.2 831.9 786 832 786.8 832.1 787.6 832.2 788.4 832.3 789.1 832.3 789.9 832.4 790.7 832.5 791.5 832.5 791.6 832.5 792.3 832.5 793.1 832.6 793.9 832.6 794.7 832.6 795.5 832.7 796.3 832.7 797.1 832.7 797.9 832.7 798.7 832.8 799.5 832.8 800.3 832.8 801.1 832.8 801.9 832.8 802.7 832.9 803.5 832.9 804.3 832.9 805.1 832.9 805.9 833 806.7 833 807.5 833 808.3 833 809.1 833.1 809.2 833.1 809.9 833.1 810.6 833.2 811.4 833.2 812.2 833.3 813 833.4 813.8 833.4 814.6 833.5 815.4 833.6 816.2 833.7 817 833.8 817.8 833.9 818.6 834 819.4 834 820.2 834.1 821 834.2 821.8 834.3 822.6 834.4 823.4 834.5 824.2 834.6 825 834.6 825.8 834.7 826.6 834.8 826.7 834.8 827.4 834.8 828.2 834.9 829 835 829.8 835 830.6 835.1 831.3 835.1 832.1 835.2 832.9 835.2 833.7 835.3 834.5 835.3 835.3 835.4 836.1 835.4 836.9 835.5 837.7 835.5 838.5 835.6 839.3 835.6 840.1 835.7 840.9 835.7 841.7 835.8 842.5 835.8 843.3 835.9 844.1 835.9 844.2 835.9 844.9 836 845.7 836 846.5 836.1 847.3 836.1 848.1 836.2 848.9 836.2 849.7 836.3 850.5 836.3 851.3 836.4 852.1 836.4 852.8 836.5 853.6 836.5 854.4 836.6 855.2 836.6 856 836.7 856.8 836.8 857.6 836.8 858.4 836.9 859.2 836.9 860 837 860.8 837 861.6 837.1 861.8 837.1 862.4 837.1 863.2 837.2 864 837.2 864.8 837.3 865.6 837.3 866.4 837.4 867.2 837.4 868 837.5 868.8 837.5 869.6 837.6 870.4 837.6 871.2 837.7 872 837.7 872.8 837.8 873.5 837.8 874.3 837.9 875.1 837.9 875.9 838 876.7 838 877.5 838.1 878.3 838.2 879.1 838.2 879.3 838.2 879.9 838.3 880.7 838.3 881.5 838.4 882.3 838.4 883.1 838.5 883.9 838.5 884.7 838.6 885.5 838.6 886.3 838.7 887.1 838.7 887.9 838.8 888.7 838.8 889.5 838.9 890.3 839 891.1 839 891.9 839.1 892.7 839.1 893.5 839.2 894.3 839.2 895 839.3 895.8 839.3 896.6 839.3 896.8 839.4 897.4 839.4 898.2 839.4 899 839.5 899.8 839.5 900.6 839.6 901.4 839.6 902.2 839.6 903 839.7 903.8 839.7 904.6 839.8 905.4 839.8 906.2 839.8 907 839.9 907.8 839.9 908.6 839.9 909.4 840 910.2 840 911 840 911.8 840.1 912.6 840.1 913.4 840.2 914.2 840.2 914.4 840.2 915 840.2 915.7 840.3 916.5 840.3 917.3 840.4 918.1 840.4 918.9 840.4 919.7 840.5 920.5 840.5 921.3 840.5 922.1 840.6 922.9 840.6 923.7 840.7 924.5 840.7 925.3 840.7 926.1 840.8 926.9 840.8 927.7 840.9 928.5 840.9 929.3 840.9 930.1 841 930.9 841 931.7 841.1 931.9 841.1 932.5 841.1 933.3 841.1 934.1 841.2 934.9 841.2 935.7 841.2 936.5 841.3 937.2 841.3 938 841.4 938.8 841.4 939.6 841.4 940.4 841.5 941.2 841.5 942 841.6 942.8 841.6 943.6 841.6 944.4 841.7 945.2 841.7 946 841.8 946.8 841.8 947.6 841.8 948.4 841.9 949.2 841.9 949.4 841.9 950 841.9 950.8 842 951.6 842 952.4 842.1 953.2 842.1 954 842.1 954.8 842.2 955.6 842.2 956.4 842.3 957.2 842.3 957.9 842.3 958.7 842.4 959.5 842.4 960.3 842.5 961.1 842.5 961.9 842.5 962.7 842.6 963.5 842.6 964.3 842.6 965.1 842.7 965.9 842.7 966.7 842.8 966.9 842.8 967.5 842.8 968.3 842.8 969.1 842.9 969.9 842.9 970.7 843 971.5 843 972.3 843 973.1 843.1 973.9 843.1 974.7 843.2 975.5 843.2 976.3 843.2 977.1 843.3 977.9 843.3 978.7 843.3 979.4 843.4 980.2 843.4 981 843.5 981.8 843.5 982.6 843.5 983.4 843.6 984.2 843.6 984.5 843.6 985 843.7 985.8 843.7 986.6 843.7 987.4 843.8 988.2 843.8 989 843.9 989.8 843.9 990.6 843.9 991.4 844 992.2 844 993 844 993.8 844.1 994.6 844.1 995.4 844.2 996.2 844.2 997 844.2 997.8 844.3 998.6 844.3 999.4 844.4 1000.1 844.4 1000.9 844.4 1001.7 844.5 1002 844.5 1002.5 844.5 1003.3 844.5 1004.1 844.6 1004.9 844.6 1005.7 844.7 1006.5 844.7 1007.3 844.7 1008.1 844.8 1008.9 844.8 1009.7 844.9 1010.5 844.9 1011.3 844.9 1012.1 845 1012.9 845 1013.7 845.1 1014.5 845.1 1015.3 845.1 1016.1 845.2 1016.9 845.2 1017.7 845.2 1018.5 845.3 1019.3 845.3 1019.5 845.3 1020.1 845.4 1020.9 845.4 1021.6 845.4 1022.4 845.5 1023.2 845.5 1024 845.6 1024.8 845.6 1025.6 845.6 1026.4 845.7 1027.2 845.7 1028 845.8 1028.8 845.8 1029.6 845.8 1030.4 845.9 1031.2 845.9 1032 846 1032.8 846 1033.6 846 1034.4 846.1 1035.2 846.1 1036 846.1 1036.8 846.2 1037.1 846.2 1037.6 846.2 1038.4 846.2 1039.2 846.3 1040 846.3 1040.8 846.3 1041.6 846.4 1042.4 846.4 1043.1 846.4 1043.9 846.5 1044.7 846.5 1045.5 846.5 1046.3 846.6 1047.1 846.6 1047.9 846.6 1048.7 846.6"/>
<path class="ln" d="M654.3 855.2 655.1 855.2 655.9 855.2 656.7 855.2 657.5 855.2 658.3 855.2 659 855.2 659.8 855.2 660.6 855.2 661.4 855.2 662.2 855.2 663 855.2 663.8 855.2 664.6 855.2 665.4 855.2 666.2 855.2 666.9 855.2 667.7 855.2 668.5 855.2 669.3 855.2 670.1 855.2 670.9 855.2 671.7 855.2 672.5 855.2 673.3 855.2 674.1 855.2 674.9 855.2 675.6 855.2 676.4 855.2 677.2 855.2 678 855.2 678.8 855.2 679.6 855.2 680.4 855.2 681.2 855.2 682 855.2 682.8 855.2 683.5 855.2 684.3 855.2 685.1 855.2 685.9 855.2 686.7 855.2 687.5 855.2 688.3 855.2 689.1 855.2 689.9 855.2 690.7 855.2 691.4 855.2 692.2 855.2 693 855.2 693.8 855.2 694.6 855.2 695.4 855.2 696.2 855.2 697 855.2 697.8 855.2 698.6 855.2 699.4 855.2 700.1 855.2 700.9 855.2 701.7 855.2 702.5 855.2 703.3 855.2 704.1 855.2 704.9 855.2 705.7 855.2 706.5 855.2 707.3 855.2 708 855.2 708.8 855.2 709.6 855.2 710.4 855.2 711.2 855.2 712 855.2 712.8 855.2 713.6 855.2 714.4 855.2 715.2 855.2 716 855.2 716.7 855.2 717.5 855.2 718.3 855.2 719.1 855.2 719.9 855.2 720.7 855.2 721.5 855.2 722.3 855.2 723.1 855.2 723.9 855.2 724.6 855.2 725.4 855.2 726.2 855.2 727 855.2 727.8 855.2 728.6 855.2 729.4 855.2 730.2 855.2 731 855.2 731.8 855.2 732.6 855.2 733.3 855.2 734.1 855.2 734.9 855.2 735.7 855.2 736.5 855.2 737.3 855.2 738.1 855.2 738.9 855.2 739.7 855.2 740.5 855.2 741.2 855.2 742 855.2 742.8 855.2 743.6 855.2 744.4 855.2 745.2 855.2 746 855.2 746.8 855.2 747.6 855.2 748.4 855.2 749.2 855.2 749.9 855.2 750.7 855.2 751.5 855.2 752.3 855.2 753.1 855.2 753.9 855.2 754.7 855.2 755.5 855.2 756.3 855.2 757.1 855.2 757.8 855.2 758.6 855.2 759.4 855.2 760.2 855.2 761 855.2 761.8 855.2 762.6 855.2 763.4 855.2 764.2 855.2 765 855.2 765.7 855.2 766.5 855.2 767.2 855.2 767.3 855.2 768.1 855.2 768.9 855.1 769.7 855 770.5 854.8 771.3 854.6 772.1 854.4 772.9 854.1 773.7 853.8 774.4 853.5 775.2 853.1 775.6 852.9 776 852.6 776.8 851.8 777.6 850.5 778.4 848.8 779.2 846.7 779.2 846.7 780 842.5 780.8 835.6 781.6 827.2 781.6 826.7 782.3 816.5 783.1 802.9 783.9 788.1 784 786.8 784.7 772.6 785.5 755.6 786.3 737.8 787.1 720.3 787.9 704 788.1 700.2 788.7 688.8 789.5 673.7 790.3 659.4 791 646.8 791.7 638.6 791.8 636.9 792.6 628.1 793.4 620.1 794.2 613.2 795 607.8 795.8 604.4 795.8 604.3 796.6 602.1 797.4 600.2 798.2 598.5 798.9 597.1 799.7 595.8 800.5 594.7 801.3 593.8 802.1 592.9 802.9 592.1 803.2 591.9 803.7 591.4 804.5 590.7 805.3 590 806.1 589.3 806.9 588.7 807.6 588.2 808.4 587.8 809.2 587.5 810 587.3 810.4 587.3 810.8 587.3 811.6 587.5 812.4 587.7 813.2 588.1 814 588.5 814.8 589 815.5 589.4 815.9 589.6 816.3 589.8 817.1 590.2 817.9 590.7 818.7 591.1 819.5 591.6 820.3 592.2 821.1 592.7 821.9 593.3 822.7 593.8 823.5 594.4 824.2 595 825 595.6 825.8 596.3 826.6 596.9 827.4 597.5 828.2 598.2 829 598.8 829.8 599.4 830.6 600.1 831.4 600.7 832.1 601.4 832.9 602 833.7 602.6 834.5 603.2 835.3 603.8 836.1 604.4 836.1 604.4 836.9 605 837.7 605.6 838.5 606.2 839.3 606.8 840 607.4 840.8 608 841.6 608.6 842.4 609.2 843.2 609.7 844 610.3 844.8 610.9 845.6 611.5 846.4 612.1 847.2 612.7 848 613.3 848.7 613.9 849.5 614.5 850.3 615.1 851.1 615.6 851.9 616.2 852.7 616.8 853.5 617.3 854.3 617.9 855.1 618.4 855.9 619 856.2 619.2 856.6 619.5 857.4 620 858.2 620.5 859 621.1 859.8 621.6 860.6 622.1 861.4 622.6 862.2 623.1 863 623.6 863.8 624.1 864.6 624.6 865.3 625.1 866.1 625.5 866.9 626 867.7 626.5 868.5 627 869.3 627.5 870.1 627.9 870.9 628.4 871.7 628.9 872.5 629.3 873.2 629.8 874 630.3 874.8 630.7 875.6 631.2 876.4 631.6 876.6 631.8 877.2 632.1 878 632.5 878.8 633 879.6 633.4 880.4 633.9 881.2 634.3 881.9 634.8 882.7 635.2 883.5 635.6 884.3 636.1 885.1 636.5 885.9 636.9 886.7 637.4 887.5 637.8 888.3 638.2 889.1 638.6 889.8 639 890.6 639.5 891.4 639.9 892.2 640.3 893 640.7 893.8 641.1 894.6 641.5 895.4 641.9 896.2 642.3 896.8 642.6 897 642.7 897.7 643.1 898.5 643.4 899.3 643.8 900.1 644.2 900.9 644.6 901.7 645 902.5 645.3 903.3 645.7 904.1 646.1 904.9 646.4 905.7 646.8 906.4 647.2 907.2 647.5 908 647.9 908.8 648.2 909.6 648.6 910.4 648.9 911.2 649.3 912 649.6 912.8 650 913.6 650.3 914.3 650.6 915.1 651 915.9 651.3 916.7 651.6 917 651.7 917.5 651.9 918.3 652.2 919.1 652.6 919.9 652.9 920.7 653.2 921.5 653.5 922.3 653.8 923 654.1 923.8 654.4 924.6 654.7 925.4 655 926.2 655.2 927 655.5 927.8 655.8 928.6 656.1 929.4 656.4 930.2 656.7 930.9 656.9 931.7 657.2 932.5 657.5 933.3 657.8 934.1 658.1 934.9 658.3 935.7 658.6 936.5 658.9 937.1 659.1 937.3 659.2 938.1 659.5 938.9 659.7 939.6 660 940.4 660.3 941.2 660.6 942 660.8 942.8 661.1 943.6 661.4 944.4 661.6 945.2 661.9 946 662.2 946.8 662.5 947.5 662.7 948.3 663 949.1 663.3 949.9 663.5 950.7 663.8 951.5 664.1 952.3 664.3 953.1 664.6 953.9 664.8 954.7 665.1 955.5 665.4 956.2 665.6 957 665.9 957.3 666 957.8 666.1 958.6 666.4 959.4 666.6 960.2 666.9 961 667.2 961.8 667.4 962.6 667.7 963.4 667.9 964.1 668.2 964.9 668.4 965.7 668.7 966.5 668.9 967.3 669.2 968.1 669.4 968.9 669.7 969.7 669.9 970.5 670.2 971.3 670.4 972 670.7 972.8 670.9 973.6 671.1 974.4 671.4 975.2 671.6 976 671.8 976.8 672 977.4 672.2 977.6 672.3 978.4 672.5 979.2 672.7 980 672.9 980.7 673.1 981.5 673.3 982.3 673.5 983.1 673.8 983.9 674 984.7 674.2 985.5 674.4 986.3 674.6 987.1 674.8 987.9 674.9 988.6 675.1 989.4 675.3 990.2 675.5 991 675.7 991.8 675.9 992.6 676.1 993.4 676.3 994.2 676.5 995 676.7 995.8 676.9 996.6 677.1 997.3 677.3 997.6 677.4 998.1 677.5 998.9 677.7 999.7 677.9 1000.5 678.1 1001.3 678.3 1002.1 678.5 1002.9 678.7 1003.7 678.9 1004.5 679.1 1005.2 679.3 1006 679.5 1006.8 679.8 1007.6 680 1008.4 680.2 1009.2 680.4 1010 680.6 1010.8 680.8 1011.6 681 1012.4 681.2 1013.2 681.4 1013.9 681.5 1014.7 681.7 1015.5 681.9 1016.3 682.1 1017.1 682.3 1017.9 682.5 1018 682.5 1018.7 682.6 1019.5 682.8 1020.3 683 1021.1 683.2 1021.8 683.3 1022.6 683.5 1023.4 683.7 1024.2 683.8 1025 684 1025.8 684.1 1026.6 684.3 1027.4 684.5 1028.2 684.6 1029 684.8 1029.7 684.9 1030.5 685.1 1031.3 685.2 1032.1 685.4 1032.9 685.5 1033.7 685.7 1034.5 685.8 1035.3 686 1036.1 686.1 1036.9 686.3 1037.7 686.4 1038.2 686.5 1038.4 686.5 1039.2 686.7 1040 686.8 1040.8 686.9 1041.6 687.1 1042.4 687.2 1043.2 687.3 1044 687.4 1044.8 687.6 1045.6 687.7 1046.3 687.8 1047.1 687.9 1047.9 688.1 1048.7 688.2"/>
<g class="mk"><path d="M646.4 855.2h10M651.4 850.2v10"/><path d="M663.9 855.2h10M668.9 850.2v10"/><path d="M681.5 855.2h10M686.5 850.2v10"/><path d="M699 855.2h10M704 850.2v10"/><path d="M716.5 855.2h10M721.5 850.2v10"/><path d="M734 855.2h10M739 850.2v10"/><path d="M751.6 855.2h10M756.6 850.2v10"/><path d="M769.1 855.2h10M774.1 850.2v10"/><path d="M804.2 569.6h10M809.2 564.6v10"/><path d="M821.7 590.2h10M826.7 585.2v10"/><path d="M839.2 610.7h10M844.2 605.7v10"/><path d="M856.8 628.3h10M861.8 623.3v10"/><path d="M874.3 643.7h10M879.3 638.7v10"/><path d="M891.8 657.4h10M896.8 652.4v10"/><path d="M909.4 670h10M914.4 665v10"/><path d="M926.9 681.4h10M931.9 676.4v10"/><path d="M944.4 691.6h10M949.4 686.6v10"/><path d="M961.9 700.2h10M966.9 695.2v10"/><path d="M979.5 708.1h10M984.5 703.1v10"/><path d="M997 716.1h10M1002 711.1v10"/><path d="M1014.5 723.5h10M1019.5 718.5v10"/><path d="M1032.1 730.4h10M1037.1 725.4v10"/><path d="M769.1 652.9h10M774.1 647.9v10"/><path d="M786.6 612.4h10M791.6 607.4v10"/></g>
<g class="mk"><path d="M646.4 850.2l9.9 9.9M646.4 860.2l9.9 -9.9"/><path d="M664 850.2l9.9 9.9M664 860.2l9.9 -9.9"/><path d="M681.5 850.2l9.9 9.9M681.5 860.2l9.9 -9.9"/><path d="M699 850.2l9.9 9.9M699 860.2l9.9 -9.9"/><path d="M716.6 850.2l9.9 9.9M716.6 860.2l9.9 -9.9"/><path d="M734.1 848.3l9.9 9.9M734.1 858.2l9.9 -9.9"/><path d="M751.6 818.9l9.9 9.9M751.6 828.8l9.9 -9.9"/><path d="M769.2 669l9.9 9.9M769.2 678.9l9.9 -9.9"/><path d="M786.7 573.2l9.9 9.9M786.7 583.1l9.9 -9.9"/><path d="M804.2 580.6l9.9 9.9M804.2 590.5l9.9 -9.9"/><path d="M821.8 600.6l9.9 9.9M821.8 610.5l9.9 -9.9"/><path d="M839.3 617.7l9.9 9.9M839.3 627.6l9.9 -9.9"/><path d="M856.8 635.4l9.9 9.9M856.8 645.3l9.9 -9.9"/><path d="M874.3 649.6l9.9 9.9M874.3 659.5l9.9 -9.9"/><path d="M891.9 662.1l9.9 9.9M891.9 672.1l9.9 -9.9"/><path d="M909.4 674.7l9.9 9.9M909.4 684.6l9.9 -9.9"/><path d="M926.9 685l9.9 9.9M926.9 694.9l9.9 -9.9"/><path d="M944.5 694.6l9.9 9.9M944.5 704.5l9.9 -9.9"/><path d="M962 703.2l9.9 9.9M962 713.1l9.9 -9.9"/><path d="M979.5 711.2l9.9 9.9M979.5 721.1l9.9 -9.9"/><path d="M997 719.1l9.9 9.9M997 729.1l9.9 -9.9"/><path d="M1014.6 726.6l9.9 9.9M1014.6 736.5l9.9 -9.9"/><path d="M1032.1 733.4l9.9 9.9M1032.1 743.3l9.9 -9.9"/></g>
<g class="mk"><path d="M646.5 855.2h9.8M651.4 850.3v9.8M646.7 850.5l9.4 9.4M646.7 859.9l9.4 -9.4"/><path d="M664 855.2h9.8M668.9 850.3v9.8M664.2 850.5l9.4 9.4M664.2 859.9l9.4 -9.4"/><path d="M681.6 855.2h9.8M686.5 850.3v9.8M681.8 850.5l9.4 9.4M681.8 859.9l9.4 -9.4"/><path d="M699.1 854.9h9.8M704 850v9.8M699.3 850.2l9.4 9.4M699.3 859.6l9.4 -9.4"/><path d="M716.6 758.9h9.8M721.5 754v9.8M716.8 754.2l9.4 9.4M716.8 763.6l9.4 -9.4"/><path d="M734.1 611.2h9.8M739 606.3v9.8M734.3 606.5l9.4 9.4M734.3 615.9l9.4 -9.4"/><path d="M751.7 597h9.8M756.6 592.1v9.8M751.9 592.3l9.4 9.4M751.9 601.7l9.4 -9.4"/><path d="M769.2 600.4h9.8M774.1 595.5v9.8M769.4 595.7l9.4 9.4M769.4 605.1l9.4 -9.4"/><path d="M786.7 612.4h9.8M791.6 607.5v9.8M786.9 607.7l9.4 9.4M786.9 617.1l9.4 -9.4"/><path d="M804.3 624.9h9.8M809.2 620v9.8M804.5 620.2l9.4 9.4M804.5 629.6l9.4 -9.4"/><path d="M821.8 640.3h9.8M826.7 635.4v9.8M822 635.6l9.4 9.4M822 645l9.4 -9.4"/><path d="M839.3 655.7h9.8M844.2 650.8v9.8M839.5 651l9.4 9.4M839.5 660.4l9.4 -9.4"/><path d="M856.9 670.5h9.8M861.8 665.6v9.8M857.1 665.8l9.4 9.4M857.1 675.2l9.4 -9.4"/><path d="M874.4 684.2h9.8M879.3 679.3v9.8M874.6 679.5l9.4 9.4M874.6 688.9l9.4 -9.4"/><path d="M891.9 696.2h9.8M896.8 691.3v9.8M892.1 691.5l9.4 9.4M892.1 700.9l9.4 -9.4"/><path d="M909.5 708.1h9.8M914.4 703.2v9.8M909.6 703.4l9.4 9.4M909.6 712.8l9.4 -9.4"/><path d="M927 718.4h9.8M931.9 713.5v9.8M927.2 713.7l9.4 9.4M927.2 723.1l9.4 -9.4"/><path d="M944.5 727.5h9.8M949.4 722.6v9.8M944.7 722.8l9.4 9.4M944.7 732.2l9.4 -9.4"/><path d="M962 735.5h9.8M966.9 730.6v9.8M962.2 730.8l9.4 9.4M962.2 740.2l9.4 -9.4"/><path d="M979.6 742.9h9.8M984.5 738v9.8M979.8 738.2l9.4 9.4M979.8 747.6l9.4 -9.4"/><path d="M997.1 749.2h9.8M1002 744.3v9.8M997.3 744.5l9.4 9.4M997.3 753.9l9.4 -9.4"/><path d="M1014.6 755.5h9.8M1019.5 750.6v9.8M1014.8 750.8l9.4 9.4M1014.8 760.2l9.4 -9.4"/><path d="M1032.2 761.2h9.8M1037.1 756.3v9.8M1032.4 756.5l9.4 9.4M1032.4 765.9l9.4 -9.4"/><path d="M769.2 657.4h9.8M774.1 652.5v9.8M769.4 652.7l9.4 9.4M769.4 662.1l9.4 -9.4"/></g>
<g class="mk"><rect x="646.6" y="850.4" width="9.6" height="9.6"/><rect x="664.1" y="850.4" width="9.6" height="9.6"/><rect x="681.7" y="847.9" width="9.6" height="9.6"/><rect x="699.2" y="675.4" width="9.6" height="9.6"/><rect x="716.7" y="603" width="9.6" height="9.6"/><rect x="734.2" y="616.1" width="9.6" height="9.6"/><rect x="751.8" y="633.8" width="9.6" height="9.6"/><rect x="769.3" y="648.6" width="9.6" height="9.6"/><rect x="786.8" y="665.2" width="9.6" height="9.6"/><rect x="804.4" y="678.8" width="9.6" height="9.6"/><rect x="821.9" y="693.1" width="9.6" height="9.6"/><rect x="839.4" y="705.6" width="9.6" height="9.6"/><rect x="857" y="717" width="9.6" height="9.6"/><rect x="874.5" y="728.4" width="9.6" height="9.6"/><rect x="892" y="739.3" width="9.6" height="9.6"/><rect x="909.6" y="747.8" width="9.6" height="9.6"/><rect x="927.1" y="755.8" width="9.6" height="9.6"/><rect x="944.6" y="762.6" width="9.6" height="9.6"/><rect x="962.1" y="768.9" width="9.6" height="9.6"/><rect x="979.7" y="774.6" width="9.6" height="9.6"/><rect x="997.2" y="779.2" width="9.6" height="9.6"/><rect x="1014.7" y="783.1" width="9.6" height="9.6"/><rect x="1032.3" y="787.1" width="9.6" height="9.6"/></g>
<g class="mk"><rect class="f" x="646.5" y="850.4" width="9.7" height="9.7"/><rect class="f" x="664.1" y="850.4" width="9.7" height="9.7"/><rect class="f" x="681.6" y="839.5" width="9.7" height="9.7"/><rect class="f" x="699.1" y="670.8" width="9.7" height="9.7"/><rect class="f" x="716.7" y="679.4" width="9.7" height="9.7"/><rect class="f" x="734.2" y="704.4" width="9.7" height="9.7"/><rect class="f" x="751.7" y="724.4" width="9.7" height="9.7"/><rect class="f" x="769.3" y="738.6" width="9.7" height="9.7"/><rect class="f" x="786.8" y="750.6" width="9.7" height="9.7"/><rect class="f" x="804.3" y="759.1" width="9.7" height="9.7"/><rect class="f" x="821.9" y="768.8" width="9.7" height="9.7"/><rect class="f" x="839.4" y="776.8" width="9.7" height="9.7"/><rect class="f" x="856.9" y="783.7" width="9.7" height="9.7"/><rect class="f" x="874.4" y="789.4" width="9.7" height="9.7"/><rect class="f" x="892" y="795.6" width="9.7" height="9.7"/><rect class="f" x="909.5" y="799.6" width="9.7" height="9.7"/><rect class="f" x="927" y="803" width="9.7" height="9.7"/><rect class="f" x="944.6" y="807.6" width="9.7" height="9.7"/><rect class="f" x="962.1" y="811" width="9.7" height="9.7"/><rect class="f" x="979.6" y="813.9" width="9.7" height="9.7"/><rect class="f" x="997.1" y="815.6" width="9.7" height="9.7"/><rect class="f" x="1014.7" y="818.4" width="9.7" height="9.7"/><rect class="f" x="1032.2" y="819.6" width="9.7" height="9.7"/></g>
<g class="mk"><circle stroke-width="1.85" cx="651.4" cy="855.2" r="4.75"/><circle stroke-width="1.85" cx="668.9" cy="855.2" r="4.75"/><circle stroke-width="1.85" cx="686.5" cy="852.5" r="4.75"/><circle stroke-width="1.85" cx="704" cy="745.8" r="4.75"/><circle stroke-width="1.85" cx="721.5" cy="742.9" r="4.75"/><circle stroke-width="1.85" cx="739" cy="761.2" r="4.75"/><circle stroke-width="1.85" cx="756.6" cy="775.4" r="4.75"/><circle stroke-width="1.85" cx="774.1" cy="785.1" r="4.75"/><circle stroke-width="1.85" cx="791.6" cy="791.9" r="4.75"/><circle stroke-width="1.85" cx="809.2" cy="798.2" r="4.75"/><circle stroke-width="1.85" cx="826.7" cy="803.9" r="4.75"/><circle stroke-width="1.85" cx="844.2" cy="808.5" r="4.75"/><circle stroke-width="1.85" cx="861.8" cy="812.5" r="4.75"/><circle stroke-width="1.85" cx="879.3" cy="816.4" r="4.75"/><circle stroke-width="1.85" cx="896.8" cy="818.7" r="4.75"/><circle stroke-width="1.85" cx="914.4" cy="822.1" r="4.75"/><circle stroke-width="1.85" cx="931.9" cy="824.4" r="4.75"/><circle stroke-width="1.85" cx="949.4" cy="827.3" r="4.75"/><circle stroke-width="1.85" cx="966.9" cy="829" r="4.75"/><circle stroke-width="1.85" cx="984.5" cy="831.3" r="4.75"/><circle stroke-width="1.85" cx="1002" cy="833" r="4.75"/><circle stroke-width="1.85" cx="1019.5" cy="834.1" r="4.75"/><circle stroke-width="1.85" cx="1037.1" cy="835.5" r="4.75"/></g>
<g class="mk"><path class="f" d="M651.4 849.3L656.5 857.6L646.3 857.6Z"/><path class="f" d="M668.9 849.3L674 857.6L663.8 857.6Z"/><path class="f" d="M686.5 849.3L691.6 857.5L681.4 857.5Z"/><path class="f" d="M704 812.8L709.1 821.1L698.9 821.1Z"/><path class="f" d="M721.5 799.7L726.6 808L716.4 808Z"/><path class="f" d="M739 805.5L744.1 813.8L733.9 813.8Z"/><path class="f" d="M756.6 811.2L761.7 819.5L751.5 819.5Z"/><path class="f" d="M774.1 814.6L779.2 822.9L769 822.9Z"/><path class="f" d="M791.6 818.6L796.7 826.9L786.5 826.9Z"/><path class="f" d="M809.2 820.3L814.3 828.6L804.1 828.6Z"/><path class="f" d="M826.7 822.6L831.8 830.9L821.6 830.9Z"/><path class="f" d="M844.2 824.3L849.3 832.6L839.1 832.6Z"/><path class="f" d="M861.8 826L866.9 834.3L856.7 834.3Z"/><path class="f" d="M879.3 827.8L884.4 836L874.2 836Z"/><path class="f" d="M896.8 828.9L901.9 837.1L891.7 837.1Z"/><path class="f" d="M914.4 830L919.5 838.3L909.2 838.3Z"/><path class="f" d="M931.9 831.2L937 839.4L926.8 839.4Z"/><path class="f" d="M949.4 832.3L954.5 840.6L944.3 840.6Z"/><path class="f" d="M966.9 833.5L972 841.7L961.8 841.7Z"/><path class="f" d="M984.5 834.6L989.6 842.8L979.4 842.8Z"/><path class="f" d="M1002 835.7L1007.1 844L996.9 844Z"/><path class="f" d="M1019.5 836.9L1024.6 845.1L1014.4 845.1Z"/><path class="f" d="M1037.1 838L1042.2 846.3L1032 846.3Z"/></g>
<g class="mk"><path stroke-width="2.1" d="M651.4 850.2L655.7 857.2L647.1 857.2Z"/><path stroke-width="2.1" d="M668.9 850.2L673.2 857.2L664.6 857.2Z"/><path stroke-width="2.1" d="M686.5 850.2L690.8 857.2L682.2 857.2Z"/><path stroke-width="2.1" d="M704 825.1L708.3 832.2L699.7 832.2Z"/><path stroke-width="2.1" d="M721.5 815.4L725.8 822.5L717.2 822.5Z"/><path stroke-width="2.1" d="M739 819.5L743.3 826.6L734.8 826.6Z"/><path stroke-width="2.1" d="M756.6 822.4L760.9 829.4L752.3 829.4Z"/><path stroke-width="2.1" d="M774.1 825.2L778.4 832.3L769.8 832.3Z"/><path stroke-width="2.1" d="M791.6 827.5L795.9 834.6L787.3 834.6Z"/><path stroke-width="2.1" d="M809.2 828.1L813.5 835.1L804.9 835.1Z"/><path stroke-width="2.1" d="M826.7 829.8L831 836.8L822.4 836.8Z"/><path stroke-width="2.1" d="M844.2 830.9L848.5 838L839.9 838Z"/><path stroke-width="2.1" d="M861.8 832.1L866.1 839.1L857.5 839.1Z"/><path stroke-width="2.1" d="M879.3 833.2L883.6 840.3L875 840.3Z"/><path stroke-width="2.1" d="M896.8 834.4L901.1 841.4L892.5 841.4Z"/><path stroke-width="2.1" d="M914.4 835.2L918.6 842.3L910.1 842.3Z"/><path stroke-width="2.1" d="M931.9 836.1L936.2 843.1L927.6 843.1Z"/><path stroke-width="2.1" d="M949.4 836.9L953.7 844L945.1 844Z"/><path stroke-width="2.1" d="M966.9 837.8L971.2 844.8L962.6 844.8Z"/><path stroke-width="2.1" d="M984.5 838.6L988.8 845.7L980.2 845.7Z"/><path stroke-width="2.1" d="M1002 839.5L1006.3 846.5L997.7 846.5Z"/><path stroke-width="2.1" d="M1019.5 840.3L1023.8 847.4L1015.2 847.4Z"/><path stroke-width="2.1" d="M1037.1 841.2L1041.4 848.2L1032.8 848.2Z"/></g>
<g class="mk"><circle class="f" cx="654.3" cy="855.2" r="5"/><circle class="f" cx="674.5" cy="855.2" r="5"/><circle class="f" cx="694.7" cy="855.2" r="5"/><circle class="f" cx="714.9" cy="855.2" r="5"/><circle class="f" cx="735.1" cy="855.2" r="5"/><circle class="f" cx="755.3" cy="855.2" r="5"/><circle class="f" cx="775.5" cy="853" r="5"/><circle class="f" cx="795.7" cy="604.6" r="5"/><circle class="f" cx="815.9" cy="589.6" r="5"/><circle class="f" cx="836.1" cy="604.4" r="5"/><circle class="f" cx="856.3" cy="619.3" r="5"/><circle class="f" cx="876.5" cy="631.7" r="5"/><circle class="f" cx="896.7" cy="642.5" r="5"/><circle class="f" cx="916.9" cy="651.7" r="5"/><circle class="f" cx="937.1" cy="659.1" r="5"/><circle class="f" cx="957.3" cy="666" r="5"/><circle class="f" cx="977.5" cy="672.2" r="5"/><circle class="f" cx="997.7" cy="677.4" r="5"/><circle class="f" cx="1017.9" cy="682.5" r="5"/><circle class="f" cx="1038.1" cy="686.5" r="5"/></g>
</g>
<text class="tk" x="687.4" y="881.7" text-anchor="middle">−4</text>
<text class="tk" x="735.4" y="881.7" text-anchor="middle">−2</text>
<text class="tk" x="784" y="881.7" text-anchor="middle">0</text>
<text class="tk" x="832" y="881.7" text-anchor="middle">2</text>
<text class="tk" x="880" y="881.7" text-anchor="middle">4</text>
<text class="tk" x="928" y="881.7" text-anchor="middle">6</text>
<text class="tk" x="976" y="881.7" text-anchor="middle">8</text>
<text class="tk" x="1024" y="881.7" text-anchor="middle">10</text>
<text class="tk" x="631" y="862.2" text-anchor="end">0</text>
<text class="tk" x="631" y="805.2" text-anchor="end">1</text>
<text class="tk" x="631" y="748.2" text-anchor="end">2</text>
<text class="tk" x="631" y="691.2" text-anchor="end">3</text>
<text class="tk" x="631" y="634.2" text-anchor="end">4</text>
<text class="tk" x="631" y="577.2" text-anchor="end">5</text>
<g class="ch">
<path class="ln" d="M102.3 573.3H131.1"/>
<g class="mk lgm"><path d="M111.7 573.3h10M116.7 568.3v10"/></g>
<text class="lg it" x="144.6" y="576.1">y</text>
<path d="M156.7 570.5h12.8M156.7 573.5h12.8" stroke="#000" stroke-width="1.15" fill="none"/>
<text class="lg" x="173.6" y="576.1">0</text>
<path class="ln" d="M102.3 592.2H131.1"/>
<g class="mk lgm"><path d="M111.8 587.2l9.9 9.9M111.8 597.1l9.9 -9.9"/></g>
<text class="lg it" x="144.6" y="595">y</text>
<path d="M156.7 589.5h12.8M156.7 592.5h12.8" stroke="#000" stroke-width="1.15" fill="none"/>
<path d="M175.6 590.5h11.4" stroke="#000" stroke-width="1.15" fill="none"/>
<text class="lg" x="188.3" y="595">0.5</text>
<path class="ln" d="M102.3 611H131.1"/>
<g class="mk lgm"><path d="M111.8 611h9.8M116.7 606.1v9.8M112 606.3l9.4 9.4M112 615.7l9.4 -9.4"/></g>
<text class="lg it" x="144.6" y="613.8">y</text>
<path d="M156.7 608.5h12.8M156.7 611.5h12.8" stroke="#000" stroke-width="1.15" fill="none"/>
<path d="M175.6 609.5h11.4" stroke="#000" stroke-width="1.15" fill="none"/>
<text class="lg" x="188.3" y="613.8">1.0</text>
<path class="ln" d="M102.3 629.9H131.1"/>
<g class="mk lgm"><rect class="w" x="111.9" y="625.1" width="9.6" height="9.6"/><circle class="d" cx="116.7" cy="629.9" r="1.1"/></g>
<text class="lg it" x="144.6" y="632.7">y</text>
<path d="M156.7 627.5h12.8M156.7 630.5h12.8" stroke="#000" stroke-width="1.15" fill="none"/>
<path d="M175.6 628.5h11.4" stroke="#000" stroke-width="1.15" fill="none"/>
<text class="lg" x="188.3" y="632.7">1.5</text>
<path class="ln" d="M102.3 648.8H131.1"/>
<g class="mk lgm"><rect class="f" x="111.9" y="643.9" width="9.7" height="9.7"/></g>
<text class="lg it" x="144.6" y="651.6">y</text>
<path d="M156.7 646.5h12.8M156.7 649.5h12.8" stroke="#000" stroke-width="1.15" fill="none"/>
<path d="M175.6 647.5h11.4" stroke="#000" stroke-width="1.15" fill="none"/>
<text class="lg" x="188.3" y="651.6">2.0</text>
<path class="ln" d="M102.3 667.6H131.1"/>
<g class="mk lgm"><circle class="w" stroke-width="1.85" cx="116.7" cy="667.6" r="4.75"/><circle class="d" cx="116.7" cy="667.6" r="1.1"/></g>
<text class="lg it" x="144.6" y="670.4">y</text>
<path d="M156.7 664.5h12.8M156.7 667.5h12.8" stroke="#000" stroke-width="1.15" fill="none"/>
<path d="M175.6 666.5h11.4" stroke="#000" stroke-width="1.15" fill="none"/>
<text class="lg" x="188.3" y="670.4">2.2</text>
<path class="ln" d="M102.3 686.5H131.1"/>
<g class="mk lgm"><path class="f" d="M116.7 680.6L121.8 688.9L111.6 688.9Z"/></g>
<text class="lg it" x="144.6" y="689.3">y</text>
<path d="M156.7 683.5h12.8M156.7 686.5h12.8" stroke="#000" stroke-width="1.15" fill="none"/>
<path d="M175.6 685.5h11.4" stroke="#000" stroke-width="1.15" fill="none"/>
<text class="lg" x="188.3" y="689.3">2.4</text>
<path class="ln" d="M102.3 705.4H131.1"/>
<g class="mk lgm"><path class="w" stroke-width="2.1" d="M116.7 700.4L121 707.4L112.4 707.4Z"/><circle class="d" cx="116.7" cy="704.8" r="1.0"/></g>
<text class="lg it" x="144.6" y="708.2">y</text>
<path d="M156.7 702.5h12.8M156.7 705.5h12.8" stroke="#000" stroke-width="1.15" fill="none"/>
<path d="M175.6 704.5h11.4" stroke="#000" stroke-width="1.15" fill="none"/>
<text class="lg" x="188.3" y="708.2">2.5</text>
<path class="ln" d="M102.3 724.3H131.1"/>
<g class="mk lgm"><circle class="f" cx="116.7" cy="724.3" r="5"/></g>
<text font-size="18.6" x="144" y="729.7">Adiabatic</text>
</g>
<text class="it" font-size="30" x="-0.2" y="541"><tspan style="font-style:normal">(</tspan>b<tspan style="font-style:normal" dx="1">)</tspan></text>
<text class="it" font-size="30" x="567.3" y="541"><tspan style="font-style:normal">(</tspan>c<tspan style="font-style:normal" dx="1">)</tspan></text>
<text class="tk" x="88.6" y="542.3">(</text>
<path d="M100.8 531.5l12 11.4M100.8 542.9l12 -11.4" stroke="#000" stroke-width="1.35" fill="none"/>
<text class="tk" x="121.4" y="543.5">10</text>
<text font-size="17.6" x="146.5" y="534.5">3</text>
<text class="tk" x="154.7" y="542.3">)</text>
<text class="tk" x="638.8" y="542.3">(</text>
<path d="M651 531.5l12 11.4M651 542.9l12 -11.4" stroke="#000" stroke-width="1.35" fill="none"/>
<text class="tk" x="671.6" y="543.5">10</text>
<text font-size="17.6" x="696.7" y="534.5">3</text>
<text class="tk" x="704.9" y="542.3">)</text>
<text class="it" font-size="30.5" x="0.8" y="707.6">Y</text>
<text font-size="20" x="15.8" y="712.9">OH</text>
<text class="it" font-size="30" transform="translate(275.6 917.7) scale(1.13 1)" x="0" y="0">x</text>
<path d="M293 923.7L302.3 898" stroke="#000" stroke-width="1.6" fill="none"/>
<text class="it" font-size="30" x="304" y="917.7">δ</text>
<text font-size="19.5" x="318.6" y="905.8">0</text>
<text class="it" font-size="20" transform="translate(316.6 925.5) skewX(-14) scale(1.15 0.95)" x="0" y="0">f</text>
<text class="it" font-size="30" transform="translate(817.9 917.7) scale(1.13 1)" x="0" y="0">x</text>
<path d="M835.3 923.7L844.6 898" stroke="#000" stroke-width="1.6" fill="none"/>
<text class="it" font-size="30" x="846.3" y="917.7">δ</text>
<text font-size="19.5" x="860.9" y="905.8">0</text>
<text class="it" font-size="20" transform="translate(858.9 925.5) skewX(-14) scale(1.15 0.95)" x="0" y="0">f</text>
<text class="t25" x="303.5" y="964" text-anchor="middle">OH isothermal no-slip wall</text>
<text font-size="25.1" x="856" y="964" text-anchor="middle">OH heat conductive wall</text>
</svg></body></html>
